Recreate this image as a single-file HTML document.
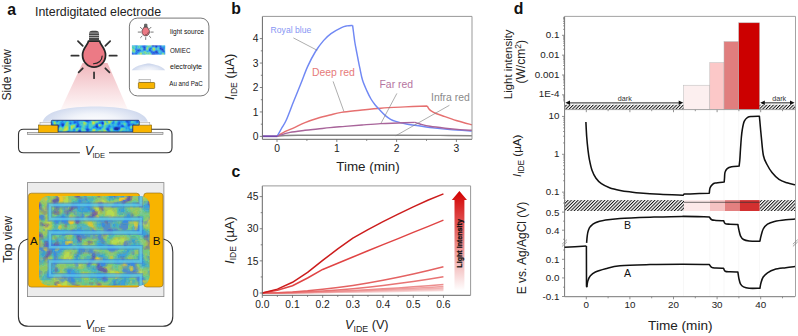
<!DOCTYPE html><html><head><meta charset="utf-8"><style>html,body{margin:0;padding:0;background:#fff;font-family:"Liberation Sans",sans-serif;}svg{display:block;}</style></head><body>
<svg width="798" height="336" viewBox="0 0 798 336" font-family="'Liberation Sans', sans-serif">
<defs>
<pattern id="hatch" patternUnits="userSpaceOnUse" width="2.36" height="4" patternTransform="rotate(45)"><rect x="0" y="0" width="1.0" height="4" fill="#111"/></pattern>
<linearGradient id="cone" x1="0" y1="0" x2="0" y2="1"><stop offset="0" stop-color="#f0b6bb"/><stop offset="0.55" stop-color="#f8dcdf"/><stop offset="1" stop-color="#fef8f8"/></linearGradient>
<radialGradient id="dome" gradientUnits="userSpaceOnUse" cx="95" cy="122" r="54" gradientTransform="translate(95,122) scale(1,0.34) translate(-95,-122)"><stop offset="0" stop-color="#ffffff"/><stop offset="0.45" stop-color="#f1f4fa"/><stop offset="1" stop-color="#cdd7ed"/></radialGradient><radialGradient id="dome2" cx="0.5" cy="1" r="0.55" gradientTransform="translate(0.5,1) scale(1,1.8) translate(-0.5,-1)"><stop offset="0" stop-color="#f8f9fd"/><stop offset="0.5" stop-color="#e6ebf6"/><stop offset="1" stop-color="#c6d1ea"/></radialGradient>
<linearGradient id="arrowg" x1="0" y1="0" x2="0" y2="1"><stop offset="0" stop-color="#d20000"/><stop offset="1" stop-color="#ffffff"/></linearGradient>
<clipPath id="filmside"><path d="M51.3,121.3 Q51.3,120.3 52.3,120.3 H138.2 Q139.2,120.3 139.2,121.3 V125 H132.7 V131.9 H58.2 V125 H51.3 Z"/></clipPath>
<clipPath id="filmtop"><rect x="39" y="196" width="110.6" height="89.5" rx="9"/></clipPath>
<clipPath id="leg"><rect x="131.7" y="45.2" width="33.5" height="9.4"/></clipPath>
<clipPath id="pd"><rect x="564.6" y="16.4" width="230.4" height="280.3"/></clipPath>
</defs>
<text x="7.3" y="14.5" font-size="15.8" font-weight="bold" fill="#111">a</text>
<text x="35" y="15.8" font-size="12.4" fill="#222">Interdigitated electrode</text>
<text transform="translate(10.5,74.9) rotate(-90)" font-size="12" text-anchor="middle" fill="#222">Side view</text>
<text transform="translate(12.2,239.5) rotate(-90)" font-size="12" text-anchor="middle" fill="#222">Top view</text>
<path d="M82.5,63 L107.5,63 L128,110 L60.5,110 Z" fill="url(#cone)"/>
<path d="M42.6,121.8 C46,110 70,106.4 95.2,106.4 C120,106.4 144.5,110 147.9,121.8 Z" fill="url(#dome)"/>
<g transform="translate(94.05,30.6) scale(1)"><line x1="-22.7" y1="25.1" x2="-15.4" y2="25.1" stroke="#333" stroke-width="1.75" stroke-linecap="round"/><line x1="15.4" y1="25.1" x2="22.7" y2="25.1" stroke="#333" stroke-width="1.75" stroke-linecap="round"/><line x1="-16.1" y1="10.5" x2="-11.3" y2="15.3" stroke="#333" stroke-width="1.75" stroke-linecap="round"/><line x1="16.1" y1="10.5" x2="11.3" y2="15.3" stroke="#333" stroke-width="1.75" stroke-linecap="round"/><line x1="-15.4" y1="41.7" x2="-11.3" y2="37.7" stroke="#333" stroke-width="1.75" stroke-linecap="round"/><line x1="15.4" y1="41.7" x2="11.3" y2="37.7" stroke="#333" stroke-width="1.75" stroke-linecap="round"/><line x1="0" y1="41.8" x2="0" y2="47.6" stroke="#333" stroke-width="1.75" stroke-linecap="round"/><path d="M-5,9.8 V3.2 Q-5,0.2 -1.8,0.2 H1.8 Q5,0.2 5,3.2 V9.8 Z" fill="#474747"/><rect x="-5" y="2.1" width="10" height="0.65" fill="#d8d8d8"/><rect x="-5" y="4.45" width="10" height="0.65" fill="#d8d8d8"/><rect x="-5" y="6.75" width="10" height="0.65" fill="#d8d8d8"/><path d="M-5.6,10.4 H5.6 C5.6,13.8 11.5,17.2 11.5,24.3 C11.5,31.4 6.1,36.6 0,36.6 C-6.1,36.6 -11.5,31.4 -11.5,24.3 C-11.5,17.2 -5.6,13.8 -5.6,10.4 Z" fill="#ec7a85" stroke="#262626" stroke-width="1.75" stroke-linejoin="round"/><path d="M8.1,25.4 C8.1,29.8 4.6,33 -0.6,33.2" fill="none" stroke="#262626" stroke-width="1.14" stroke-linecap="round"/></g>
<rect x="129.4" y="18.1" width="79.5" height="77.8" rx="8" fill="#fff" stroke="#555" stroke-width="0.8"/>
<g transform="translate(145.7,23.8) scale(0.33)"><line x1="-22.7" y1="25.1" x2="-15.4" y2="25.1" stroke="#333" stroke-width="2" stroke-linecap="round"/><line x1="15.4" y1="25.1" x2="22.7" y2="25.1" stroke="#333" stroke-width="2" stroke-linecap="round"/><line x1="-16.1" y1="10.5" x2="-11.3" y2="15.3" stroke="#333" stroke-width="2" stroke-linecap="round"/><line x1="16.1" y1="10.5" x2="11.3" y2="15.3" stroke="#333" stroke-width="2" stroke-linecap="round"/><line x1="-15.4" y1="41.7" x2="-11.3" y2="37.7" stroke="#333" stroke-width="2" stroke-linecap="round"/><line x1="15.4" y1="41.7" x2="11.3" y2="37.7" stroke="#333" stroke-width="2" stroke-linecap="round"/><line x1="0" y1="41.8" x2="0" y2="47.6" stroke="#333" stroke-width="2" stroke-linecap="round"/><path d="M-5,9.8 V3.2 Q-5,0.2 -1.8,0.2 H1.8 Q5,0.2 5,3.2 V9.8 Z" fill="#474747"/><rect x="-5" y="2.1" width="10" height="0.65" fill="#d8d8d8"/><rect x="-5" y="4.45" width="10" height="0.65" fill="#d8d8d8"/><rect x="-5" y="6.75" width="10" height="0.65" fill="#d8d8d8"/><path d="M-5.6,10.4 H5.6 C5.6,13.8 11.5,17.2 11.5,24.3 C11.5,31.4 6.1,36.6 0,36.6 C-6.1,36.6 -11.5,31.4 -11.5,24.3 C-11.5,17.2 -5.6,13.8 -5.6,10.4 Z" fill="#ec7a85" stroke="#262626" stroke-width="2" stroke-linejoin="round"/><path d="M8.1,25.4 C8.1,29.8 4.6,33 -0.6,33.2" fill="none" stroke="#262626" stroke-width="1.3" stroke-linecap="round"/></g>
<g clip-path="url(#leg)"><path fill="#1a2c9a" d="M155.7 51.2h1.25v1.25h-1.25zM152.7 54.2h1.25v1.25h-1.25z"/><path fill="#1b38ae" d="M152.7 45.2h1.25v1.25h-1.25zM155.7 45.2h1.25v1.25h-1.25zM155.7 46.2h1.25v1.25h-1.25zM143.7 48.2h1.25v1.25h-1.25zM160.7 48.2h1.25v1.25h-1.25zM162.7 50.2h1.25v1.25h-1.25zM154.7 51.2h1.25v1.25h-1.25zM151.7 54.2h1.25v1.25h-1.25z"/><path fill="#1c44c2" d="M151.7 45.2h1.25v1.25h-1.25zM153.7 45.2h2.25v1.25h-2.25zM143.7 46.2h1.25v1.25h-1.25zM143.7 47.2h1.25v1.25h-1.25zM159.7 47.2h2.25v1.25h-2.25zM159.7 48.2h1.25v1.25h-1.25zM161.7 48.2h1.25v1.25h-1.25zM138.7 49.2h1.25v1.25h-1.25zM143.7 49.2h1.25v1.25h-1.25zM160.7 49.2h3.25v1.25h-3.25zM155.7 50.2h1.25v1.25h-1.25zM150.7 51.2h1.25v1.25h-1.25zM156.7 51.2h1.25v1.25h-1.25zM162.7 51.2h1.25v1.25h-1.25zM155.7 52.2h2.25v1.25h-2.25zM131.7 53.2h1.25v1.25h-1.25zM153.7 54.2h1.25v1.25h-1.25z"/><path fill="#1d50d6" d="M156.7 45.2h1.25v1.25h-1.25zM159.7 45.2h1.25v1.25h-1.25zM142.7 46.2h1.25v1.25h-1.25zM154.7 46.2h1.25v1.25h-1.25zM159.7 46.2h1.25v1.25h-1.25zM162.7 48.2h1.25v1.25h-1.25zM137.7 49.2h1.25v1.25h-1.25zM137.7 50.2h2.25v1.25h-2.25zM156.7 50.2h1.25v1.25h-1.25zM161.7 50.2h1.25v1.25h-1.25zM151.7 51.2h1.25v1.25h-1.25zM154.7 52.2h1.25v1.25h-1.25zM132.7 53.2h1.25v1.25h-1.25zM151.7 53.2h3.25v1.25h-3.25zM154.7 54.2h1.25v1.25h-1.25z"/><path fill="#1e60e6" d="M142.7 45.2h2.25v1.25h-2.25zM158.7 45.2h1.25v1.25h-1.25zM141.7 46.2h1.25v1.25h-1.25zM144.7 46.2h1.25v1.25h-1.25zM156.7 46.2h1.25v1.25h-1.25zM160.7 46.2h1.25v1.25h-1.25zM142.7 47.2h1.25v1.25h-1.25zM144.7 47.2h1.25v1.25h-1.25zM149.7 47.2h1.25v1.25h-1.25zM155.7 47.2h1.25v1.25h-1.25zM161.7 47.2h2.25v1.25h-2.25zM144.7 48.2h1.25v1.25h-1.25zM148.7 48.2h2.25v1.25h-2.25zM135.7 49.2h2.25v1.25h-2.25zM139.7 49.2h1.25v1.25h-1.25zM144.7 49.2h1.25v1.25h-1.25zM148.7 49.2h2.25v1.25h-2.25zM159.7 49.2h1.25v1.25h-1.25zM136.7 50.2h1.25v1.25h-1.25zM139.7 50.2h1.25v1.25h-1.25zM148.7 50.2h3.25v1.25h-3.25zM154.7 50.2h1.25v1.25h-1.25zM163.7 50.2h1.25v1.25h-1.25zM137.7 51.2h1.25v1.25h-1.25zM152.7 51.2h2.25v1.25h-2.25zM163.7 51.2h1.25v1.25h-1.25zM131.7 52.2h1.25v1.25h-1.25zM135.7 52.2h1.25v1.25h-1.25zM150.7 52.2h4.25v1.25h-4.25zM133.7 53.2h3.25v1.25h-3.25zM155.7 53.2h2.25v1.25h-2.25zM164.7 53.2h1.25v1.25h-1.25zM131.7 54.2h4.25v1.25h-4.25zM155.7 54.2h1.25v1.25h-1.25zM159.7 54.2h1.25v1.25h-1.25z"/><path fill="#227aea" d="M135.7 45.2h1.25v1.25h-1.25zM144.7 45.2h1.25v1.25h-1.25zM157.7 45.2h1.25v1.25h-1.25zM160.7 45.2h1.25v1.25h-1.25zM151.7 46.2h2.25v1.25h-2.25zM158.7 46.2h1.25v1.25h-1.25zM162.7 46.2h1.25v1.25h-1.25zM150.7 47.2h1.25v1.25h-1.25zM135.7 48.2h1.25v1.25h-1.25zM138.7 48.2h1.25v1.25h-1.25zM142.7 48.2h1.25v1.25h-1.25zM150.7 48.2h1.25v1.25h-1.25zM142.7 49.2h1.25v1.25h-1.25zM163.7 49.2h1.25v1.25h-1.25zM135.7 50.2h1.25v1.25h-1.25zM151.7 50.2h1.25v1.25h-1.25zM160.7 50.2h1.25v1.25h-1.25zM135.7 51.2h2.25v1.25h-2.25zM138.7 51.2h1.25v1.25h-1.25zM149.7 51.2h1.25v1.25h-1.25zM161.7 51.2h1.25v1.25h-1.25zM134.7 52.2h1.25v1.25h-1.25zM136.7 52.2h1.25v1.25h-1.25zM157.7 52.2h1.25v1.25h-1.25zM164.7 52.2h1.25v1.25h-1.25zM154.7 53.2h1.25v1.25h-1.25zM157.7 53.2h1.25v1.25h-1.25zM159.7 53.2h1.25v1.25h-1.25zM135.7 54.2h1.25v1.25h-1.25zM142.7 54.2h2.25v1.25h-2.25zM156.7 54.2h1.25v1.25h-1.25zM158.7 54.2h1.25v1.25h-1.25zM164.7 54.2h1.25v1.25h-1.25z"/><path fill="#2594ed" d="M134.7 45.2h1.25v1.25h-1.25zM136.7 45.2h1.25v1.25h-1.25zM141.7 45.2h1.25v1.25h-1.25zM164.7 45.2h1.25v1.25h-1.25zM135.7 46.2h1.25v1.25h-1.25zM140.7 46.2h1.25v1.25h-1.25zM153.7 46.2h1.25v1.25h-1.25zM157.7 46.2h1.25v1.25h-1.25zM161.7 46.2h1.25v1.25h-1.25zM163.7 46.2h1.25v1.25h-1.25zM135.7 47.2h1.25v1.25h-1.25zM148.7 47.2h1.25v1.25h-1.25zM154.7 47.2h1.25v1.25h-1.25zM158.7 47.2h1.25v1.25h-1.25zM163.7 47.2h1.25v1.25h-1.25zM134.7 48.2h1.25v1.25h-1.25zM136.7 48.2h2.25v1.25h-2.25zM158.7 48.2h1.25v1.25h-1.25zM163.7 48.2h1.25v1.25h-1.25zM134.7 49.2h1.25v1.25h-1.25zM150.7 49.2h1.25v1.25h-1.25zM155.7 49.2h1.25v1.25h-1.25zM140.7 50.2h5.25v1.25h-5.25zM147.7 50.2h1.25v1.25h-1.25zM157.7 51.2h1.25v1.25h-1.25zM132.7 52.2h1.25v1.25h-1.25zM137.7 52.2h1.25v1.25h-1.25zM163.7 52.2h1.25v1.25h-1.25zM136.7 53.2h1.25v1.25h-1.25zM158.7 53.2h1.25v1.25h-1.25zM157.7 54.2h1.25v1.25h-1.25zM160.7 54.2h1.25v1.25h-1.25z"/><path fill="#2babeb" d="M131.7 45.2h1.25v1.25h-1.25zM133.7 45.2h1.25v1.25h-1.25zM140.7 45.2h1.25v1.25h-1.25zM145.7 45.2h1.25v1.25h-1.25zM163.7 45.2h1.25v1.25h-1.25zM136.7 46.2h1.25v1.25h-1.25zM145.7 46.2h1.25v1.25h-1.25zM150.7 46.2h1.25v1.25h-1.25zM164.7 46.2h1.25v1.25h-1.25zM134.7 47.2h1.25v1.25h-1.25zM141.7 47.2h1.25v1.25h-1.25zM151.7 47.2h1.25v1.25h-1.25zM156.7 47.2h1.25v1.25h-1.25zM139.7 48.2h1.25v1.25h-1.25zM155.7 48.2h1.25v1.25h-1.25zM147.7 49.2h1.25v1.25h-1.25zM156.7 49.2h1.25v1.25h-1.25zM158.7 49.2h1.25v1.25h-1.25zM145.7 50.2h2.25v1.25h-2.25zM152.7 50.2h2.25v1.25h-2.25zM157.7 50.2h1.25v1.25h-1.25zM159.7 50.2h1.25v1.25h-1.25zM134.7 51.2h1.25v1.25h-1.25zM139.7 51.2h3.25v1.25h-3.25zM146.7 51.2h3.25v1.25h-3.25zM160.7 51.2h1.25v1.25h-1.25zM164.7 51.2h1.25v1.25h-1.25zM133.7 52.2h1.25v1.25h-1.25zM138.7 52.2h1.25v1.25h-1.25zM158.7 52.2h3.25v1.25h-3.25zM162.7 52.2h1.25v1.25h-1.25zM142.7 53.2h2.25v1.25h-2.25zM150.7 53.2h1.25v1.25h-1.25zM160.7 53.2h1.25v1.25h-1.25zM136.7 54.2h1.25v1.25h-1.25zM144.7 54.2h1.25v1.25h-1.25zM150.7 54.2h1.25v1.25h-1.25z"/><path fill="#3bbbd8" d="M132.7 45.2h1.25v1.25h-1.25zM139.7 45.2h1.25v1.25h-1.25zM150.7 45.2h1.25v1.25h-1.25zM161.7 45.2h2.25v1.25h-2.25zM134.7 46.2h1.25v1.25h-1.25zM139.7 46.2h1.25v1.25h-1.25zM149.7 46.2h1.25v1.25h-1.25zM136.7 47.2h1.25v1.25h-1.25zM139.7 47.2h2.25v1.25h-2.25zM145.7 47.2h1.25v1.25h-1.25zM164.7 47.2h1.25v1.25h-1.25zM133.7 48.2h1.25v1.25h-1.25zM147.7 48.2h1.25v1.25h-1.25zM151.7 48.2h1.25v1.25h-1.25zM140.7 49.2h2.25v1.25h-2.25zM145.7 49.2h1.25v1.25h-1.25zM151.7 49.2h1.25v1.25h-1.25zM154.7 49.2h1.25v1.25h-1.25zM157.7 49.2h1.25v1.25h-1.25zM134.7 50.2h1.25v1.25h-1.25zM158.7 50.2h1.25v1.25h-1.25zM164.7 50.2h1.25v1.25h-1.25zM131.7 51.2h1.25v1.25h-1.25zM142.7 51.2h1.25v1.25h-1.25zM145.7 51.2h1.25v1.25h-1.25zM159.7 51.2h1.25v1.25h-1.25zM149.7 52.2h1.25v1.25h-1.25zM161.7 52.2h1.25v1.25h-1.25zM137.7 53.2h1.25v1.25h-1.25zM163.7 53.2h1.25v1.25h-1.25zM141.7 54.2h1.25v1.25h-1.25zM163.7 54.2h1.25v1.25h-1.25z"/><path fill="#4bcbc5" d="M137.7 45.2h2.25v1.25h-2.25zM146.7 45.2h1.25v1.25h-1.25zM131.7 46.2h2.25v1.25h-2.25zM137.7 46.2h1.25v1.25h-1.25zM146.7 46.2h1.25v1.25h-1.25zM148.7 46.2h1.25v1.25h-1.25zM131.7 47.2h3.25v1.25h-3.25zM137.7 47.2h2.25v1.25h-2.25zM147.7 47.2h1.25v1.25h-1.25zM157.7 47.2h1.25v1.25h-1.25zM132.7 48.2h1.25v1.25h-1.25zM140.7 48.2h2.25v1.25h-2.25zM145.7 48.2h1.25v1.25h-1.25zM154.7 48.2h1.25v1.25h-1.25zM156.7 48.2h2.25v1.25h-2.25zM164.7 48.2h1.25v1.25h-1.25zM164.7 49.2h1.25v1.25h-1.25zM132.7 51.2h1.25v1.25h-1.25zM158.7 51.2h1.25v1.25h-1.25zM141.7 52.2h2.25v1.25h-2.25zM146.7 52.2h2.25v1.25h-2.25zM138.7 53.2h1.25v1.25h-1.25zM141.7 53.2h1.25v1.25h-1.25zM144.7 53.2h1.25v1.25h-1.25zM147.7 53.2h1.25v1.25h-1.25zM137.7 54.2h2.25v1.25h-2.25zM145.7 54.2h3.25v1.25h-3.25z"/><path fill="#67d3a4" d="M147.7 45.2h2.25v1.25h-2.25zM133.7 46.2h1.25v1.25h-1.25zM138.7 46.2h1.25v1.25h-1.25zM147.7 46.2h1.25v1.25h-1.25zM152.7 47.2h2.25v1.25h-2.25zM131.7 48.2h1.25v1.25h-1.25zM133.7 49.2h1.25v1.25h-1.25zM146.7 49.2h1.25v1.25h-1.25zM131.7 50.2h1.25v1.25h-1.25zM133.7 51.2h1.25v1.25h-1.25zM143.7 51.2h2.25v1.25h-2.25zM139.7 52.2h2.25v1.25h-2.25zM143.7 52.2h1.25v1.25h-1.25zM145.7 52.2h1.25v1.25h-1.25zM148.7 52.2h1.25v1.25h-1.25zM145.7 53.2h2.25v1.25h-2.25zM149.7 53.2h1.25v1.25h-1.25zM161.7 53.2h1.25v1.25h-1.25zM148.7 54.2h1.25v1.25h-1.25zM161.7 54.2h1.25v1.25h-1.25z"/><path fill="#88d87c" d="M149.7 45.2h1.25v1.25h-1.25zM146.7 47.2h1.25v1.25h-1.25zM131.7 49.2h2.25v1.25h-2.25zM152.7 49.2h1.25v1.25h-1.25zM132.7 50.2h2.25v1.25h-2.25zM144.7 52.2h1.25v1.25h-1.25zM148.7 53.2h1.25v1.25h-1.25zM162.7 53.2h1.25v1.25h-1.25zM139.7 54.2h2.25v1.25h-2.25zM149.7 54.2h1.25v1.25h-1.25zM162.7 54.2h1.25v1.25h-1.25z"/><path fill="#a7dc5b" d="M146.7 48.2h1.25v1.25h-1.25zM152.7 48.2h2.25v1.25h-2.25zM153.7 49.2h1.25v1.25h-1.25zM139.7 53.2h2.25v1.25h-2.25z"/></g>
<path d="M131.7,70.2 C135,65 148,63.4 148.5,63.4 C149,63.4 162,65 165.2,70.2 Z" fill="url(#dome2)"/>
<rect x="139" y="79.6" width="11.5" height="3" fill="#f5f5f5" stroke="#888" stroke-width="0.5"/>
<rect x="138.4" y="82.5" width="16.3" height="6" rx="0.8" fill="#f8b400" stroke="#6b5300" stroke-width="0.6"/>
<text x="170" y="33.7" font-size="7.8" fill="#111" textLength="34" lengthAdjust="spacingAndGlyphs">light source</text>
<text x="170" y="52.8" font-size="7.8" fill="#111" textLength="20.4" lengthAdjust="spacingAndGlyphs">OMIEC</text>
<text x="170" y="69.4" font-size="7.8" fill="#111" textLength="32" lengthAdjust="spacingAndGlyphs">electrolyte</text>
<text x="169.3" y="85.5" font-size="7.8" fill="#111" textLength="33.4" lengthAdjust="spacingAndGlyphs">Au and PaC</text>
<path d="M79.9,152.7 H23.5 Q18.5,152.7 18.5,147.7 V134.3 Q18.5,129.3 23.5,129.3 H167 Q172,129.3 172,134.3 V147.7 Q172,152.7 167,152.7 H109" fill="none" stroke="#333" stroke-width="1.1"/>
<rect x="27.6" y="132.3" width="135.4" height="2.2" fill="#e2e2e2" stroke="#777" stroke-width="0.6"/>
<rect x="38.6" y="125" width="19.5" height="7.3" fill="#f8b400" stroke="#7a5c00" stroke-width="0.6"/>
<rect x="132.8" y="125" width="18.8" height="7.3" fill="#f8b400" stroke="#7a5c00" stroke-width="0.6"/>
<rect x="40" y="122.3" width="18" height="2.7" fill="#f3f3f3" stroke="#999" stroke-width="0.5"/>
<rect x="132.8" y="122.3" width="17" height="2.7" fill="#f3f3f3" stroke="#999" stroke-width="0.5"/>
<g clip-path="url(#filmside)"><path fill="#1a2c9a" d="M115 127h2.25v1.25h-2.25zM114 128h4.25v1.25h-4.25zM115 129h3.25v1.25h-3.25z"/><path fill="#1b38ae" d="M102 122h1.25v1.25h-1.25zM102 123h1.25v1.25h-1.25zM62 124h1.25v1.25h-1.25zM62 125h1.25v1.25h-1.25zM117 127h1.25v1.25h-1.25zM118 128h1.25v1.25h-1.25zM114 129h1.25v1.25h-1.25zM79 131h1.25v1.25h-1.25z"/><path fill="#1c44c2" d="M86 120h2.25v1.25h-2.25zM63 124h1.25v1.25h-1.25zM77 125h1.25v1.25h-1.25zM96 125h1.25v1.25h-1.25zM77 126h1.25v1.25h-1.25zM96 126h1.25v1.25h-1.25zM114 127h1.25v1.25h-1.25zM118 127h1.25v1.25h-1.25zM86 129h2.25v1.25h-2.25zM107 129h1.25v1.25h-1.25zM79 130h1.25v1.25h-1.25z"/><path fill="#1d50d6" d="M85 120h1.25v1.25h-1.25zM88 120h1.25v1.25h-1.25zM126 121h2.25v1.25h-2.25zM74 122h1.25v1.25h-1.25zM101 122h1.25v1.25h-1.25zM62 123h1.25v1.25h-1.25zM61 124h1.25v1.25h-1.25zM96 124h1.25v1.25h-1.25zM128 124h2.25v1.25h-2.25zM63 125h1.25v1.25h-1.25zM121 125h2.25v1.25h-2.25zM128 125h1.25v1.25h-1.25zM57 126h2.25v1.25h-2.25zM76 126h1.25v1.25h-1.25zM97 126h1.25v1.25h-1.25zM122 126h1.25v1.25h-1.25zM97 127h1.25v1.25h-1.25zM119 127h1.25v1.25h-1.25zM136 127h1.25v1.25h-1.25zM107 128h1.25v1.25h-1.25zM119 128h1.25v1.25h-1.25zM88 129h1.25v1.25h-1.25zM108 129h1.25v1.25h-1.25zM118 129h1.25v1.25h-1.25zM78 130h1.25v1.25h-1.25zM87 130h1.25v1.25h-1.25zM78 131h1.25v1.25h-1.25zM80 131h1.25v1.25h-1.25z"/><path fill="#1e60e6" d="M84 120h1.25v1.25h-1.25zM126 120h2.25v1.25h-2.25zM137 120h1.25v1.25h-1.25zM74 121h2.25v1.25h-2.25zM86 121h2.25v1.25h-2.25zM102 121h1.25v1.25h-1.25zM128 121h1.25v1.25h-1.25zM136 121h2.25v1.25h-2.25zM75 122h1.25v1.25h-1.25zM103 122h1.25v1.25h-1.25zM118 122h2.25v1.25h-2.25zM127 122h2.25v1.25h-2.25zM61 123h1.25v1.25h-1.25zM63 123h1.25v1.25h-1.25zM70 123h1.25v1.25h-1.25zM77 123h1.25v1.25h-1.25zM101 123h1.25v1.25h-1.25zM103 123h1.25v1.25h-1.25zM118 123h2.25v1.25h-2.25zM128 123h1.25v1.25h-1.25zM77 124h2.25v1.25h-2.25zM97 124h1.25v1.25h-1.25zM102 124h1.25v1.25h-1.25zM118 124h1.25v1.25h-1.25zM57 125h2.25v1.25h-2.25zM61 125h1.25v1.25h-1.25zM76 125h1.25v1.25h-1.25zM78 125h1.25v1.25h-1.25zM95 125h1.25v1.25h-1.25zM97 125h1.25v1.25h-1.25zM129 125h1.25v1.25h-1.25zM62 126h1.25v1.25h-1.25zM78 126h1.25v1.25h-1.25zM95 126h1.25v1.25h-1.25zM121 126h1.25v1.25h-1.25zM123 126h1.25v1.25h-1.25zM96 127h1.25v1.25h-1.25zM137 127h1.25v1.25h-1.25zM86 128h2.25v1.25h-2.25zM106 128h1.25v1.25h-1.25zM108 128h1.25v1.25h-1.25zM113 128h1.25v1.25h-1.25zM106 129h1.25v1.25h-1.25zM80 130h1.25v1.25h-1.25zM86 130h1.25v1.25h-1.25zM88 130h1.25v1.25h-1.25zM107 130h2.25v1.25h-2.25zM53 131h2.25v1.25h-2.25zM67 132h2.25v1.25h-2.25zM79 132h2.25v1.25h-2.25zM84 132h4.25v1.25h-4.25z"/><path fill="#227aea" d="M66 120h1.25v1.25h-1.25zM73 120h2.25v1.25h-2.25zM77 120h2.25v1.25h-2.25zM83 120h1.25v1.25h-1.25zM89 120h1.25v1.25h-1.25zM128 120h4.25v1.25h-4.25zM138 120h1.25v1.25h-1.25zM56 121h2.25v1.25h-2.25zM62 121h1.25v1.25h-1.25zM76 121h2.25v1.25h-2.25zM88 121h1.25v1.25h-1.25zM101 121h1.25v1.25h-1.25zM113 121h1.25v1.25h-1.25zM118 121h2.25v1.25h-2.25zM125 121h1.25v1.25h-1.25zM129 121h1.25v1.25h-1.25zM61 122h1.25v1.25h-1.25zM70 122h1.25v1.25h-1.25zM73 122h1.25v1.25h-1.25zM76 122h2.25v1.25h-2.25zM99 122h2.25v1.25h-2.25zM112 122h2.25v1.25h-2.25zM126 122h1.25v1.25h-1.25zM129 122h1.25v1.25h-1.25zM136 122h2.25v1.25h-2.25zM51 123h2.25v1.25h-2.25zM69 123h1.25v1.25h-1.25zM74 123h1.25v1.25h-1.25zM78 123h1.25v1.25h-1.25zM96 123h2.25v1.25h-2.25zM112 123h1.25v1.25h-1.25zM117 123h1.25v1.25h-1.25zM127 123h1.25v1.25h-1.25zM129 123h1.25v1.25h-1.25zM52 124h1.25v1.25h-1.25zM60 124h1.25v1.25h-1.25zM95 124h1.25v1.25h-1.25zM117 124h1.25v1.25h-1.25zM119 124h1.25v1.25h-1.25zM127 124h1.25v1.25h-1.25zM130 124h4.25v1.25h-4.25zM59 125h1.25v1.25h-1.25zM109 125h1.25v1.25h-1.25zM118 125h1.25v1.25h-1.25zM123 125h1.25v1.25h-1.25zM127 125h1.25v1.25h-1.25zM79 126h2.25v1.25h-2.25zM87 126h1.25v1.25h-1.25zM94 126h1.25v1.25h-1.25zM108 126h2.25v1.25h-2.25zM115 126h6.25v1.25h-6.25zM128 126h1.25v1.25h-1.25zM136 126h1.25v1.25h-1.25zM76 127h1.25v1.25h-1.25zM87 127h1.25v1.25h-1.25zM93 127h1.25v1.25h-1.25zM98 127h3.25v1.25h-3.25zM107 127h2.25v1.25h-2.25zM113 127h1.25v1.25h-1.25zM88 128h1.25v1.25h-1.25zM99 128h2.25v1.25h-2.25zM73 129h2.25v1.25h-2.25zM79 129h1.25v1.25h-1.25zM89 129h1.25v1.25h-1.25zM113 129h1.25v1.25h-1.25zM119 129h1.25v1.25h-1.25zM129 129h3.25v1.25h-3.25zM54 130h1.25v1.25h-1.25zM109 130h1.25v1.25h-1.25zM115 130h3.25v1.25h-3.25zM67 131h2.25v1.25h-2.25zM86 131h2.25v1.25h-2.25zM53 132h1.25v1.25h-1.25zM66 132h1.25v1.25h-1.25zM73 132h1.25v1.25h-1.25zM78 132h1.25v1.25h-1.25zM82 132h2.25v1.25h-2.25zM88 132h1.25v1.25h-1.25zM131 132h3.25v1.25h-3.25z"/><path fill="#2594ed" d="M57 120h2.25v1.25h-2.25zM62 120h1.25v1.25h-1.25zM67 120h3.25v1.25h-3.25zM72 120h1.25v1.25h-1.25zM76 120h1.25v1.25h-1.25zM79 120h4.25v1.25h-4.25zM94 120h1.25v1.25h-1.25zM113 120h1.25v1.25h-1.25zM125 120h1.25v1.25h-1.25zM132 120h2.25v1.25h-2.25zM136 120h1.25v1.25h-1.25zM61 121h1.25v1.25h-1.25zM69 121h2.25v1.25h-2.25zM73 121h1.25v1.25h-1.25zM78 121h1.25v1.25h-1.25zM85 121h1.25v1.25h-1.25zM89 121h1.25v1.25h-1.25zM100 121h1.25v1.25h-1.25zM120 121h2.25v1.25h-2.25zM130 121h1.25v1.25h-1.25zM135 121h1.25v1.25h-1.25zM138 121h1.25v1.25h-1.25zM51 122h2.25v1.25h-2.25zM60 122h1.25v1.25h-1.25zM62 122h2.25v1.25h-2.25zM69 122h1.25v1.25h-1.25zM71 122h1.25v1.25h-1.25zM78 122h1.25v1.25h-1.25zM87 122h2.25v1.25h-2.25zM117 122h1.25v1.25h-1.25zM120 122h1.25v1.25h-1.25zM60 123h1.25v1.25h-1.25zM64 123h1.25v1.25h-1.25zM71 123h1.25v1.25h-1.25zM73 123h1.25v1.25h-1.25zM75 123h2.25v1.25h-2.25zM98 123h3.25v1.25h-3.25zM113 123h1.25v1.25h-1.25zM120 123h1.25v1.25h-1.25zM130 123h4.25v1.25h-4.25zM51 124h1.25v1.25h-1.25zM58 124h2.25v1.25h-2.25zM64 124h1.25v1.25h-1.25zM70 124h1.25v1.25h-1.25zM76 124h1.25v1.25h-1.25zM79 124h1.25v1.25h-1.25zM87 124h1.25v1.25h-1.25zM103 124h1.25v1.25h-1.25zM120 124h3.25v1.25h-3.25zM52 125h1.25v1.25h-1.25zM60 125h1.25v1.25h-1.25zM79 125h1.25v1.25h-1.25zM87 125h1.25v1.25h-1.25zM102 125h1.25v1.25h-1.25zM108 125h1.25v1.25h-1.25zM117 125h1.25v1.25h-1.25zM119 125h2.25v1.25h-2.25zM130 125h1.25v1.25h-1.25zM59 126h1.25v1.25h-1.25zM61 126h1.25v1.25h-1.25zM63 126h1.25v1.25h-1.25zM86 126h1.25v1.25h-1.25zM93 126h1.25v1.25h-1.25zM98 126h1.25v1.25h-1.25zM102 126h1.25v1.25h-1.25zM110 126h1.25v1.25h-1.25zM113 126h2.25v1.25h-2.25zM124 126h1.25v1.25h-1.25zM127 126h1.25v1.25h-1.25zM129 126h1.25v1.25h-1.25zM135 126h1.25v1.25h-1.25zM57 127h2.25v1.25h-2.25zM69 127h1.25v1.25h-1.25zM77 127h1.25v1.25h-1.25zM79 127h2.25v1.25h-2.25zM86 127h1.25v1.25h-1.25zM94 127h2.25v1.25h-2.25zM101 127h1.25v1.25h-1.25zM106 127h1.25v1.25h-1.25zM109 127h1.25v1.25h-1.25zM120 127h1.25v1.25h-1.25zM126 127h1.25v1.25h-1.25zM128 127h1.25v1.25h-1.25zM135 127h1.25v1.25h-1.25zM69 128h1.25v1.25h-1.25zM85 128h1.25v1.25h-1.25zM96 128h3.25v1.25h-3.25zM109 128h1.25v1.25h-1.25zM126 128h1.25v1.25h-1.25zM128 128h2.25v1.25h-2.25zM136 128h2.25v1.25h-2.25zM80 129h1.25v1.25h-1.25zM85 129h1.25v1.25h-1.25zM90 129h1.25v1.25h-1.25zM96 129h1.25v1.25h-1.25zM109 129h1.25v1.25h-1.25zM73 130h2.25v1.25h-2.25zM89 130h1.25v1.25h-1.25zM114 130h1.25v1.25h-1.25zM118 130h1.25v1.25h-1.25zM129 130h4.25v1.25h-4.25zM73 131h1.25v1.25h-1.25zM88 131h1.25v1.25h-1.25zM108 131h2.25v1.25h-2.25zM122 131h1.25v1.25h-1.25zM131 131h2.25v1.25h-2.25zM54 132h1.25v1.25h-1.25zM58 132h1.25v1.25h-1.25zM72 132h1.25v1.25h-1.25zM74 132h1.25v1.25h-1.25zM81 132h1.25v1.25h-1.25zM89 132h1.25v1.25h-1.25zM94 132h1.25v1.25h-1.25zM122 132h1.25v1.25h-1.25zM126 132h2.25v1.25h-2.25zM130 132h1.25v1.25h-1.25z"/><path fill="#2babeb" d="M51 120h3.25v1.25h-3.25zM61 120h1.25v1.25h-1.25zM63 120h1.25v1.25h-1.25zM65 120h1.25v1.25h-1.25zM70 120h2.25v1.25h-2.25zM75 120h1.25v1.25h-1.25zM90 120h1.25v1.25h-1.25zM93 120h1.25v1.25h-1.25zM118 120h5.25v1.25h-5.25zM134 120h2.25v1.25h-2.25zM139 120h1.25v1.25h-1.25zM51 121h2.25v1.25h-2.25zM58 121h1.25v1.25h-1.25zM60 121h1.25v1.25h-1.25zM63 121h1.25v1.25h-1.25zM65 121h1.25v1.25h-1.25zM71 121h2.25v1.25h-2.25zM79 121h1.25v1.25h-1.25zM90 121h1.25v1.25h-1.25zM99 121h1.25v1.25h-1.25zM103 121h1.25v1.25h-1.25zM112 121h1.25v1.25h-1.25zM114 121h1.25v1.25h-1.25zM117 121h1.25v1.25h-1.25zM122 121h3.25v1.25h-3.25zM134 121h1.25v1.25h-1.25zM139 121h1.25v1.25h-1.25zM56 122h1.25v1.25h-1.25zM64 122h1.25v1.25h-1.25zM72 122h1.25v1.25h-1.25zM89 122h2.25v1.25h-2.25zM98 122h1.25v1.25h-1.25zM111 122h1.25v1.25h-1.25zM114 122h1.25v1.25h-1.25zM121 122h2.25v1.25h-2.25zM125 122h1.25v1.25h-1.25zM130 122h1.25v1.25h-1.25zM135 122h1.25v1.25h-1.25zM138 122h1.25v1.25h-1.25zM59 123h1.25v1.25h-1.25zM72 123h1.25v1.25h-1.25zM79 123h1.25v1.25h-1.25zM87 123h2.25v1.25h-2.25zM95 123h1.25v1.25h-1.25zM111 123h1.25v1.25h-1.25zM114 123h1.25v1.25h-1.25zM116 123h1.25v1.25h-1.25zM126 123h1.25v1.25h-1.25zM134 123h1.25v1.25h-1.25zM136 123h1.25v1.25h-1.25zM57 124h1.25v1.25h-1.25zM69 124h1.25v1.25h-1.25zM88 124h1.25v1.25h-1.25zM101 124h1.25v1.25h-1.25zM109 124h1.25v1.25h-1.25zM112 124h2.25v1.25h-2.25zM116 124h1.25v1.25h-1.25zM126 124h1.25v1.25h-1.25zM134 124h1.25v1.25h-1.25zM51 125h1.25v1.25h-1.25zM56 125h1.25v1.25h-1.25zM80 125h1.25v1.25h-1.25zM86 125h1.25v1.25h-1.25zM88 125h1.25v1.25h-1.25zM94 125h1.25v1.25h-1.25zM107 125h1.25v1.25h-1.25zM110 125h1.25v1.25h-1.25zM112 125h2.25v1.25h-2.25zM116 125h1.25v1.25h-1.25zM126 125h1.25v1.25h-1.25zM131 125h5.25v1.25h-5.25zM56 126h1.25v1.25h-1.25zM69 126h1.25v1.25h-1.25zM75 126h1.25v1.25h-1.25zM81 126h1.25v1.25h-1.25zM85 126h1.25v1.25h-1.25zM88 126h1.25v1.25h-1.25zM100 126h2.25v1.25h-2.25zM107 126h1.25v1.25h-1.25zM111 126h2.25v1.25h-2.25zM125 126h2.25v1.25h-2.25zM137 126h1.25v1.25h-1.25zM62 127h1.25v1.25h-1.25zM75 127h1.25v1.25h-1.25zM78 127h1.25v1.25h-1.25zM85 127h1.25v1.25h-1.25zM88 127h1.25v1.25h-1.25zM92 127h1.25v1.25h-1.25zM102 127h1.25v1.25h-1.25zM110 127h1.25v1.25h-1.25zM112 127h1.25v1.25h-1.25zM121 127h5.25v1.25h-5.25zM127 127h1.25v1.25h-1.25zM129 127h1.25v1.25h-1.25zM138 127h1.25v1.25h-1.25zM73 128h2.25v1.25h-2.25zM79 128h2.25v1.25h-2.25zM89 128h1.25v1.25h-1.25zM91 128h1.25v1.25h-1.25zM95 128h1.25v1.25h-1.25zM101 128h1.25v1.25h-1.25zM105 128h1.25v1.25h-1.25zM120 128h1.25v1.25h-1.25zM125 128h1.25v1.25h-1.25zM127 128h1.25v1.25h-1.25zM69 129h1.25v1.25h-1.25zM78 129h1.25v1.25h-1.25zM91 129h1.25v1.25h-1.25zM97 129h4.25v1.25h-4.25zM126 129h1.25v1.25h-1.25zM128 129h1.25v1.25h-1.25zM132 129h1.25v1.25h-1.25zM53 130h1.25v1.25h-1.25zM55 130h1.25v1.25h-1.25zM68 130h2.25v1.25h-2.25zM90 130h1.25v1.25h-1.25zM106 130h1.25v1.25h-1.25zM113 130h1.25v1.25h-1.25zM126 130h1.25v1.25h-1.25zM128 130h1.25v1.25h-1.25zM52 131h1.25v1.25h-1.25zM55 131h1.25v1.25h-1.25zM66 131h1.25v1.25h-1.25zM69 131h1.25v1.25h-1.25zM72 131h1.25v1.25h-1.25zM74 131h1.25v1.25h-1.25zM77 131h1.25v1.25h-1.25zM81 131h1.25v1.25h-1.25zM83 131h1.25v1.25h-1.25zM85 131h1.25v1.25h-1.25zM89 131h1.25v1.25h-1.25zM117 131h1.25v1.25h-1.25zM123 131h1.25v1.25h-1.25zM125 131h2.25v1.25h-2.25zM130 131h1.25v1.25h-1.25zM133 131h1.25v1.25h-1.25zM52 132h1.25v1.25h-1.25zM65 132h1.25v1.25h-1.25zM69 132h1.25v1.25h-1.25zM77 132h1.25v1.25h-1.25zM93 132h1.25v1.25h-1.25zM95 132h1.25v1.25h-1.25zM123 132h1.25v1.25h-1.25zM125 132h1.25v1.25h-1.25zM128 132h2.25v1.25h-2.25zM134 132h1.25v1.25h-1.25zM137 132h2.25v1.25h-2.25z"/><path fill="#3bbbd8" d="M54 120h1.25v1.25h-1.25zM56 120h1.25v1.25h-1.25zM59 120h1.25v1.25h-1.25zM64 120h1.25v1.25h-1.25zM95 120h1.25v1.25h-1.25zM101 120h2.25v1.25h-2.25zM114 120h1.25v1.25h-1.25zM117 120h1.25v1.25h-1.25zM123 120h2.25v1.25h-2.25zM55 121h1.25v1.25h-1.25zM59 121h1.25v1.25h-1.25zM64 121h1.25v1.25h-1.25zM66 121h1.25v1.25h-1.25zM68 121h1.25v1.25h-1.25zM80 121h3.25v1.25h-3.25zM84 121h1.25v1.25h-1.25zM98 121h1.25v1.25h-1.25zM106 121h1.25v1.25h-1.25zM133 121h1.25v1.25h-1.25zM57 122h1.25v1.25h-1.25zM59 122h1.25v1.25h-1.25zM65 122h1.25v1.25h-1.25zM79 122h1.25v1.25h-1.25zM81 122h1.25v1.25h-1.25zM86 122h1.25v1.25h-1.25zM97 122h1.25v1.25h-1.25zM106 122h2.25v1.25h-2.25zM116 122h1.25v1.25h-1.25zM123 122h2.25v1.25h-2.25zM133 122h2.25v1.25h-2.25zM139 122h1.25v1.25h-1.25zM56 123h1.25v1.25h-1.25zM68 123h1.25v1.25h-1.25zM80 123h3.25v1.25h-3.25zM89 123h2.25v1.25h-2.25zM115 123h1.25v1.25h-1.25zM121 123h2.25v1.25h-2.25zM135 123h1.25v1.25h-1.25zM137 123h1.25v1.25h-1.25zM139 123h1.25v1.25h-1.25zM53 124h1.25v1.25h-1.25zM56 124h1.25v1.25h-1.25zM71 124h1.25v1.25h-1.25zM75 124h1.25v1.25h-1.25zM80 124h1.25v1.25h-1.25zM86 124h1.25v1.25h-1.25zM94 124h1.25v1.25h-1.25zM108 124h1.25v1.25h-1.25zM110 124h2.25v1.25h-2.25zM114 124h2.25v1.25h-2.25zM123 124h1.25v1.25h-1.25zM135 124h1.25v1.25h-1.25zM64 125h1.25v1.25h-1.25zM69 125h1.25v1.25h-1.25zM75 125h1.25v1.25h-1.25zM81 125h1.25v1.25h-1.25zM85 125h1.25v1.25h-1.25zM93 125h1.25v1.25h-1.25zM101 125h1.25v1.25h-1.25zM103 125h1.25v1.25h-1.25zM106 125h1.25v1.25h-1.25zM111 125h1.25v1.25h-1.25zM114 125h2.25v1.25h-2.25zM124 125h2.25v1.25h-2.25zM136 125h1.25v1.25h-1.25zM52 126h1.25v1.25h-1.25zM60 126h1.25v1.25h-1.25zM92 126h1.25v1.25h-1.25zM99 126h1.25v1.25h-1.25zM103 126h1.25v1.25h-1.25zM106 126h1.25v1.25h-1.25zM59 127h1.25v1.25h-1.25zM81 127h1.25v1.25h-1.25zM91 127h1.25v1.25h-1.25zM111 127h1.25v1.25h-1.25zM57 128h1.25v1.25h-1.25zM75 128h1.25v1.25h-1.25zM84 128h1.25v1.25h-1.25zM90 128h1.25v1.25h-1.25zM92 128h3.25v1.25h-3.25zM110 128h1.25v1.25h-1.25zM112 128h1.25v1.25h-1.25zM130 128h2.25v1.25h-2.25zM135 128h1.25v1.25h-1.25zM138 128h1.25v1.25h-1.25zM51 129h1.25v1.25h-1.25zM72 129h1.25v1.25h-1.25zM75 129h1.25v1.25h-1.25zM105 129h1.25v1.25h-1.25zM125 129h1.25v1.25h-1.25zM127 129h1.25v1.25h-1.25zM51 130h2.25v1.25h-2.25zM70 130h1.25v1.25h-1.25zM72 130h1.25v1.25h-1.25zM75 130h1.25v1.25h-1.25zM77 130h1.25v1.25h-1.25zM81 130h1.25v1.25h-1.25zM85 130h1.25v1.25h-1.25zM91 130h1.25v1.25h-1.25zM96 130h2.25v1.25h-2.25zM110 130h1.25v1.25h-1.25zM119 130h1.25v1.25h-1.25zM122 130h4.25v1.25h-4.25zM127 130h1.25v1.25h-1.25zM133 130h1.25v1.25h-1.25zM58 131h3.25v1.25h-3.25zM70 131h2.25v1.25h-2.25zM82 131h1.25v1.25h-1.25zM84 131h1.25v1.25h-1.25zM90 131h1.25v1.25h-1.25zM107 131h1.25v1.25h-1.25zM110 131h1.25v1.25h-1.25zM113 131h2.25v1.25h-2.25zM116 131h1.25v1.25h-1.25zM118 131h1.25v1.25h-1.25zM121 131h1.25v1.25h-1.25zM124 131h1.25v1.25h-1.25zM127 131h3.25v1.25h-3.25zM134 131h1.25v1.25h-1.25zM57 132h1.25v1.25h-1.25zM59 132h1.25v1.25h-1.25zM71 132h1.25v1.25h-1.25zM75 132h2.25v1.25h-2.25zM90 132h1.25v1.25h-1.25zM109 132h1.25v1.25h-1.25zM113 132h1.25v1.25h-1.25zM117 132h1.25v1.25h-1.25zM121 132h1.25v1.25h-1.25zM124 132h1.25v1.25h-1.25z"/><path fill="#4bcbc5" d="M55 120h1.25v1.25h-1.25zM60 120h1.25v1.25h-1.25zM91 120h2.25v1.25h-2.25zM96 120h1.25v1.25h-1.25zM98 120h3.25v1.25h-3.25zM103 120h1.25v1.25h-1.25zM106 120h1.25v1.25h-1.25zM112 120h1.25v1.25h-1.25zM53 121h1.25v1.25h-1.25zM67 121h1.25v1.25h-1.25zM83 121h1.25v1.25h-1.25zM91 121h1.25v1.25h-1.25zM107 121h1.25v1.25h-1.25zM115 121h2.25v1.25h-2.25zM131 121h2.25v1.25h-2.25zM53 122h1.25v1.25h-1.25zM58 122h1.25v1.25h-1.25zM68 122h1.25v1.25h-1.25zM80 122h1.25v1.25h-1.25zM82 122h1.25v1.25h-1.25zM91 122h1.25v1.25h-1.25zM96 122h1.25v1.25h-1.25zM115 122h1.25v1.25h-1.25zM131 122h2.25v1.25h-2.25zM53 123h1.25v1.25h-1.25zM57 123h2.25v1.25h-2.25zM65 123h1.25v1.25h-1.25zM86 123h1.25v1.25h-1.25zM91 123h1.25v1.25h-1.25zM110 123h1.25v1.25h-1.25zM123 123h1.25v1.25h-1.25zM125 123h1.25v1.25h-1.25zM138 123h1.25v1.25h-1.25zM68 124h1.25v1.25h-1.25zM72 124h3.25v1.25h-3.25zM81 124h2.25v1.25h-2.25zM89 124h3.25v1.25h-3.25zM98 124h1.25v1.25h-1.25zM100 124h1.25v1.25h-1.25zM107 124h1.25v1.25h-1.25zM125 124h1.25v1.25h-1.25zM53 125h1.25v1.25h-1.25zM68 125h1.25v1.25h-1.25zM70 125h1.25v1.25h-1.25zM82 125h1.25v1.25h-1.25zM84 125h1.25v1.25h-1.25zM89 125h4.25v1.25h-4.25zM98 125h1.25v1.25h-1.25zM105 125h1.25v1.25h-1.25zM51 126h1.25v1.25h-1.25zM68 126h1.25v1.25h-1.25zM82 126h1.25v1.25h-1.25zM84 126h1.25v1.25h-1.25zM89 126h3.25v1.25h-3.25zM105 126h1.25v1.25h-1.25zM130 126h1.25v1.25h-1.25zM134 126h1.25v1.25h-1.25zM138 126h1.25v1.25h-1.25zM51 127h1.25v1.25h-1.25zM56 127h1.25v1.25h-1.25zM61 127h1.25v1.25h-1.25zM63 127h1.25v1.25h-1.25zM68 127h1.25v1.25h-1.25zM70 127h1.25v1.25h-1.25zM74 127h1.25v1.25h-1.25zM82 127h3.25v1.25h-3.25zM89 127h2.25v1.25h-2.25zM103 127h1.25v1.25h-1.25zM105 127h1.25v1.25h-1.25zM139 127h1.25v1.25h-1.25zM51 128h1.25v1.25h-1.25zM58 128h1.25v1.25h-1.25zM62 128h1.25v1.25h-1.25zM68 128h1.25v1.25h-1.25zM70 128h1.25v1.25h-1.25zM76 128h1.25v1.25h-1.25zM78 128h1.25v1.25h-1.25zM81 128h1.25v1.25h-1.25zM83 128h1.25v1.25h-1.25zM102 128h1.25v1.25h-1.25zM111 128h1.25v1.25h-1.25zM123 128h2.25v1.25h-2.25zM132 128h1.25v1.25h-1.25zM139 128h1.25v1.25h-1.25zM52 129h1.25v1.25h-1.25zM68 129h1.25v1.25h-1.25zM70 129h1.25v1.25h-1.25zM81 129h1.25v1.25h-1.25zM84 129h1.25v1.25h-1.25zM95 129h1.25v1.25h-1.25zM101 129h1.25v1.25h-1.25zM110 129h1.25v1.25h-1.25zM112 129h1.25v1.25h-1.25zM120 129h1.25v1.25h-1.25zM123 129h2.25v1.25h-2.25zM133 129h1.25v1.25h-1.25zM137 129h3.25v1.25h-3.25zM59 130h3.25v1.25h-3.25zM67 130h1.25v1.25h-1.25zM71 130h1.25v1.25h-1.25zM95 130h1.25v1.25h-1.25zM98 130h1.25v1.25h-1.25zM112 130h1.25v1.25h-1.25zM138 130h2.25v1.25h-2.25zM51 131h1.25v1.25h-1.25zM57 131h1.25v1.25h-1.25zM61 131h1.25v1.25h-1.25zM65 131h1.25v1.25h-1.25zM75 131h2.25v1.25h-2.25zM95 131h2.25v1.25h-2.25zM112 131h1.25v1.25h-1.25zM115 131h1.25v1.25h-1.25zM137 131h2.25v1.25h-2.25zM51 132h1.25v1.25h-1.25zM55 132h1.25v1.25h-1.25zM60 132h5.25v1.25h-5.25zM70 132h1.25v1.25h-1.25zM92 132h1.25v1.25h-1.25zM96 132h1.25v1.25h-1.25zM102 132h1.25v1.25h-1.25zM107 132h2.25v1.25h-2.25zM110 132h1.25v1.25h-1.25zM112 132h1.25v1.25h-1.25zM114 132h1.25v1.25h-1.25zM116 132h1.25v1.25h-1.25zM118 132h3.25v1.25h-3.25zM135 132h2.25v1.25h-2.25zM139 132h1.25v1.25h-1.25z"/><path fill="#67d3a4" d="M97 120h1.25v1.25h-1.25zM105 120h1.25v1.25h-1.25zM107 120h1.25v1.25h-1.25zM115 120h2.25v1.25h-2.25zM54 121h1.25v1.25h-1.25zM94 121h2.25v1.25h-2.25zM97 121h1.25v1.25h-1.25zM104 121h2.25v1.25h-2.25zM111 121h1.25v1.25h-1.25zM55 122h1.25v1.25h-1.25zM66 122h1.25v1.25h-1.25zM85 122h1.25v1.25h-1.25zM95 122h1.25v1.25h-1.25zM104 122h1.25v1.25h-1.25zM110 122h1.25v1.25h-1.25zM104 123h1.25v1.25h-1.25zM106 123h4.25v1.25h-4.25zM124 123h1.25v1.25h-1.25zM55 124h1.25v1.25h-1.25zM65 124h1.25v1.25h-1.25zM83 124h1.25v1.25h-1.25zM85 124h1.25v1.25h-1.25zM92 124h2.25v1.25h-2.25zM106 124h1.25v1.25h-1.25zM124 124h1.25v1.25h-1.25zM136 124h1.25v1.25h-1.25zM139 124h1.25v1.25h-1.25zM65 125h1.25v1.25h-1.25zM83 125h1.25v1.25h-1.25zM100 125h1.25v1.25h-1.25zM104 125h1.25v1.25h-1.25zM64 126h1.25v1.25h-1.25zM70 126h1.25v1.25h-1.25zM74 126h1.25v1.25h-1.25zM83 126h1.25v1.25h-1.25zM104 126h1.25v1.25h-1.25zM133 126h1.25v1.25h-1.25zM139 126h1.25v1.25h-1.25zM52 127h1.25v1.25h-1.25zM60 127h1.25v1.25h-1.25zM73 127h1.25v1.25h-1.25zM104 127h1.25v1.25h-1.25zM130 127h1.25v1.25h-1.25zM134 127h1.25v1.25h-1.25zM52 128h1.25v1.25h-1.25zM56 128h1.25v1.25h-1.25zM59 128h1.25v1.25h-1.25zM63 128h1.25v1.25h-1.25zM72 128h1.25v1.25h-1.25zM77 128h1.25v1.25h-1.25zM82 128h1.25v1.25h-1.25zM103 128h2.25v1.25h-2.25zM121 128h2.25v1.25h-2.25zM54 129h2.25v1.25h-2.25zM57 129h2.25v1.25h-2.25zM61 129h2.25v1.25h-2.25zM71 129h1.25v1.25h-1.25zM77 129h1.25v1.25h-1.25zM82 129h2.25v1.25h-2.25zM92 129h1.25v1.25h-1.25zM102 129h1.25v1.25h-1.25zM104 129h1.25v1.25h-1.25zM111 129h1.25v1.25h-1.25zM122 129h1.25v1.25h-1.25zM136 129h1.25v1.25h-1.25zM56 130h3.25v1.25h-3.25zM62 130h1.25v1.25h-1.25zM76 130h1.25v1.25h-1.25zM82 130h3.25v1.25h-3.25zM99 130h4.25v1.25h-4.25zM111 130h1.25v1.25h-1.25zM120 130h2.25v1.25h-2.25zM134 130h1.25v1.25h-1.25zM137 130h1.25v1.25h-1.25zM56 131h1.25v1.25h-1.25zM62 131h1.25v1.25h-1.25zM91 131h1.25v1.25h-1.25zM94 131h1.25v1.25h-1.25zM97 131h1.25v1.25h-1.25zM101 131h2.25v1.25h-2.25zM106 131h1.25v1.25h-1.25zM111 131h1.25v1.25h-1.25zM119 131h2.25v1.25h-2.25zM139 131h1.25v1.25h-1.25zM56 132h1.25v1.25h-1.25zM91 132h1.25v1.25h-1.25zM97 132h2.25v1.25h-2.25zM101 132h1.25v1.25h-1.25zM106 132h1.25v1.25h-1.25zM111 132h1.25v1.25h-1.25zM115 132h1.25v1.25h-1.25z"/><path fill="#88d87c" d="M104 120h1.25v1.25h-1.25zM110 120h2.25v1.25h-2.25zM92 121h2.25v1.25h-2.25zM96 121h1.25v1.25h-1.25zM110 121h1.25v1.25h-1.25zM67 122h1.25v1.25h-1.25zM83 122h1.25v1.25h-1.25zM105 122h1.25v1.25h-1.25zM108 122h1.25v1.25h-1.25zM55 123h1.25v1.25h-1.25zM66 123h2.25v1.25h-2.25zM83 123h1.25v1.25h-1.25zM85 123h1.25v1.25h-1.25zM94 123h1.25v1.25h-1.25zM54 124h1.25v1.25h-1.25zM66 124h2.25v1.25h-2.25zM84 124h1.25v1.25h-1.25zM99 124h1.25v1.25h-1.25zM104 124h2.25v1.25h-2.25zM54 125h2.25v1.25h-2.25zM66 125h2.25v1.25h-2.25zM71 125h2.25v1.25h-2.25zM74 125h1.25v1.25h-1.25zM137 125h1.25v1.25h-1.25zM139 125h1.25v1.25h-1.25zM53 126h1.25v1.25h-1.25zM131 126h2.25v1.25h-2.25zM64 127h1.25v1.25h-1.25zM131 127h1.25v1.25h-1.25zM60 128h2.25v1.25h-2.25zM133 128h2.25v1.25h-2.25zM53 129h1.25v1.25h-1.25zM56 129h1.25v1.25h-1.25zM59 129h2.25v1.25h-2.25zM63 129h1.25v1.25h-1.25zM76 129h1.25v1.25h-1.25zM103 129h1.25v1.25h-1.25zM121 129h1.25v1.25h-1.25zM134 129h2.25v1.25h-2.25zM66 130h1.25v1.25h-1.25zM92 130h1.25v1.25h-1.25zM103 130h1.25v1.25h-1.25zM105 130h1.25v1.25h-1.25zM63 131h2.25v1.25h-2.25zM92 131h2.25v1.25h-2.25zM98 131h1.25v1.25h-1.25zM135 131h2.25v1.25h-2.25zM99 132h2.25v1.25h-2.25zM103 132h1.25v1.25h-1.25zM105 132h1.25v1.25h-1.25z"/><path fill="#a7dc5b" d="M108 120h2.25v1.25h-2.25zM108 121h1.25v1.25h-1.25zM54 122h1.25v1.25h-1.25zM84 122h1.25v1.25h-1.25zM92 122h1.25v1.25h-1.25zM94 122h1.25v1.25h-1.25zM109 122h1.25v1.25h-1.25zM54 123h1.25v1.25h-1.25zM84 123h1.25v1.25h-1.25zM92 123h1.25v1.25h-1.25zM105 123h1.25v1.25h-1.25zM137 124h2.25v1.25h-2.25zM73 125h1.25v1.25h-1.25zM99 125h1.25v1.25h-1.25zM55 126h1.25v1.25h-1.25zM65 126h3.25v1.25h-3.25zM72 126h2.25v1.25h-2.25zM65 127h1.25v1.25h-1.25zM72 127h1.25v1.25h-1.25zM132 127h2.25v1.25h-2.25zM64 128h1.25v1.25h-1.25zM71 128h1.25v1.25h-1.25zM67 129h1.25v1.25h-1.25zM93 129h2.25v1.25h-2.25zM63 130h1.25v1.25h-1.25zM104 130h1.25v1.25h-1.25zM135 130h2.25v1.25h-2.25zM99 131h2.25v1.25h-2.25zM103 131h1.25v1.25h-1.25zM105 131h1.25v1.25h-1.25zM104 132h1.25v1.25h-1.25z"/><path fill="#bfdd4d" d="M109 121h1.25v1.25h-1.25zM93 123h1.25v1.25h-1.25zM138 125h1.25v1.25h-1.25zM54 126h1.25v1.25h-1.25zM71 126h1.25v1.25h-1.25zM53 127h1.25v1.25h-1.25zM55 127h1.25v1.25h-1.25zM66 127h2.25v1.25h-2.25zM71 127h1.25v1.25h-1.25zM53 128h1.25v1.25h-1.25zM55 128h1.25v1.25h-1.25zM65 128h1.25v1.25h-1.25zM67 128h1.25v1.25h-1.25zM64 129h1.25v1.25h-1.25zM64 130h2.25v1.25h-2.25zM93 130h2.25v1.25h-2.25zM104 131h1.25v1.25h-1.25z"/><path fill="#d7de3e" d="M93 122h1.25v1.25h-1.25zM54 127h1.25v1.25h-1.25zM54 128h1.25v1.25h-1.25zM66 128h1.25v1.25h-1.25zM65 129h2.25v1.25h-2.25z"/></g>
<path d="M51.3,121.3 Q51.3,120.3 52.3,120.3 H138.2 Q139.2,120.3 139.2,121.3 V125 H132.7 V131.9 H58.2 V125 H51.3 Z" fill="none" stroke="#1f2d6b" stroke-width="0.8"/>
<text x="85" y="154.6" font-size="12.3" font-style="italic" fill="#222">V</text>
<text x="92.4" y="157.8" font-size="7.7" fill="#222">IDE</text>
<rect x="27.5" y="182.6" width="136.4" height="114" fill="#ececec" stroke="#858585" stroke-width="0.8"/>
<rect x="28.4" y="193.2" width="111.2" height="93.9" rx="3" fill="#f8b400" stroke="#8a6a18" stroke-width="0.6"/>
<rect x="143.7" y="193" width="19.3" height="94" rx="3" fill="#f8b400" stroke="#8a6a18" stroke-width="0.6"/>
<g clip-path="url(#filmtop)"><path fill="#78b48c" d="M39 196h1.5v1.5h-1.5zM125.25 196h1.5v1.5h-1.5zM146.5 196h1.5v1.5h-1.5zM137.75 197.25h1.5v1.5h-1.5zM147.75 197.25h1.5v1.5h-1.5zM137.75 198.5h2.75v1.5h-2.75zM39 201h1.5v1.5h-1.5zM116.5 201h2.75v1.5h-2.75zM127.75 201h1.5v1.5h-1.5zM46.5 202.25h1.5v1.5h-1.5zM142.75 202.25h1.5v1.5h-1.5zM46.5 203.5h1.5v1.5h-1.5zM59 203.5h1.5v1.5h-1.5zM124 203.5h1.5v1.5h-1.5zM49 204.75h1.5v1.5h-1.5zM65.25 204.75h4v1.5h-4zM111.5 204.75h1.5v1.5h-1.5zM136.5 204.75h1.5v1.5h-1.5zM49 206h1.5v1.5h-1.5zM67.75 206h1.5v1.5h-1.5zM41.5 207.25h1.5v1.5h-1.5zM47.75 207.25h1.5v1.5h-1.5zM111.5 207.25h2.75v1.5h-2.75zM59 208.5h1.5v1.5h-1.5zM39 211h1.5v1.5h-1.5zM130.25 211h1.5v1.5h-1.5zM131.5 212.25h1.5v1.5h-1.5zM52.75 213.5h1.5v1.5h-1.5zM84 214.75h1.5v1.5h-1.5zM87.75 214.75h1.5v1.5h-1.5zM75.25 216h1.5v1.5h-1.5zM132.75 216h1.5v1.5h-1.5zM136.5 216h1.5v1.5h-1.5zM82.75 217.25h1.5v1.5h-1.5zM147.75 217.25h1.5v1.5h-1.5zM81.5 218.5h1.5v1.5h-1.5zM110.25 218.5h1.5v1.5h-1.5zM137.75 218.5h1.5v1.5h-1.5zM44 219.75h1.5v1.5h-1.5zM146.5 219.75h1.5v1.5h-1.5zM40.25 221h1.5v1.5h-1.5zM142.75 221h2.75v1.5h-2.75zM146.5 221h1.5v1.5h-1.5zM140.25 224.75h1.5v1.5h-1.5zM66.5 226h1.5v1.5h-1.5zM91.5 227.25h1.5v1.5h-1.5zM42.75 228.5h2.75v1.5h-2.75zM71.5 228.5h1.5v1.5h-1.5zM42.75 229.75h2.75v1.5h-2.75zM95.25 229.75h1.5v1.5h-1.5zM102.75 229.75h1.5v1.5h-1.5zM117.75 229.75h1.5v1.5h-1.5zM69 233.5h2.75v1.5h-2.75zM107.75 233.5h1.5v1.5h-1.5zM95.25 234.75h1.5v1.5h-1.5zM101.5 234.75h1.5v1.5h-1.5zM55.25 236h1.5v1.5h-1.5zM102.75 237.25h1.5v1.5h-1.5zM91.5 238.5h2.75v1.5h-2.75zM104 238.5h1.5v1.5h-1.5zM40.25 239.75h1.5v1.5h-1.5zM69 239.75h1.5v1.5h-1.5zM125.25 239.75h4v1.5h-4zM136.5 239.75h1.5v1.5h-1.5zM145.25 239.75h1.5v1.5h-1.5zM92.75 241h1.5v1.5h-1.5zM110.25 243.5h1.5v1.5h-1.5zM114 244.75h1.5v1.5h-1.5zM40.25 246h1.5v1.5h-1.5zM74 246h1.5v1.5h-1.5zM122.75 246h1.5v1.5h-1.5zM126.5 246h1.5v1.5h-1.5zM124 247.25h1.5v1.5h-1.5zM59 248.5h1.5v1.5h-1.5zM85.25 248.5h2.75v1.5h-2.75zM95.25 251h1.5v1.5h-1.5zM109 251h1.5v1.5h-1.5zM114 251h1.5v1.5h-1.5zM85.25 252.25h1.5v1.5h-1.5zM134 252.25h1.5v1.5h-1.5zM146.5 254.75h1.5v1.5h-1.5zM145.25 256h1.5v1.5h-1.5zM61.5 258.5h1.5v1.5h-1.5zM61.5 259.75h1.5v1.5h-1.5zM45.25 261h1.5v1.5h-1.5zM50.25 261h1.5v1.5h-1.5zM60.25 261h1.5v1.5h-1.5zM45.25 262.25h5.25v1.5h-5.25zM136.5 262.25h1.5v1.5h-1.5zM74 263.5h1.5v1.5h-1.5zM85.25 263.5h1.5v1.5h-1.5zM121.5 263.5h1.5v1.5h-1.5zM74 264.75h1.5v1.5h-1.5zM106.5 264.75h1.5v1.5h-1.5zM120.25 264.75h1.5v1.5h-1.5zM104 266h2.75v1.5h-2.75zM111.5 266h1.5v1.5h-1.5zM121.5 266h2.75v1.5h-2.75zM136.5 266h1.5v1.5h-1.5zM110.25 267.25h2.75v1.5h-2.75zM121.5 267.25h1.5v1.5h-1.5zM137.75 267.25h1.5v1.5h-1.5zM111.5 268.5h1.5v1.5h-1.5zM129 268.5h1.5v1.5h-1.5zM40.25 269.75h1.5v1.5h-1.5zM41.5 271h1.5v1.5h-1.5zM121.5 271h1.5v1.5h-1.5zM41.5 272.25h1.5v1.5h-1.5zM41.5 273.5h1.5v1.5h-1.5zM132.75 273.5h5.25v1.5h-5.25zM147.75 273.5h1.5v1.5h-1.5zM130.25 274.75h1.5v1.5h-1.5zM136.5 274.75h2.75v1.5h-2.75zM57.75 277.25h1.5v1.5h-1.5zM57.75 278.5h1.5v1.5h-1.5zM59 279.75h1.5v1.5h-1.5zM65.25 279.75h1.5v1.5h-1.5zM60.25 281h1.5v1.5h-1.5zM145.25 282.25h1.5v1.5h-1.5zM95.25 283.5h1.5v1.5h-1.5zM137.75 283.5h2.75v1.5h-2.75zM71.5 284.75h1.5v1.5h-1.5zM129 284.75h4v1.5h-4zM140.25 284.75h2.75v1.5h-2.75zM146.5 284.75h1.5v1.5h-1.5z"/><path fill="#78c878" d="M40.25 196h4v1.5h-4zM49 196h1.5v1.5h-1.5zM54 196h1.5v1.5h-1.5zM69 196h1.5v1.5h-1.5zM71.5 196h2.75v1.5h-2.75zM104 196h1.5v1.5h-1.5zM49 197.25h1.5v1.5h-1.5zM69 197.25h1.5v1.5h-1.5zM104 197.25h1.5v1.5h-1.5zM49 198.5h1.5v1.5h-1.5zM69 198.5h1.5v1.5h-1.5zM96.5 198.5h1.5v1.5h-1.5zM116.5 198.5h1.5v1.5h-1.5zM134 198.5h2.75v1.5h-2.75zM47.75 199.75h1.5v1.5h-1.5zM95.25 199.75h1.5v1.5h-1.5zM112.75 199.75h1.5v1.5h-1.5zM131.5 199.75h2.75v1.5h-2.75zM136.5 199.75h2.75v1.5h-2.75zM46.5 201h2.75v1.5h-2.75zM94 201h1.5v1.5h-1.5zM109 201h1.5v1.5h-1.5zM129 201h2.75v1.5h-2.75zM92.75 202.25h1.5v1.5h-1.5zM125.25 202.25h5.25v1.5h-5.25zM41.5 203.5h1.5v1.5h-1.5zM125.25 203.5h5.25v1.5h-5.25zM42.75 204.75h1.5v1.5h-1.5zM62.75 204.75h1.5v1.5h-1.5zM125.25 204.75h5.25v1.5h-5.25zM127.75 206h2.75v1.5h-2.75zM136.5 206h1.5v1.5h-1.5zM52.75 207.25h1.5v1.5h-1.5zM115.25 207.25h1.5v1.5h-1.5zM127.75 207.25h2.75v1.5h-2.75zM132.75 207.25h2.75v1.5h-2.75zM140.25 207.25h1.5v1.5h-1.5zM51.5 208.5h1.5v1.5h-1.5zM60.25 208.5h1.5v1.5h-1.5zM115.25 208.5h1.5v1.5h-1.5zM129 208.5h1.5v1.5h-1.5zM140.25 208.5h1.5v1.5h-1.5zM50.25 209.75h1.5v1.5h-1.5zM61.5 209.75h1.5v1.5h-1.5zM129 209.75h2.75v1.5h-2.75zM140.25 209.75h1.5v1.5h-1.5zM49 211h1.5v1.5h-1.5zM61.5 211h1.5v1.5h-1.5zM131.5 211h1.5v1.5h-1.5zM139 211h2.75v1.5h-2.75zM39 212.25h1.5v1.5h-1.5zM47.75 212.25h1.5v1.5h-1.5zM60.25 212.25h1.5v1.5h-1.5zM139 212.25h1.5v1.5h-1.5zM39 213.5h1.5v1.5h-1.5zM47.75 213.5h1.5v1.5h-1.5zM51.5 213.5h1.5v1.5h-1.5zM71.5 213.5h1.5v1.5h-1.5zM101.5 213.5h2.75v1.5h-2.75zM137.75 213.5h1.5v1.5h-1.5zM149 213.5h1.5v1.5h-1.5zM47.75 214.75h7.75v1.5h-7.75zM74 214.75h1.5v1.5h-1.5zM86.5 214.75h1.5v1.5h-1.5zM99 214.75h1.5v1.5h-1.5zM102.75 214.75h1.5v1.5h-1.5zM116.5 214.75h1.5v1.5h-1.5zM136.5 214.75h2.75v1.5h-2.75zM145.25 214.75h4v1.5h-4zM50.25 216h4v1.5h-4zM102.75 216h2.75v1.5h-2.75zM117.75 216h2.75v1.5h-2.75zM122.75 216h1.5v1.5h-1.5zM134 216h2.75v1.5h-2.75zM145.25 216h4v1.5h-4zM51.5 217.25h2.75v1.5h-2.75zM67.75 217.25h1.5v1.5h-1.5zM105.25 217.25h1.5v1.5h-1.5zM122.75 217.25h1.5v1.5h-1.5zM132.75 217.25h4v1.5h-4zM144 217.25h2.75v1.5h-2.75zM51.5 218.5h1.5v1.5h-1.5zM95.25 218.5h1.5v1.5h-1.5zM114 218.5h2.75v1.5h-2.75zM121.5 218.5h1.5v1.5h-1.5zM132.75 218.5h5.25v1.5h-5.25zM144 218.5h1.5v1.5h-1.5zM81.5 219.75h1.5v1.5h-1.5zM94 219.75h1.5v1.5h-1.5zM117.75 219.75h4v1.5h-4zM132.75 219.75h1.5v1.5h-1.5zM136.5 219.75h1.5v1.5h-1.5zM142.75 219.75h1.5v1.5h-1.5zM41.5 221h2.75v1.5h-2.75zM82.75 221h1.5v1.5h-1.5zM94 221h1.5v1.5h-1.5zM39 222.25h1.5v1.5h-1.5zM42.75 222.25h1.5v1.5h-1.5zM51.5 222.25h1.5v1.5h-1.5zM84 222.25h1.5v1.5h-1.5zM39 223.5h1.5v1.5h-1.5zM51.5 223.5h1.5v1.5h-1.5zM72.75 223.5h1.5v1.5h-1.5zM130.25 223.5h4v1.5h-4zM39 224.75h1.5v1.5h-1.5zM61.5 224.75h1.5v1.5h-1.5zM69 224.75h1.5v1.5h-1.5zM74 224.75h1.5v1.5h-1.5zM129 224.75h2.75v1.5h-2.75zM51.5 226h1.5v1.5h-1.5zM61.5 226h2.75v1.5h-2.75zM69 226h1.5v1.5h-1.5zM74 226h1.5v1.5h-1.5zM94 226h1.5v1.5h-1.5zM129 226h1.5v1.5h-1.5zM142.75 226h1.5v1.5h-1.5zM61.5 227.25h2.75v1.5h-2.75zM69 227.25h1.5v1.5h-1.5zM144 227.25h1.5v1.5h-1.5zM39 228.5h1.5v1.5h-1.5zM50.25 228.5h1.5v1.5h-1.5zM70.25 228.5h1.5v1.5h-1.5zM101.5 228.5h1.5v1.5h-1.5zM146.5 228.5h4v1.5h-4zM40.25 229.75h1.5v1.5h-1.5zM49 229.75h1.5v1.5h-1.5zM119 229.75h1.5v1.5h-1.5zM40.25 231h1.5v1.5h-1.5zM100.25 231h1.5v1.5h-1.5zM115.25 231h5.25v1.5h-5.25zM46.5 232.25h1.5v1.5h-1.5zM100.25 232.25h1.5v1.5h-1.5zM116.5 232.25h4v1.5h-4zM120.25 233.5h4v1.5h-4zM45.25 234.75h1.5v1.5h-1.5zM66.5 234.75h1.5v1.5h-1.5zM119 234.75h4v1.5h-4zM124 234.75h1.5v1.5h-1.5zM44 236h1.5v1.5h-1.5zM51.5 236h2.75v1.5h-2.75zM66.5 236h1.5v1.5h-1.5zM71.5 236h1.5v1.5h-1.5zM106.5 236h1.5v1.5h-1.5zM115.25 236h5.25v1.5h-5.25zM125.25 236h1.5v1.5h-1.5zM51.5 237.25h2.75v1.5h-2.75zM70.25 237.25h1.5v1.5h-1.5zM112.75 237.25h1.5v1.5h-1.5zM126.5 237.25h1.5v1.5h-1.5zM67.75 238.5h2.75v1.5h-2.75zM86.5 238.5h5.25v1.5h-5.25zM105.25 238.5h1.5v1.5h-1.5zM111.5 238.5h1.5v1.5h-1.5zM127.75 238.5h1.5v1.5h-1.5zM139 238.5h5.25v1.5h-5.25zM82.75 239.75h5.25v1.5h-5.25zM94 239.75h1.5v1.5h-1.5zM140.25 239.75h1.5v1.5h-1.5zM144 239.75h1.5v1.5h-1.5zM82.75 241h1.5v1.5h-1.5zM109 241h1.5v1.5h-1.5zM140.25 241h1.5v1.5h-1.5zM41.5 242.25h1.5v1.5h-1.5zM82.75 242.25h1.5v1.5h-1.5zM92.75 242.25h1.5v1.5h-1.5zM109 242.25h1.5v1.5h-1.5zM141.5 242.25h1.5v1.5h-1.5zM81.5 244.75h1.5v1.5h-1.5zM94 244.75h1.5v1.5h-1.5zM115.25 244.75h1.5v1.5h-1.5zM117.75 244.75h4v1.5h-4zM142.75 244.75h1.5v1.5h-1.5zM71.5 246h1.5v1.5h-1.5zM95.25 246h1.5v1.5h-1.5zM121.5 246h1.5v1.5h-1.5zM142.75 246h1.5v1.5h-1.5zM70.25 247.25h2.75v1.5h-2.75zM89 247.25h1.5v1.5h-1.5zM121.5 247.25h2.75v1.5h-2.75zM141.5 247.25h1.5v1.5h-1.5zM67.75 248.5h1.5v1.5h-1.5zM75.25 248.5h1.5v1.5h-1.5zM99 248.5h1.5v1.5h-1.5zM120.25 248.5h4v1.5h-4zM136.5 248.5h7.75v1.5h-7.75zM74 249.75h1.5v1.5h-1.5zM99 249.75h2.75v1.5h-2.75zM105.25 249.75h2.75v1.5h-2.75zM135.25 249.75h1.5v1.5h-1.5zM142.75 249.75h7.75v1.5h-7.75zM71.5 251h1.5v1.5h-1.5zM74 251h1.5v1.5h-1.5zM99 251h1.5v1.5h-1.5zM105.25 251h1.5v1.5h-1.5zM142.75 251h5.25v1.5h-5.25zM62.75 252.25h1.5v1.5h-1.5zM74 252.25h1.5v1.5h-1.5zM105.25 252.25h2.75v1.5h-2.75zM114 252.25h2.75v1.5h-2.75zM141.5 252.25h6.5v1.5h-6.5zM72.75 253.5h1.5v1.5h-1.5zM82.75 253.5h5.25v1.5h-5.25zM106.5 253.5h1.5v1.5h-1.5zM114 253.5h1.5v1.5h-1.5zM135.25 253.5h4v1.5h-4zM144 253.5h1.5v1.5h-1.5zM146.5 253.5h1.5v1.5h-1.5zM61.5 254.75h1.5v1.5h-1.5zM72.75 254.75h1.5v1.5h-1.5zM82.75 254.75h2.75v1.5h-2.75zM107.75 254.75h1.5v1.5h-1.5zM112.75 254.75h1.5v1.5h-1.5zM129 254.75h2.75v1.5h-2.75zM132.75 254.75h1.5v1.5h-1.5zM145.25 254.75h1.5v1.5h-1.5zM49 256h1.5v1.5h-1.5zM72.75 256h1.5v1.5h-1.5zM107.75 256h1.5v1.5h-1.5zM112.75 256h1.5v1.5h-1.5zM127.75 256h1.5v1.5h-1.5zM132.75 256h1.5v1.5h-1.5zM60.25 257.25h1.5v1.5h-1.5zM131.5 257.25h2.75v1.5h-2.75zM145.25 257.25h1.5v1.5h-1.5zM71.5 258.5h1.5v1.5h-1.5zM81.5 258.5h1.5v1.5h-1.5zM110.25 258.5h1.5v1.5h-1.5zM131.5 258.5h1.5v1.5h-1.5zM146.5 258.5h1.5v1.5h-1.5zM50.25 259.75h1.5v1.5h-1.5zM71.5 259.75h1.5v1.5h-1.5zM81.5 259.75h2.75v1.5h-2.75zM71.5 261h1.5v1.5h-1.5zM79 261h5.25v1.5h-5.25zM57.75 262.25h1.5v1.5h-1.5zM64 262.25h10.25v1.5h-10.25zM82.75 262.25h2.75v1.5h-2.75zM110.25 262.25h1.5v1.5h-1.5zM137.75 262.25h1.5v1.5h-1.5zM44 263.5h2.75v1.5h-2.75zM57.75 263.5h1.5v1.5h-1.5zM65.25 263.5h7.75v1.5h-7.75zM84 263.5h1.5v1.5h-1.5zM107.75 263.5h5.25v1.5h-5.25zM136.5 263.5h2.75v1.5h-2.75zM41.5 264.75h2.75v1.5h-2.75zM49 264.75h1.5v1.5h-1.5zM56.5 264.75h1.5v1.5h-1.5zM65.25 264.75h4v1.5h-4zM70.25 264.75h4v1.5h-4zM84 264.75h1.5v1.5h-1.5zM111.5 264.75h1.5v1.5h-1.5zM40.25 266h1.5v1.5h-1.5zM57.75 266h1.5v1.5h-1.5zM65.25 266h1.5v1.5h-1.5zM84 266h1.5v1.5h-1.5zM117.75 266h1.5v1.5h-1.5zM139 266h1.5v1.5h-1.5zM39 267.25h1.5v1.5h-1.5zM47.75 267.25h1.5v1.5h-1.5zM59 267.25h1.5v1.5h-1.5zM64 267.25h1.5v1.5h-1.5zM77.75 267.25h1.5v1.5h-1.5zM82.75 267.25h1.5v1.5h-1.5zM139 267.25h1.5v1.5h-1.5zM39 268.5h1.5v1.5h-1.5zM60.25 268.5h1.5v1.5h-1.5zM79 268.5h4v1.5h-4zM112.75 268.5h1.5v1.5h-1.5zM117.75 268.5h1.5v1.5h-1.5zM141.5 268.5h6.5v1.5h-6.5zM46.5 269.75h1.5v1.5h-1.5zM62.75 269.75h1.5v1.5h-1.5zM115.25 269.75h4v1.5h-4zM146.5 269.75h1.5v1.5h-1.5zM44 271h1.5v1.5h-1.5zM59 271h1.5v1.5h-1.5zM64 271h1.5v1.5h-1.5zM81.5 271h1.5v1.5h-1.5zM84 271h4v1.5h-4zM57.75 272.25h1.5v1.5h-1.5zM64 272.25h1.5v1.5h-1.5zM87.75 272.25h1.5v1.5h-1.5zM146.5 272.25h1.5v1.5h-1.5zM64 273.5h1.5v1.5h-1.5zM80.25 273.5h1.5v1.5h-1.5zM87.75 273.5h1.5v1.5h-1.5zM121.5 273.5h1.5v1.5h-1.5zM145.25 273.5h2.75v1.5h-2.75zM80.25 274.75h1.5v1.5h-1.5zM87.75 274.75h1.5v1.5h-1.5zM107.75 274.75h1.5v1.5h-1.5zM120.25 274.75h1.5v1.5h-1.5zM131.5 274.75h1.5v1.5h-1.5zM142.75 274.75h2.75v1.5h-2.75zM147.75 274.75h1.5v1.5h-1.5zM87.75 276h1.5v1.5h-1.5zM109 276h1.5v1.5h-1.5zM119 276h1.5v1.5h-1.5zM130.25 276h1.5v1.5h-1.5zM134 276h1.5v1.5h-1.5zM81.5 277.25h2.75v1.5h-2.75zM87.75 277.25h1.5v1.5h-1.5zM114 277.25h1.5v1.5h-1.5zM130.25 277.25h4v1.5h-4zM51.5 278.5h1.5v1.5h-1.5zM82.75 278.5h1.5v1.5h-1.5zM87.75 278.5h1.5v1.5h-1.5zM45.25 279.75h2.75v1.5h-2.75zM51.5 279.75h1.5v1.5h-1.5zM84 279.75h5.25v1.5h-5.25zM44 281h1.5v1.5h-1.5zM49 281h2.75v1.5h-2.75zM85.25 281h2.75v1.5h-2.75zM42.75 282.25h1.5v1.5h-1.5zM76.5 282.25h2.75v1.5h-2.75zM100.25 282.25h2.75v1.5h-2.75zM42.75 283.5h2.75v1.5h-2.75zM46.5 283.5h4v1.5h-4zM69 283.5h1.5v1.5h-1.5zM77.75 283.5h2.75v1.5h-2.75zM102.75 283.5h5.25v1.5h-5.25zM42.75 284.75h2.75v1.5h-2.75zM49 284.75h1.5v1.5h-1.5zM69 284.75h2.75v1.5h-2.75zM95.25 284.75h1.5v1.5h-1.5zM104 284.75h2.75v1.5h-2.75zM132.75 284.75h5.25v1.5h-5.25zM144 284.75h1.5v1.5h-1.5z"/><path fill="#78c88c" d="M44 196h1.5v1.5h-1.5zM70.25 196h1.5v1.5h-1.5zM95.25 196h1.5v1.5h-1.5zM105.25 196h1.5v1.5h-1.5zM70.25 197.25h5.25v1.5h-5.25zM96.5 197.25h1.5v1.5h-1.5zM47.75 198.5h1.5v1.5h-1.5zM70.25 198.5h1.5v1.5h-1.5zM95.25 198.5h1.5v1.5h-1.5zM105.25 198.5h1.5v1.5h-1.5zM115.25 198.5h1.5v1.5h-1.5zM46.5 199.75h1.5v1.5h-1.5zM70.25 199.75h1.5v1.5h-1.5zM94 199.75h1.5v1.5h-1.5zM106.5 199.75h1.5v1.5h-1.5zM134 199.75h2.75v1.5h-2.75zM70.25 201h1.5v1.5h-1.5zM92.75 201h1.5v1.5h-1.5zM131.5 201h1.5v1.5h-1.5zM136.5 201h1.5v1.5h-1.5zM142.75 201h1.5v1.5h-1.5zM40.25 202.25h1.5v1.5h-1.5zM47.75 202.25h1.5v1.5h-1.5zM70.25 202.25h1.5v1.5h-1.5zM130.25 202.25h1.5v1.5h-1.5zM61.5 203.5h1.5v1.5h-1.5zM130.25 203.5h1.5v1.5h-1.5zM142.75 203.5h1.5v1.5h-1.5zM130.25 204.75h1.5v1.5h-1.5zM126.5 206h1.5v1.5h-1.5zM135.25 206h1.5v1.5h-1.5zM67.75 207.25h1.5v1.5h-1.5zM114 207.25h1.5v1.5h-1.5zM52.75 208.5h1.5v1.5h-1.5zM127.75 208.5h1.5v1.5h-1.5zM51.5 209.75h1.5v1.5h-1.5zM141.5 209.75h1.5v1.5h-1.5zM50.25 211h1.5v1.5h-1.5zM141.5 211h1.5v1.5h-1.5zM49 212.25h1.5v1.5h-1.5zM71.5 212.25h1.5v1.5h-1.5zM140.25 212.25h4v1.5h-4zM49 213.5h2.75v1.5h-2.75zM70.25 213.5h1.5v1.5h-1.5zM72.75 213.5h1.5v1.5h-1.5zM116.5 213.5h1.5v1.5h-1.5zM139 213.5h1.5v1.5h-1.5zM141.5 213.5h7.75v1.5h-7.75zM55.25 214.75h1.5v1.5h-1.5zM100.25 214.75h2.75v1.5h-2.75zM117.75 214.75h1.5v1.5h-1.5zM120.25 214.75h4v1.5h-4zM142.75 214.75h2.75v1.5h-2.75zM149 214.75h1.5v1.5h-1.5zM54 216h1.5v1.5h-1.5zM144 216h1.5v1.5h-1.5zM99 217.25h1.5v1.5h-1.5zM102.75 217.25h2.75v1.5h-2.75zM136.5 217.25h1.5v1.5h-1.5zM67.75 218.5h1.5v1.5h-1.5zM107.75 218.5h1.5v1.5h-1.5zM51.5 219.75h1.5v1.5h-1.5zM80.25 219.75h1.5v1.5h-1.5zM95.25 219.75h1.5v1.5h-1.5zM112.75 219.75h1.5v1.5h-1.5zM115.25 219.75h2.75v1.5h-2.75zM131.5 219.75h1.5v1.5h-1.5zM51.5 221h1.5v1.5h-1.5zM81.5 221h1.5v1.5h-1.5zM119 221h1.5v1.5h-1.5zM94 222.25h1.5v1.5h-1.5zM94 223.5h1.5v1.5h-1.5zM129 223.5h1.5v1.5h-1.5zM94 224.75h1.5v1.5h-1.5zM131.5 224.75h1.5v1.5h-1.5zM67.75 226h1.5v1.5h-1.5zM127.75 226h1.5v1.5h-1.5zM130.25 226h1.5v1.5h-1.5zM51.5 227.25h1.5v1.5h-1.5zM64 227.25h1.5v1.5h-1.5zM67.75 227.25h1.5v1.5h-1.5zM74 227.25h1.5v1.5h-1.5zM127.75 227.25h2.75v1.5h-2.75zM69 228.5h1.5v1.5h-1.5zM95.25 228.5h1.5v1.5h-1.5zM39 229.75h1.5v1.5h-1.5zM100.25 229.75h1.5v1.5h-1.5zM120.25 229.75h1.5v1.5h-1.5zM47.75 231h1.5v1.5h-1.5zM114 231h1.5v1.5h-1.5zM120.25 231h1.5v1.5h-1.5zM115.25 232.25h1.5v1.5h-1.5zM120.25 232.25h2.75v1.5h-2.75zM46.5 233.5h1.5v1.5h-1.5zM116.5 233.5h4v1.5h-4zM132.75 233.5h4v1.5h-4zM71.5 234.75h1.5v1.5h-1.5zM116.5 234.75h2.75v1.5h-2.75zM125.25 234.75h1.5v1.5h-1.5zM65.25 236h1.5v1.5h-1.5zM114 236h1.5v1.5h-1.5zM126.5 236h1.5v1.5h-1.5zM50.25 237.25h1.5v1.5h-1.5zM127.75 237.25h1.5v1.5h-1.5zM139 237.25h2.75v1.5h-2.75zM51.5 238.5h4v1.5h-4zM66.5 238.5h1.5v1.5h-1.5zM70.25 238.5h1.5v1.5h-1.5zM85.25 238.5h1.5v1.5h-1.5zM94 238.5h2.75v1.5h-2.75zM105.25 239.75h1.5v1.5h-1.5zM109 239.75h1.5v1.5h-1.5zM139 239.75h1.5v1.5h-1.5zM81.5 243.5h1.5v1.5h-1.5zM94 243.5h1.5v1.5h-1.5zM141.5 243.5h1.5v1.5h-1.5zM72.75 244.75h2.75v1.5h-2.75zM75.25 246h1.5v1.5h-1.5zM117.75 246h4v1.5h-4zM141.5 246h1.5v1.5h-1.5zM69 247.25h1.5v1.5h-1.5zM75.25 247.25h1.5v1.5h-1.5zM97.75 247.25h1.5v1.5h-1.5zM119 247.25h2.75v1.5h-2.75zM66.5 248.5h1.5v1.5h-1.5zM119 248.5h1.5v1.5h-1.5zM64 249.75h1.5v1.5h-1.5zM75.25 249.75h1.5v1.5h-1.5zM101.5 249.75h4v1.5h-4zM117.75 249.75h5.25v1.5h-5.25zM134 249.75h1.5v1.5h-1.5zM75.25 251h1.5v1.5h-1.5zM97.75 251h1.5v1.5h-1.5zM100.25 251h1.5v1.5h-1.5zM104 251h1.5v1.5h-1.5zM115.25 251h2.75v1.5h-2.75zM134 251h1.5v1.5h-1.5zM147.75 251h1.5v1.5h-1.5zM140.25 252.25h1.5v1.5h-1.5zM147.75 252.25h1.5v1.5h-1.5zM87.75 253.5h1.5v1.5h-1.5zM130.25 253.5h1.5v1.5h-1.5zM134 253.5h1.5v1.5h-1.5zM142.75 253.5h1.5v1.5h-1.5zM147.75 253.5h1.5v1.5h-1.5zM106.5 254.75h1.5v1.5h-1.5zM114 254.75h1.5v1.5h-1.5zM131.5 254.75h1.5v1.5h-1.5zM134 254.75h1.5v1.5h-1.5zM144 254.75h1.5v1.5h-1.5zM147.75 254.75h1.5v1.5h-1.5zM50.25 256h1.5v1.5h-1.5zM60.25 256h1.5v1.5h-1.5zM81.5 256h2.75v1.5h-2.75zM144 256h1.5v1.5h-1.5zM51.5 257.25h1.5v1.5h-1.5zM81.5 257.25h2.75v1.5h-2.75zM112.75 257.25h1.5v1.5h-1.5zM144 257.25h1.5v1.5h-1.5zM51.5 258.5h1.5v1.5h-1.5zM82.75 258.5h1.5v1.5h-1.5zM111.5 258.5h1.5v1.5h-1.5zM127.75 258.5h1.5v1.5h-1.5zM132.75 258.5h1.5v1.5h-1.5zM145.25 258.5h1.5v1.5h-1.5zM72.75 259.75h1.5v1.5h-1.5zM80.25 259.75h1.5v1.5h-1.5zM110.25 259.75h1.5v1.5h-1.5zM72.75 261h1.5v1.5h-1.5zM77.75 261h1.5v1.5h-1.5zM84 261h1.5v1.5h-1.5zM110.25 261h1.5v1.5h-1.5zM109 262.25h1.5v1.5h-1.5zM111.5 262.25h1.5v1.5h-1.5zM49 263.5h1.5v1.5h-1.5zM56.5 263.5h1.5v1.5h-1.5zM40.25 264.75h1.5v1.5h-1.5zM69 264.75h1.5v1.5h-1.5zM94 264.75h1.5v1.5h-1.5zM112.75 264.75h1.5v1.5h-1.5zM117.75 264.75h2.75v1.5h-2.75zM39 266h1.5v1.5h-1.5zM49 266h1.5v1.5h-1.5zM56.5 266h1.5v1.5h-1.5zM66.5 266h1.5v1.5h-1.5zM72.75 266h2.75v1.5h-2.75zM112.75 266h1.5v1.5h-1.5zM49 267.25h1.5v1.5h-1.5zM57.75 267.25h1.5v1.5h-1.5zM65.25 267.25h1.5v1.5h-1.5zM112.75 267.25h1.5v1.5h-1.5zM117.75 267.25h1.5v1.5h-1.5zM149 267.25h1.5v1.5h-1.5zM47.75 268.5h1.5v1.5h-1.5zM59 268.5h1.5v1.5h-1.5zM62.75 268.5h1.5v1.5h-1.5zM114 268.5h1.5v1.5h-1.5zM147.75 268.5h2.75v1.5h-2.75zM81.5 269.75h1.5v1.5h-1.5zM147.75 269.75h1.5v1.5h-1.5zM87.75 271h1.5v1.5h-1.5zM42.75 272.25h1.5v1.5h-1.5zM80.25 272.25h1.5v1.5h-1.5zM89 272.25h1.5v1.5h-1.5zM106.5 272.25h1.5v1.5h-1.5zM122.75 272.25h1.5v1.5h-1.5zM42.75 273.5h1.5v1.5h-1.5zM54 273.5h1.5v1.5h-1.5zM41.5 274.75h1.5v1.5h-1.5zM52.75 274.75h1.5v1.5h-1.5zM135.25 274.75h1.5v1.5h-1.5zM145.25 274.75h2.75v1.5h-2.75zM107.75 276h1.5v1.5h-1.5zM135.25 276h1.5v1.5h-1.5zM149 276h1.5v1.5h-1.5zM109 277.25h5.25v1.5h-5.25zM134 277.25h1.5v1.5h-1.5zM39 278.5h1.5v1.5h-1.5zM147.75 278.5h1.5v1.5h-1.5zM41.5 279.75h1.5v1.5h-1.5zM47.75 279.75h4v1.5h-4zM42.75 281h1.5v1.5h-1.5zM84 281h1.5v1.5h-1.5zM87.75 281h1.5v1.5h-1.5zM41.5 282.25h1.5v1.5h-1.5zM69 282.25h1.5v1.5h-1.5zM79 282.25h1.5v1.5h-1.5zM94 282.25h1.5v1.5h-1.5zM102.75 282.25h6.5v1.5h-6.5zM130.25 282.25h1.5v1.5h-1.5zM136.5 282.25h1.5v1.5h-1.5zM70.25 283.5h1.5v1.5h-1.5zM80.25 283.5h1.5v1.5h-1.5zM94 283.5h1.5v1.5h-1.5zM135.25 283.5h2.75v1.5h-2.75zM41.5 284.75h1.5v1.5h-1.5zM45.25 284.75h1.5v1.5h-1.5zM80.25 284.75h1.5v1.5h-1.5zM127.75 284.75h1.5v1.5h-1.5zM142.75 284.75h1.5v1.5h-1.5zM145.25 284.75h1.5v1.5h-1.5z"/><path fill="#64c88c" d="M45.25 196h1.5v1.5h-1.5zM47.75 196h1.5v1.5h-1.5zM81.5 196h1.5v1.5h-1.5zM94 196h1.5v1.5h-1.5zM47.75 197.25h1.5v1.5h-1.5zM75.25 197.25h1.5v1.5h-1.5zM105.25 197.25h1.5v1.5h-1.5zM71.5 198.5h4v1.5h-4zM94 198.5h1.5v1.5h-1.5zM114 198.5h1.5v1.5h-1.5zM71.5 199.75h1.5v1.5h-1.5zM111.5 199.75h1.5v1.5h-1.5zM70.25 203.5h1.5v1.5h-1.5zM91.5 203.5h1.5v1.5h-1.5zM120.25 203.5h1.5v1.5h-1.5zM41.5 204.75h1.5v1.5h-1.5zM61.5 204.75h1.5v1.5h-1.5zM91.5 204.75h1.5v1.5h-1.5zM124 204.75h1.5v1.5h-1.5zM131.5 204.75h1.5v1.5h-1.5zM41.5 206h1.5v1.5h-1.5zM91.5 206h1.5v1.5h-1.5zM125.25 206h1.5v1.5h-1.5zM132.75 206h2.75v1.5h-2.75zM116.5 207.25h1.5v1.5h-1.5zM126.5 207.25h1.5v1.5h-1.5zM116.5 208.5h1.5v1.5h-1.5zM141.5 208.5h1.5v1.5h-1.5zM116.5 209.75h1.5v1.5h-1.5zM127.75 209.75h1.5v1.5h-1.5zM116.5 211h1.5v1.5h-1.5zM129 211h1.5v1.5h-1.5zM142.75 211h1.5v1.5h-1.5zM50.25 212.25h1.5v1.5h-1.5zM61.5 212.25h1.5v1.5h-1.5zM70.25 212.25h1.5v1.5h-1.5zM116.5 212.25h1.5v1.5h-1.5zM144 212.25h2.75v1.5h-2.75zM147.75 212.25h2.75v1.5h-2.75zM84 213.5h4v1.5h-4zM140.25 213.5h1.5v1.5h-1.5zM119 214.75h1.5v1.5h-1.5zM139 214.75h4v1.5h-4zM67.75 216h1.5v1.5h-1.5zM99 216h1.5v1.5h-1.5zM101.5 216h1.5v1.5h-1.5zM141.5 216h2.75v1.5h-2.75zM54 217.25h1.5v1.5h-1.5zM101.5 217.25h1.5v1.5h-1.5zM142.75 217.25h1.5v1.5h-1.5zM52.75 218.5h1.5v1.5h-1.5zM104 218.5h1.5v1.5h-1.5zM122.75 218.5h1.5v1.5h-1.5zM131.5 218.5h1.5v1.5h-1.5zM142.75 218.5h1.5v1.5h-1.5zM114 219.75h1.5v1.5h-1.5zM121.5 219.75h1.5v1.5h-1.5zM80.25 221h1.5v1.5h-1.5zM117.75 221h1.5v1.5h-1.5zM120.25 221h1.5v1.5h-1.5zM82.75 222.25h1.5v1.5h-1.5zM61.5 223.5h2.75v1.5h-2.75zM69 223.5h1.5v1.5h-1.5zM74 223.5h1.5v1.5h-1.5zM85.25 223.5h1.5v1.5h-1.5zM52.75 224.75h1.5v1.5h-1.5zM67.75 224.75h1.5v1.5h-1.5zM127.75 224.75h1.5v1.5h-1.5zM132.75 224.75h1.5v1.5h-1.5zM52.75 226h1.5v1.5h-1.5zM66.5 227.25h1.5v1.5h-1.5zM95.25 227.25h1.5v1.5h-1.5zM130.25 227.25h1.5v1.5h-1.5zM142.75 227.25h1.5v1.5h-1.5zM67.75 228.5h1.5v1.5h-1.5zM96.5 228.5h1.5v1.5h-1.5zM100.25 228.5h1.5v1.5h-1.5zM127.75 228.5h2.75v1.5h-2.75zM145.25 228.5h1.5v1.5h-1.5zM96.5 229.75h1.5v1.5h-1.5zM99 229.75h1.5v1.5h-1.5zM121.5 229.75h2.75v1.5h-2.75zM149 229.75h1.5v1.5h-1.5zM39 231h1.5v1.5h-1.5zM121.5 231h2.75v1.5h-2.75zM47.75 232.25h1.5v1.5h-1.5zM114 232.25h1.5v1.5h-1.5zM122.75 232.25h1.5v1.5h-1.5zM131.5 232.25h5.25v1.5h-5.25zM115.25 233.5h1.5v1.5h-1.5zM124 233.5h1.5v1.5h-1.5zM131.5 233.5h1.5v1.5h-1.5zM136.5 233.5h1.5v1.5h-1.5zM46.5 234.75h1.5v1.5h-1.5zM107.75 234.75h1.5v1.5h-1.5zM115.25 234.75h1.5v1.5h-1.5zM132.75 234.75h6.5v1.5h-6.5zM45.25 236h1.5v1.5h-1.5zM50.25 236h1.5v1.5h-1.5zM56.5 236h1.5v1.5h-1.5zM137.75 236h2.75v1.5h-2.75zM71.5 237.25h1.5v1.5h-1.5zM106.5 237.25h1.5v1.5h-1.5zM137.75 237.25h1.5v1.5h-1.5zM141.5 237.25h1.5v1.5h-1.5zM50.25 238.5h1.5v1.5h-1.5zM106.5 238.5h1.5v1.5h-1.5zM110.25 238.5h1.5v1.5h-1.5zM129 238.5h1.5v1.5h-1.5zM137.75 238.5h1.5v1.5h-1.5zM81.5 239.75h1.5v1.5h-1.5zM95.25 239.75h1.5v1.5h-1.5zM106.5 239.75h2.75v1.5h-2.75zM41.5 241h1.5v1.5h-1.5zM106.5 241h2.75v1.5h-2.75zM139 241h1.5v1.5h-1.5zM81.5 242.25h1.5v1.5h-1.5zM94 242.25h1.5v1.5h-1.5zM107.75 242.25h1.5v1.5h-1.5zM140.25 242.25h1.5v1.5h-1.5zM71.5 244.75h1.5v1.5h-1.5zM95.25 244.75h1.5v1.5h-1.5zM141.5 244.75h1.5v1.5h-1.5zM70.25 246h1.5v1.5h-1.5zM96.5 246h1.5v1.5h-1.5zM127.75 246h1.5v1.5h-1.5zM139 247.25h2.75v1.5h-2.75zM65.25 248.5h1.5v1.5h-1.5zM100.25 248.5h6.5v1.5h-6.5zM124 248.5h1.5v1.5h-1.5zM135.25 248.5h1.5v1.5h-1.5zM62.75 251h1.5v1.5h-1.5zM101.5 251h2.75v1.5h-2.75zM117.75 251h1.5v1.5h-1.5zM104 252.25h1.5v1.5h-1.5zM116.5 252.25h1.5v1.5h-1.5zM61.5 253.5h1.5v1.5h-1.5zM81.5 253.5h1.5v1.5h-1.5zM105.25 253.5h1.5v1.5h-1.5zM115.25 253.5h1.5v1.5h-1.5zM81.5 254.75h1.5v1.5h-1.5zM85.25 254.75h1.5v1.5h-1.5zM127.75 254.75h1.5v1.5h-1.5zM135.25 254.75h2.75v1.5h-2.75zM84 256h1.5v1.5h-1.5zM114 256h1.5v1.5h-1.5zM134 256h1.5v1.5h-1.5zM59 257.25h1.5v1.5h-1.5zM72.75 257.25h1.5v1.5h-1.5zM80.25 257.25h1.5v1.5h-1.5zM107.75 257.25h1.5v1.5h-1.5zM126.5 257.25h1.5v1.5h-1.5zM134 257.25h1.5v1.5h-1.5zM72.75 258.5h1.5v1.5h-1.5zM80.25 258.5h1.5v1.5h-1.5zM109 258.5h1.5v1.5h-1.5zM112.75 258.5h1.5v1.5h-1.5zM134 258.5h1.5v1.5h-1.5zM84 259.75h2.75v1.5h-2.75zM109 259.75h1.5v1.5h-1.5zM111.5 259.75h1.5v1.5h-1.5zM134 259.75h4v1.5h-4zM146.5 259.75h2.75v1.5h-2.75zM85.25 261h1.5v1.5h-1.5zM109 261h1.5v1.5h-1.5zM111.5 261h1.5v1.5h-1.5zM137.75 261h1.5v1.5h-1.5zM44 262.25h1.5v1.5h-1.5zM107.75 262.25h1.5v1.5h-1.5zM112.75 262.25h1.5v1.5h-1.5zM42.75 263.5h1.5v1.5h-1.5zM112.75 263.5h1.5v1.5h-1.5zM39 264.75h1.5v1.5h-1.5zM85.25 264.75h1.5v1.5h-1.5zM92.75 264.75h1.5v1.5h-1.5zM139 264.75h1.5v1.5h-1.5zM67.75 266h5.25v1.5h-5.25zM84 267.25h1.5v1.5h-1.5zM140.25 267.25h1.5v1.5h-1.5zM145.25 267.25h1.5v1.5h-1.5zM77.75 268.5h1.5v1.5h-1.5zM82.75 268.5h1.5v1.5h-1.5zM115.25 268.5h2.75v1.5h-2.75zM59 269.75h1.5v1.5h-1.5zM79 269.75h2.75v1.5h-2.75zM82.75 269.75h5.25v1.5h-5.25zM80.25 271h1.5v1.5h-1.5zM89 271h1.5v1.5h-1.5zM56.5 272.25h1.5v1.5h-1.5zM65.25 273.5h1.5v1.5h-1.5zM79 273.5h1.5v1.5h-1.5zM89 273.5h1.5v1.5h-1.5zM106.5 273.5h1.5v1.5h-1.5zM122.75 273.5h1.5v1.5h-1.5zM79 274.75h1.5v1.5h-1.5zM89 274.75h1.5v1.5h-1.5zM121.5 274.75h1.5v1.5h-1.5zM129 274.75h1.5v1.5h-1.5zM80.25 276h1.5v1.5h-1.5zM120.25 276h1.5v1.5h-1.5zM129 276h1.5v1.5h-1.5zM142.75 276h1.5v1.5h-1.5zM145.25 276h4v1.5h-4zM129 277.25h1.5v1.5h-1.5zM147.75 277.25h1.5v1.5h-1.5zM109 278.5h2.75v1.5h-2.75zM130.25 278.5h4v1.5h-4zM44 279.75h1.5v1.5h-1.5zM82.75 279.75h1.5v1.5h-1.5zM89 279.75h1.5v1.5h-1.5zM92.75 279.75h1.5v1.5h-1.5zM107.75 279.75h2.75v1.5h-2.75zM76.5 281h1.5v1.5h-1.5zM82.75 281h1.5v1.5h-1.5zM89 281h5.25v1.5h-5.25zM99 281h4v1.5h-4zM106.5 281h4v1.5h-4zM80.25 282.25h9v1.5h-9zM135.25 282.25h1.5v1.5h-1.5zM146.5 282.25h1.5v1.5h-1.5zM41.5 283.5h1.5v1.5h-1.5zM81.5 283.5h4v1.5h-4zM86.5 283.5h2.75v1.5h-2.75zM92.75 283.5h1.5v1.5h-1.5zM107.75 283.5h1.5v1.5h-1.5zM129 283.5h2.75v1.5h-2.75zM134 283.5h1.5v1.5h-1.5zM40.25 284.75h1.5v1.5h-1.5zM46.5 284.75h2.75v1.5h-2.75zM81.5 284.75h2.75v1.5h-2.75zM94 284.75h1.5v1.5h-1.5zM106.5 284.75h1.5v1.5h-1.5z"/><path fill="#64c8a0" d="M46.5 196h1.5v1.5h-1.5zM86.5 196h5.25v1.5h-5.25zM92.75 196h1.5v1.5h-1.5zM106.5 196h1.5v1.5h-1.5zM94 197.25h1.5v1.5h-1.5zM75.25 198.5h1.5v1.5h-1.5zM106.5 198.5h1.5v1.5h-1.5zM72.75 199.75h2.75v1.5h-2.75zM92.75 199.75h1.5v1.5h-1.5zM107.75 199.75h1.5v1.5h-1.5zM110.25 199.75h1.5v1.5h-1.5zM71.5 201h1.5v1.5h-1.5zM91.5 201h1.5v1.5h-1.5zM132.75 201h4v1.5h-4zM91.5 202.25h1.5v1.5h-1.5zM131.5 202.25h1.5v1.5h-1.5zM60.25 203.5h1.5v1.5h-1.5zM131.5 203.5h1.5v1.5h-1.5zM135.25 204.75h1.5v1.5h-1.5zM124 206h1.5v1.5h-1.5zM125.25 207.25h1.5v1.5h-1.5zM126.5 208.5h1.5v1.5h-1.5zM126.5 209.75h1.5v1.5h-1.5zM142.75 209.75h1.5v1.5h-1.5zM127.75 211h1.5v1.5h-1.5zM144 211h1.5v1.5h-1.5zM146.5 212.25h1.5v1.5h-1.5zM60.25 213.5h1.5v1.5h-1.5zM69 213.5h1.5v1.5h-1.5zM87.75 213.5h2.75v1.5h-2.75zM117.75 213.5h1.5v1.5h-1.5zM122.75 213.5h1.5v1.5h-1.5zM55.25 216h1.5v1.5h-1.5zM100.25 216h1.5v1.5h-1.5zM100.25 217.25h1.5v1.5h-1.5zM131.5 217.25h1.5v1.5h-1.5zM141.5 217.25h1.5v1.5h-1.5zM99 218.5h2.75v1.5h-2.75zM141.5 218.5h1.5v1.5h-1.5zM52.75 219.75h1.5v1.5h-1.5zM96.5 219.75h1.5v1.5h-1.5zM95.25 221h1.5v1.5h-1.5zM116.5 221h1.5v1.5h-1.5zM74 222.25h1.5v1.5h-1.5zM81.5 222.25h1.5v1.5h-1.5zM95.25 222.25h1.5v1.5h-1.5zM119 222.25h1.5v1.5h-1.5zM52.75 223.5h1.5v1.5h-1.5zM60.25 223.5h1.5v1.5h-1.5zM84 223.5h1.5v1.5h-1.5zM75.25 224.75h1.5v1.5h-1.5zM86.5 224.75h1.5v1.5h-1.5zM95.25 224.75h1.5v1.5h-1.5zM75.25 226h1.5v1.5h-1.5zM95.25 226h1.5v1.5h-1.5zM131.5 226h1.5v1.5h-1.5zM52.75 227.25h1.5v1.5h-1.5zM96.5 227.25h1.5v1.5h-1.5zM51.5 228.5h1.5v1.5h-1.5zM61.5 228.5h1.5v1.5h-1.5zM66.5 228.5h1.5v1.5h-1.5zM97.75 228.5h2.75v1.5h-2.75zM130.25 228.5h1.5v1.5h-1.5zM50.25 229.75h1.5v1.5h-1.5zM67.75 229.75h1.5v1.5h-1.5zM97.75 229.75h1.5v1.5h-1.5zM125.25 229.75h6.5v1.5h-6.5zM147.75 229.75h1.5v1.5h-1.5zM49 231h1.5v1.5h-1.5zM89 231h1.5v1.5h-1.5zM96.5 231h4v1.5h-4zM124 231h2.75v1.5h-2.75zM129 231h4v1.5h-4zM89 232.25h1.5v1.5h-1.5zM112.75 232.25h1.5v1.5h-1.5zM124 232.25h2.75v1.5h-2.75zM130.25 232.25h1.5v1.5h-1.5zM47.75 233.5h1.5v1.5h-1.5zM114 233.5h1.5v1.5h-1.5zM125.25 233.5h2.75v1.5h-2.75zM130.25 233.5h1.5v1.5h-1.5zM55.25 234.75h4v1.5h-4zM65.25 234.75h1.5v1.5h-1.5zM114 234.75h1.5v1.5h-1.5zM126.5 234.75h2.75v1.5h-2.75zM130.25 234.75h2.75v1.5h-2.75zM139 234.75h1.5v1.5h-1.5zM49 236h1.5v1.5h-1.5zM57.75 236h1.5v1.5h-1.5zM64 236h1.5v1.5h-1.5zM107.75 236h1.5v1.5h-1.5zM112.75 236h1.5v1.5h-1.5zM127.75 236h2.75v1.5h-2.75zM135.25 236h2.75v1.5h-2.75zM140.25 236h1.5v1.5h-1.5zM44 237.25h1.5v1.5h-1.5zM49 237.25h1.5v1.5h-1.5zM111.5 237.25h1.5v1.5h-1.5zM129 237.25h1.5v1.5h-1.5zM136.5 237.25h1.5v1.5h-1.5zM71.5 238.5h1.5v1.5h-1.5zM107.75 238.5h2.75v1.5h-2.75zM41.5 239.75h1.5v1.5h-1.5zM137.75 239.75h1.5v1.5h-1.5zM81.5 241h1.5v1.5h-1.5zM106.5 242.25h1.5v1.5h-1.5zM139 242.25h1.5v1.5h-1.5zM72.75 243.5h2.75v1.5h-2.75zM140.25 243.5h1.5v1.5h-1.5zM75.25 244.75h1.5v1.5h-1.5zM76.5 246h1.5v1.5h-1.5zM140.25 246h1.5v1.5h-1.5zM67.75 247.25h1.5v1.5h-1.5zM76.5 247.25h1.5v1.5h-1.5zM99 247.25h1.5v1.5h-1.5zM126.5 247.25h1.5v1.5h-1.5zM136.5 247.25h2.75v1.5h-2.75zM76.5 248.5h1.5v1.5h-1.5zM134 248.5h1.5v1.5h-1.5zM76.5 249.75h1.5v1.5h-1.5zM122.75 249.75h1.5v1.5h-1.5zM119 251h2.75v1.5h-2.75zM149 251h1.5v1.5h-1.5zM61.5 252.25h1.5v1.5h-1.5zM100.25 252.25h1.5v1.5h-1.5zM102.75 252.25h1.5v1.5h-1.5zM130.25 252.25h1.5v1.5h-1.5zM129 253.5h1.5v1.5h-1.5zM60.25 254.75h1.5v1.5h-1.5zM80.25 254.75h1.5v1.5h-1.5zM86.5 254.75h4v1.5h-4zM105.25 254.75h1.5v1.5h-1.5zM115.25 254.75h1.5v1.5h-1.5zM137.75 254.75h1.5v1.5h-1.5zM149 254.75h1.5v1.5h-1.5zM51.5 256h1.5v1.5h-1.5zM59 256h1.5v1.5h-1.5zM80.25 256h1.5v1.5h-1.5zM85.25 256h1.5v1.5h-1.5zM96.5 256h1.5v1.5h-1.5zM106.5 256h1.5v1.5h-1.5zM126.5 256h1.5v1.5h-1.5zM135.25 256h1.5v1.5h-1.5zM142.75 256h1.5v1.5h-1.5zM114 257.25h1.5v1.5h-1.5zM135.25 257.25h1.5v1.5h-1.5zM107.75 258.5h1.5v1.5h-1.5zM125.25 258.5h1.5v1.5h-1.5zM135.25 258.5h2.75v1.5h-2.75zM144 258.5h1.5v1.5h-1.5zM79 259.75h1.5v1.5h-1.5zM86.5 259.75h1.5v1.5h-1.5zM112.75 259.75h1.5v1.5h-1.5zM132.75 259.75h1.5v1.5h-1.5zM137.75 259.75h1.5v1.5h-1.5zM145.25 259.75h1.5v1.5h-1.5zM112.75 261h1.5v1.5h-1.5zM134 261h1.5v1.5h-1.5zM147.75 261h1.5v1.5h-1.5zM139 262.25h1.5v1.5h-1.5zM41.5 263.5h1.5v1.5h-1.5zM114 263.5h1.5v1.5h-1.5zM139 263.5h1.5v1.5h-1.5zM91.5 264.75h1.5v1.5h-1.5zM114 264.75h4v1.5h-4zM85.25 266h1.5v1.5h-1.5zM114 266h1.5v1.5h-1.5zM116.5 266h1.5v1.5h-1.5zM66.5 267.25h1.5v1.5h-1.5zM85.25 267.25h1.5v1.5h-1.5zM114 267.25h4v1.5h-4zM141.5 267.25h4v1.5h-4zM76.5 268.5h1.5v1.5h-1.5zM84 268.5h4v1.5h-4zM87.75 269.75h2.75v1.5h-2.75zM79 271h1.5v1.5h-1.5zM90.25 271h1.5v1.5h-1.5zM65.25 272.25h1.5v1.5h-1.5zM79 272.25h1.5v1.5h-1.5zM90.25 272.25h4v1.5h-4zM90.25 273.5h4v1.5h-4zM124 273.5h1.5v1.5h-1.5zM42.75 274.75h1.5v1.5h-1.5zM106.5 274.75h1.5v1.5h-1.5zM41.5 276h1.5v1.5h-1.5zM79 276h1.5v1.5h-1.5zM89 276h1.5v1.5h-1.5zM144 276h1.5v1.5h-1.5zM39 277.25h2.75v1.5h-2.75zM51.5 277.25h1.5v1.5h-1.5zM89 277.25h1.5v1.5h-1.5zM107.75 277.25h1.5v1.5h-1.5zM145.25 277.25h2.75v1.5h-2.75zM149 277.25h1.5v1.5h-1.5zM81.5 278.5h1.5v1.5h-1.5zM89 278.5h1.5v1.5h-1.5zM92.75 278.5h2.75v1.5h-2.75zM111.5 278.5h1.5v1.5h-1.5zM129 278.5h1.5v1.5h-1.5zM134 278.5h1.5v1.5h-1.5zM145.25 278.5h2.75v1.5h-2.75zM42.75 279.75h1.5v1.5h-1.5zM76.5 279.75h1.5v1.5h-1.5zM81.5 279.75h1.5v1.5h-1.5zM90.25 279.75h2.75v1.5h-2.75zM110.25 279.75h1.5v1.5h-1.5zM130.25 279.75h1.5v1.5h-1.5zM135.25 279.75h1.5v1.5h-1.5zM81.5 281h1.5v1.5h-1.5zM110.25 281h1.5v1.5h-1.5zM135.25 281h1.5v1.5h-1.5zM109 282.25h1.5v1.5h-1.5zM129 282.25h1.5v1.5h-1.5zM40.25 283.5h1.5v1.5h-1.5zM127.75 283.5h1.5v1.5h-1.5zM131.5 283.5h2.75v1.5h-2.75zM86.5 284.75h4v1.5h-4zM92.75 284.75h1.5v1.5h-1.5zM126.5 284.75h1.5v1.5h-1.5z"/><path fill="#8cc878" d="M50.25 196h1.5v1.5h-1.5zM101.5 196h2.75v1.5h-2.75zM132.75 196h5.25v1.5h-5.25zM46.5 197.25h1.5v1.5h-1.5zM97.75 197.25h2.75v1.5h-2.75zM101.5 197.25h2.75v1.5h-2.75zM132.75 197.25h5.25v1.5h-5.25zM146.5 197.25h1.5v1.5h-1.5zM51.5 198.5h1.5v1.5h-1.5zM97.75 198.5h4v1.5h-4zM104 198.5h1.5v1.5h-1.5zM117.75 198.5h1.5v1.5h-1.5zM131.5 198.5h2.75v1.5h-2.75zM136.5 198.5h1.5v1.5h-1.5zM49 199.75h1.5v1.5h-1.5zM69 199.75h1.5v1.5h-1.5zM99 199.75h1.5v1.5h-1.5zM105.25 199.75h1.5v1.5h-1.5zM114 199.75h5.25v1.5h-5.25zM140.25 199.75h1.5v1.5h-1.5zM144 199.75h4v1.5h-4zM40.25 201h1.5v1.5h-1.5zM45.25 201h1.5v1.5h-1.5zM49 201h1.5v1.5h-1.5zM69 201h1.5v1.5h-1.5zM95.25 201h1.5v1.5h-1.5zM107.75 201h1.5v1.5h-1.5zM110.25 201h2.75v1.5h-2.75zM114 201h2.75v1.5h-2.75zM137.75 201h5.25v1.5h-5.25zM41.5 202.25h1.5v1.5h-1.5zM45.25 202.25h1.5v1.5h-1.5zM49 202.25h1.5v1.5h-1.5zM69 202.25h1.5v1.5h-1.5zM112.75 202.25h1.5v1.5h-1.5zM139 202.25h1.5v1.5h-1.5zM42.75 203.5h1.5v1.5h-1.5zM45.25 203.5h1.5v1.5h-1.5zM49 203.5h1.5v1.5h-1.5zM62.75 203.5h1.5v1.5h-1.5zM69 203.5h1.5v1.5h-1.5zM92.75 203.5h1.5v1.5h-1.5zM50.25 204.75h1.5v1.5h-1.5zM64 204.75h1.5v1.5h-1.5zM69 204.75h1.5v1.5h-1.5zM42.75 206h1.5v1.5h-1.5zM50.25 206h1.5v1.5h-1.5zM52.75 206h1.5v1.5h-1.5zM110.25 206h1.5v1.5h-1.5zM131.5 206h1.5v1.5h-1.5zM137.75 206h1.5v1.5h-1.5zM42.75 207.25h1.5v1.5h-1.5zM49 207.25h1.5v1.5h-1.5zM51.5 207.25h1.5v1.5h-1.5zM135.25 207.25h2.75v1.5h-2.75zM139 207.25h1.5v1.5h-1.5zM50.25 208.5h1.5v1.5h-1.5zM114 208.5h1.5v1.5h-1.5zM130.25 208.5h5.25v1.5h-5.25zM139 208.5h1.5v1.5h-1.5zM47.75 209.75h2.75v1.5h-2.75zM60.25 209.75h1.5v1.5h-1.5zM104 209.75h1.5v1.5h-1.5zM115.25 209.75h1.5v1.5h-1.5zM131.5 209.75h1.5v1.5h-1.5zM139 209.75h1.5v1.5h-1.5zM47.75 211h1.5v1.5h-1.5zM60.25 211h1.5v1.5h-1.5zM102.75 211h2.75v1.5h-2.75zM115.25 211h1.5v1.5h-1.5zM137.75 211h1.5v1.5h-1.5zM40.25 212.25h1.5v1.5h-1.5zM101.5 212.25h4v1.5h-4zM115.25 212.25h1.5v1.5h-1.5zM132.75 212.25h1.5v1.5h-1.5zM137.75 212.25h1.5v1.5h-1.5zM40.25 213.5h2.75v1.5h-2.75zM46.5 213.5h1.5v1.5h-1.5zM99 213.5h2.75v1.5h-2.75zM104 213.5h1.5v1.5h-1.5zM115.25 213.5h1.5v1.5h-1.5zM136.5 213.5h1.5v1.5h-1.5zM46.5 214.75h1.5v1.5h-1.5zM69 214.75h1.5v1.5h-1.5zM72.75 214.75h1.5v1.5h-1.5zM85.25 214.75h1.5v1.5h-1.5zM104 214.75h1.5v1.5h-1.5zM115.25 214.75h1.5v1.5h-1.5zM134 214.75h2.75v1.5h-2.75zM47.75 216h2.75v1.5h-2.75zM84 216h1.5v1.5h-1.5zM105.25 216h2.75v1.5h-2.75zM115.25 216h2.75v1.5h-2.75zM120.25 216h2.75v1.5h-2.75zM49 217.25h2.75v1.5h-2.75zM106.5 217.25h1.5v1.5h-1.5zM115.25 217.25h7.75v1.5h-7.75zM146.5 217.25h1.5v1.5h-1.5zM50.25 218.5h1.5v1.5h-1.5zM94 218.5h1.5v1.5h-1.5zM96.5 218.5h2.75v1.5h-2.75zM111.5 218.5h2.75v1.5h-2.75zM116.5 218.5h5.25v1.5h-5.25zM145.25 218.5h2.75v1.5h-2.75zM50.25 219.75h1.5v1.5h-1.5zM91.5 219.75h2.75v1.5h-2.75zM134 219.75h2.75v1.5h-2.75zM144 219.75h2.75v1.5h-2.75zM39 221h1.5v1.5h-1.5zM44 221h1.5v1.5h-1.5zM50.25 221h1.5v1.5h-1.5zM92.75 221h1.5v1.5h-1.5zM131.5 221h1.5v1.5h-1.5zM137.75 221h1.5v1.5h-1.5zM85.25 222.25h1.5v1.5h-1.5zM92.75 222.25h1.5v1.5h-1.5zM129 222.25h4v1.5h-4zM149 222.25h1.5v1.5h-1.5zM71.5 223.5h1.5v1.5h-1.5zM86.5 223.5h1.5v1.5h-1.5zM149 223.5h1.5v1.5h-1.5zM51.5 224.75h1.5v1.5h-1.5zM70.25 224.75h4v1.5h-4zM142.75 224.75h1.5v1.5h-1.5zM149 224.75h1.5v1.5h-1.5zM39 226h4v1.5h-4zM70.25 226h1.5v1.5h-1.5zM72.75 226h1.5v1.5h-1.5zM89 226h1.5v1.5h-1.5zM144 226h1.5v1.5h-1.5zM149 226h1.5v1.5h-1.5zM39 227.25h5.25v1.5h-5.25zM50.25 227.25h1.5v1.5h-1.5zM70.25 227.25h4v1.5h-4zM145.25 227.25h1.5v1.5h-1.5zM147.75 227.25h2.75v1.5h-2.75zM40.25 228.5h2.75v1.5h-2.75zM49 228.5h1.5v1.5h-1.5zM47.75 229.75h1.5v1.5h-1.5zM101.5 229.75h1.5v1.5h-1.5zM44 231h1.5v1.5h-1.5zM46.5 231h1.5v1.5h-1.5zM101.5 231h1.5v1.5h-1.5zM45.25 232.25h1.5v1.5h-1.5zM101.5 232.25h1.5v1.5h-1.5zM45.25 233.5h1.5v1.5h-1.5zM44 234.75h1.5v1.5h-1.5zM67.75 234.75h1.5v1.5h-1.5zM70.25 234.75h1.5v1.5h-1.5zM106.5 234.75h1.5v1.5h-1.5zM122.75 234.75h1.5v1.5h-1.5zM67.75 236h1.5v1.5h-1.5zM70.25 236h1.5v1.5h-1.5zM105.25 236h1.5v1.5h-1.5zM120.25 236h2.75v1.5h-2.75zM124 236h1.5v1.5h-1.5zM66.5 237.25h4v1.5h-4zM105.25 237.25h1.5v1.5h-1.5zM114 237.25h1.5v1.5h-1.5zM125.25 238.5h2.75v1.5h-2.75zM91.5 239.75h2.75v1.5h-2.75zM110.25 239.75h1.5v1.5h-1.5zM141.5 239.75h2.75v1.5h-2.75zM40.25 241h1.5v1.5h-1.5zM84 241h2.75v1.5h-2.75zM141.5 241h5.25v1.5h-5.25zM40.25 242.25h1.5v1.5h-1.5zM142.75 242.25h2.75v1.5h-2.75zM82.75 243.5h1.5v1.5h-1.5zM91.5 243.5h2.75v1.5h-2.75zM111.5 243.5h1.5v1.5h-1.5zM117.75 243.5h4v1.5h-4zM142.75 243.5h1.5v1.5h-1.5zM82.75 244.75h1.5v1.5h-1.5zM87.75 244.75h2.75v1.5h-2.75zM116.5 244.75h1.5v1.5h-1.5zM121.5 244.75h1.5v1.5h-1.5zM82.75 246h1.5v1.5h-1.5zM87.75 246h2.75v1.5h-2.75zM84 247.25h1.5v1.5h-1.5zM86.5 247.25h2.75v1.5h-2.75zM90.25 247.25h2.75v1.5h-2.75zM96.5 247.25h1.5v1.5h-1.5zM69 248.5h4v1.5h-4zM96.5 248.5h2.75v1.5h-2.75zM65.25 249.75h2.75v1.5h-2.75zM70.25 249.75h4v1.5h-4zM94 249.75h5.25v1.5h-5.25zM136.5 249.75h6.5v1.5h-6.5zM64 251h1.5v1.5h-1.5zM70.25 251h1.5v1.5h-1.5zM72.75 251h1.5v1.5h-1.5zM106.5 251h2.75v1.5h-2.75zM135.25 251h1.5v1.5h-1.5zM140.25 251h2.75v1.5h-2.75zM71.5 252.25h2.75v1.5h-2.75zM107.75 252.25h1.5v1.5h-1.5zM110.25 252.25h4v1.5h-4zM135.25 252.25h2.75v1.5h-2.75zM139 252.25h1.5v1.5h-1.5zM62.75 253.5h1.5v1.5h-1.5zM70.25 253.5h2.75v1.5h-2.75zM107.75 253.5h6.5v1.5h-6.5zM145.25 253.5h1.5v1.5h-1.5zM109 254.75h4v1.5h-4zM61.5 256h1.5v1.5h-1.5zM109 256h1.5v1.5h-1.5zM129 256h4v1.5h-4zM50.25 257.25h1.5v1.5h-1.5zM71.5 257.25h1.5v1.5h-1.5zM109 257.25h1.5v1.5h-1.5zM127.75 257.25h1.5v1.5h-1.5zM130.25 257.25h1.5v1.5h-1.5zM50.25 258.5h1.5v1.5h-1.5zM62.75 258.5h1.5v1.5h-1.5zM129 258.5h2.75v1.5h-2.75zM62.75 259.75h1.5v1.5h-1.5zM65.25 259.75h2.75v1.5h-2.75zM61.5 261h10.25v1.5h-10.25zM59 262.25h5.25v1.5h-5.25zM77.75 262.25h1.5v1.5h-1.5zM80.25 262.25h2.75v1.5h-2.75zM46.5 263.5h2.75v1.5h-2.75zM59 263.5h6.5v1.5h-6.5zM72.75 263.5h1.5v1.5h-1.5zM82.75 263.5h1.5v1.5h-1.5zM91.5 263.5h1.5v1.5h-1.5zM95.25 263.5h1.5v1.5h-1.5zM44 264.75h5.25v1.5h-5.25zM57.75 264.75h2.75v1.5h-2.75zM64 264.75h1.5v1.5h-1.5zM82.75 264.75h1.5v1.5h-1.5zM110.25 264.75h1.5v1.5h-1.5zM136.5 264.75h2.75v1.5h-2.75zM41.5 266h2.75v1.5h-2.75zM46.5 266h2.75v1.5h-2.75zM59 266h1.5v1.5h-1.5zM64 266h1.5v1.5h-1.5zM77.75 266h1.5v1.5h-1.5zM82.75 266h1.5v1.5h-1.5zM106.5 266h1.5v1.5h-1.5zM110.25 266h1.5v1.5h-1.5zM119 266h2.75v1.5h-2.75zM137.75 266h1.5v1.5h-1.5zM40.25 267.25h1.5v1.5h-1.5zM60.25 267.25h1.5v1.5h-1.5zM62.75 267.25h1.5v1.5h-1.5zM79 267.25h4v1.5h-4zM109 267.25h1.5v1.5h-1.5zM119 267.25h1.5v1.5h-1.5zM46.5 268.5h1.5v1.5h-1.5zM61.5 268.5h1.5v1.5h-1.5zM109 268.5h1.5v1.5h-1.5zM119 268.5h2.75v1.5h-2.75zM139 268.5h2.75v1.5h-2.75zM41.5 269.75h1.5v1.5h-1.5zM44 269.75h2.75v1.5h-2.75zM61.5 269.75h1.5v1.5h-1.5zM111.5 269.75h1.5v1.5h-1.5zM114 269.75h1.5v1.5h-1.5zM119 269.75h2.75v1.5h-2.75zM142.75 269.75h4v1.5h-4zM42.75 271h1.5v1.5h-1.5zM61.5 271h2.75v1.5h-2.75zM82.75 271h1.5v1.5h-1.5zM119 271h1.5v1.5h-1.5zM145.25 271h2.75v1.5h-2.75zM59 272.25h2.75v1.5h-2.75zM62.75 272.25h1.5v1.5h-1.5zM86.5 272.25h1.5v1.5h-1.5zM107.75 272.25h1.5v1.5h-1.5zM121.5 272.25h1.5v1.5h-1.5zM145.25 272.25h1.5v1.5h-1.5zM55.25 273.5h1.5v1.5h-1.5zM107.75 273.5h1.5v1.5h-1.5zM120.25 273.5h1.5v1.5h-1.5zM137.75 273.5h1.5v1.5h-1.5zM144 273.5h1.5v1.5h-1.5zM109 274.75h1.5v1.5h-1.5zM132.75 274.75h2.75v1.5h-2.75zM139 274.75h1.5v1.5h-1.5zM141.5 274.75h1.5v1.5h-1.5zM52.75 276h1.5v1.5h-1.5zM110.25 276h4v1.5h-4zM131.5 276h2.75v1.5h-2.75zM52.75 277.25h1.5v1.5h-1.5zM84 278.5h1.5v1.5h-1.5zM86.5 278.5h1.5v1.5h-1.5zM145.25 279.75h1.5v1.5h-1.5zM45.25 281h4v1.5h-4zM51.5 281h1.5v1.5h-1.5zM59 281h1.5v1.5h-1.5zM146.5 281h2.75v1.5h-2.75zM44 282.25h1.5v1.5h-1.5zM46.5 282.25h6.5v1.5h-6.5zM67.75 282.25h1.5v1.5h-1.5zM45.25 283.5h1.5v1.5h-1.5zM50.25 283.5h2.75v1.5h-2.75zM67.75 283.5h1.5v1.5h-1.5zM101.5 283.5h1.5v1.5h-1.5zM50.25 284.75h1.5v1.5h-1.5zM54 284.75h1.5v1.5h-1.5zM67.75 284.75h1.5v1.5h-1.5zM101.5 284.75h2.75v1.5h-2.75z"/><path fill="#a0c864" d="M51.5 196h1.5v1.5h-1.5zM141.5 196h5.25v1.5h-5.25zM41.5 197.25h4v1.5h-4zM51.5 197.25h1.5v1.5h-1.5zM144 197.25h2.75v1.5h-2.75zM41.5 198.5h1.5v1.5h-1.5zM46.5 198.5h1.5v1.5h-1.5zM67.75 198.5h1.5v1.5h-1.5zM101.5 198.5h1.5v1.5h-1.5zM142.75 198.5h4v1.5h-4zM40.25 199.75h5.25v1.5h-5.25zM67.75 199.75h1.5v1.5h-1.5zM97.75 199.75h1.5v1.5h-1.5zM104 199.75h1.5v1.5h-1.5zM141.5 199.75h2.75v1.5h-2.75zM149 199.75h1.5v1.5h-1.5zM42.75 201h2.75v1.5h-2.75zM67.75 201h1.5v1.5h-1.5zM96.5 201h2.75v1.5h-2.75zM105.25 201h1.5v1.5h-1.5zM44 202.25h1.5v1.5h-1.5zM67.75 202.25h1.5v1.5h-1.5zM95.25 202.25h1.5v1.5h-1.5zM106.5 202.25h6.5v1.5h-6.5zM140.25 202.25h2.75v1.5h-2.75zM50.25 203.5h2.75v1.5h-2.75zM64 203.5h2.75v1.5h-2.75zM67.75 203.5h1.5v1.5h-1.5zM94 203.5h1.5v1.5h-1.5zM104 203.5h1.5v1.5h-1.5zM111.5 203.5h1.5v1.5h-1.5zM141.5 203.5h1.5v1.5h-1.5zM45.25 204.75h1.5v1.5h-1.5zM51.5 204.75h1.5v1.5h-1.5zM109 204.75h2.75v1.5h-2.75zM92.75 206h1.5v1.5h-1.5zM105.25 206h1.5v1.5h-1.5zM109 206h1.5v1.5h-1.5zM130.25 206h1.5v1.5h-1.5zM44 207.25h1.5v1.5h-1.5zM50.25 207.25h1.5v1.5h-1.5zM104 207.25h6.5v1.5h-6.5zM130.25 207.25h2.75v1.5h-2.75zM44 208.5h1.5v1.5h-1.5zM105.25 208.5h7.75v1.5h-7.75zM106.5 209.75h1.5v1.5h-1.5zM111.5 209.75h2.75v1.5h-2.75zM135.25 209.75h2.75v1.5h-2.75zM105.25 211h1.5v1.5h-1.5zM112.75 211h2.75v1.5h-2.75zM134 211h2.75v1.5h-2.75zM99 212.25h1.5v1.5h-1.5zM105.25 212.25h1.5v1.5h-1.5zM114 212.25h1.5v1.5h-1.5zM135.25 212.25h1.5v1.5h-1.5zM97.75 213.5h1.5v1.5h-1.5zM105.25 213.5h1.5v1.5h-1.5zM114 213.5h1.5v1.5h-1.5zM45.25 214.75h1.5v1.5h-1.5zM70.25 214.75h1.5v1.5h-1.5zM105.25 214.75h2.75v1.5h-2.75zM110.25 214.75h1.5v1.5h-1.5zM114 214.75h1.5v1.5h-1.5zM45.25 216h1.5v1.5h-1.5zM72.75 216h1.5v1.5h-1.5zM85.25 216h1.5v1.5h-1.5zM107.75 216h1.5v1.5h-1.5zM112.75 216h2.75v1.5h-2.75zM72.75 217.25h1.5v1.5h-1.5zM84 217.25h1.5v1.5h-1.5zM94 217.25h1.5v1.5h-1.5zM107.75 217.25h1.5v1.5h-1.5zM111.5 217.25h2.75v1.5h-2.75zM45.25 218.5h4v1.5h-4zM74 218.5h1.5v1.5h-1.5zM82.75 218.5h1.5v1.5h-1.5zM46.5 219.75h4v1.5h-4zM67.75 219.75h1.5v1.5h-1.5zM74 219.75h1.5v1.5h-1.5zM84 219.75h1.5v1.5h-1.5zM87.75 219.75h2.75v1.5h-2.75zM45.25 221h5.25v1.5h-5.25zM85.25 221h2.75v1.5h-2.75zM129 221h2.75v1.5h-2.75zM132.75 221h1.5v1.5h-1.5zM135.25 221h1.5v1.5h-1.5zM45.25 222.25h1.5v1.5h-1.5zM72.75 222.25h1.5v1.5h-1.5zM86.5 222.25h1.5v1.5h-1.5zM91.5 222.25h1.5v1.5h-1.5zM132.75 222.25h1.5v1.5h-1.5zM136.5 222.25h2.75v1.5h-2.75zM147.75 222.25h1.5v1.5h-1.5zM49 223.5h2.75v1.5h-2.75zM70.25 223.5h1.5v1.5h-1.5zM140.25 223.5h2.75v1.5h-2.75zM147.75 223.5h1.5v1.5h-1.5zM50.25 224.75h1.5v1.5h-1.5zM92.75 224.75h1.5v1.5h-1.5zM145.25 224.75h1.5v1.5h-1.5zM147.75 224.75h1.5v1.5h-1.5zM42.75 226h1.5v1.5h-1.5zM50.25 226h1.5v1.5h-1.5zM57.75 226h1.5v1.5h-1.5zM60.25 226h1.5v1.5h-1.5zM90.25 226h1.5v1.5h-1.5zM145.25 226h4v1.5h-4zM49 227.25h1.5v1.5h-1.5zM60.25 227.25h1.5v1.5h-1.5zM46.5 228.5h2.75v1.5h-2.75zM45.25 229.75h1.5v1.5h-1.5zM42.75 231h1.5v1.5h-1.5zM42.75 232.25h2.75v1.5h-2.75zM42.75 233.5h1.5v1.5h-1.5zM115.25 237.25h2.75v1.5h-2.75zM120.25 237.25h5.25v1.5h-5.25zM112.75 238.5h1.5v1.5h-1.5zM117.75 238.5h2.75v1.5h-2.75zM124 238.5h1.5v1.5h-1.5zM111.5 239.75h1.5v1.5h-1.5zM119 241h1.5v1.5h-1.5zM116.5 242.25h2.75v1.5h-2.75zM120.25 242.25h1.5v1.5h-1.5zM84 243.5h2.75v1.5h-2.75zM112.75 243.5h4v1.5h-4zM121.5 243.5h1.5v1.5h-1.5zM145.25 243.5h1.5v1.5h-1.5zM84 244.75h2.75v1.5h-2.75zM84 246h2.75v1.5h-2.75zM91.5 246h2.75v1.5h-2.75zM92.75 247.25h2.75v1.5h-2.75zM65.25 251h5.25v1.5h-5.25zM64 252.25h1.5v1.5h-1.5zM69 252.25h1.5v1.5h-1.5zM64 253.5h1.5v1.5h-1.5zM69 253.5h1.5v1.5h-1.5zM69 254.75h4v1.5h-4zM62.75 256h1.5v1.5h-1.5zM62.75 257.25h1.5v1.5h-1.5zM70.25 257.25h1.5v1.5h-1.5zM111.5 257.25h1.5v1.5h-1.5zM49 258.5h1.5v1.5h-1.5zM64 258.5h2.75v1.5h-2.75zM67.75 258.5h1.5v1.5h-1.5zM70.25 258.5h1.5v1.5h-1.5zM67.75 259.75h2.75v1.5h-2.75zM79 263.5h2.75v1.5h-2.75zM94 263.5h1.5v1.5h-1.5zM80.25 264.75h2.75v1.5h-2.75zM79 266h2.75v1.5h-2.75zM107.75 266h2.75v1.5h-2.75zM105.25 267.25h4v1.5h-4zM106.5 268.5h2.75v1.5h-2.75zM107.75 269.75h2.75v1.5h-2.75zM112.75 269.75h1.5v1.5h-1.5zM139 269.75h2.75v1.5h-2.75zM60.25 271h1.5v1.5h-1.5zM109 271h1.5v1.5h-1.5zM114 271h1.5v1.5h-1.5zM141.5 271h2.75v1.5h-2.75zM82.75 272.25h1.5v1.5h-1.5zM109 272.25h1.5v1.5h-1.5zM141.5 272.25h2.75v1.5h-2.75zM57.75 273.5h5.25v1.5h-5.25zM81.5 273.5h1.5v1.5h-1.5zM84 273.5h2.75v1.5h-2.75zM109 273.5h1.5v1.5h-1.5zM139 273.5h4v1.5h-4zM84 274.75h4v1.5h-4zM110.25 274.75h4v1.5h-4zM119 274.75h1.5v1.5h-1.5zM56.5 276h2.75v1.5h-2.75zM82.75 276h5.25v1.5h-5.25zM54 277.25h1.5v1.5h-1.5zM85.25 277.25h1.5v1.5h-1.5zM116.5 277.25h1.5v1.5h-1.5zM40.25 279.75h1.5v1.5h-1.5zM54 279.75h4v1.5h-4zM147.75 279.75h1.5v1.5h-1.5zM41.5 281h1.5v1.5h-1.5zM54 281h1.5v1.5h-1.5zM64 281h1.5v1.5h-1.5zM66.5 281h1.5v1.5h-1.5zM145.25 281h1.5v1.5h-1.5zM60.25 282.25h2.75v1.5h-2.75zM66.5 282.25h1.5v1.5h-1.5zM60.25 283.5h1.5v1.5h-1.5zM66.5 283.5h1.5v1.5h-1.5zM61.5 284.75h1.5v1.5h-1.5zM66.5 284.75h1.5v1.5h-1.5z"/><path fill="#8cc864" d="M52.75 196h1.5v1.5h-1.5zM67.75 196h1.5v1.5h-1.5zM50.25 197.25h1.5v1.5h-1.5zM52.75 197.25h1.5v1.5h-1.5zM67.75 197.25h1.5v1.5h-1.5zM100.25 197.25h1.5v1.5h-1.5zM50.25 198.5h1.5v1.5h-1.5zM102.75 198.5h1.5v1.5h-1.5zM146.5 198.5h2.75v1.5h-2.75zM39 199.75h1.5v1.5h-1.5zM50.25 199.75h1.5v1.5h-1.5zM96.5 199.75h1.5v1.5h-1.5zM41.5 201h1.5v1.5h-1.5zM50.25 201h1.5v1.5h-1.5zM106.5 201h1.5v1.5h-1.5zM112.75 201h1.5v1.5h-1.5zM42.75 202.25h1.5v1.5h-1.5zM50.25 202.25h1.5v1.5h-1.5zM61.5 202.25h2.75v1.5h-2.75zM94 202.25h1.5v1.5h-1.5zM44 203.5h1.5v1.5h-1.5zM44 204.75h1.5v1.5h-1.5zM92.75 204.75h1.5v1.5h-1.5zM44 206h1.5v1.5h-1.5zM51.5 206h1.5v1.5h-1.5zM110.25 207.25h1.5v1.5h-1.5zM137.75 207.25h1.5v1.5h-1.5zM49 208.5h1.5v1.5h-1.5zM104 208.5h1.5v1.5h-1.5zM112.75 208.5h1.5v1.5h-1.5zM135.25 208.5h4v1.5h-4zM105.25 209.75h1.5v1.5h-1.5zM114 209.75h1.5v1.5h-1.5zM132.75 209.75h2.75v1.5h-2.75zM137.75 209.75h1.5v1.5h-1.5zM132.75 211h1.5v1.5h-1.5zM136.5 211h1.5v1.5h-1.5zM100.25 212.25h1.5v1.5h-1.5zM134 212.25h1.5v1.5h-1.5zM136.5 212.25h1.5v1.5h-1.5zM134 213.5h2.75v1.5h-2.75zM71.5 214.75h1.5v1.5h-1.5zM97.75 214.75h1.5v1.5h-1.5zM46.5 216h1.5v1.5h-1.5zM74 216h1.5v1.5h-1.5zM45.25 217.25h4v1.5h-4zM74 217.25h1.5v1.5h-1.5zM114 217.25h1.5v1.5h-1.5zM49 218.5h1.5v1.5h-1.5zM45.25 219.75h1.5v1.5h-1.5zM82.75 219.75h1.5v1.5h-1.5zM90.25 219.75h1.5v1.5h-1.5zM84 221h1.5v1.5h-1.5zM91.5 221h1.5v1.5h-1.5zM136.5 221h1.5v1.5h-1.5zM44 222.25h1.5v1.5h-1.5zM50.25 222.25h1.5v1.5h-1.5zM92.75 223.5h1.5v1.5h-1.5zM60.25 224.75h1.5v1.5h-1.5zM71.5 226h1.5v1.5h-1.5zM146.5 227.25h1.5v1.5h-1.5zM41.5 229.75h1.5v1.5h-1.5zM46.5 229.75h1.5v1.5h-1.5zM41.5 231h1.5v1.5h-1.5zM45.25 231h1.5v1.5h-1.5zM41.5 232.25h1.5v1.5h-1.5zM44 233.5h1.5v1.5h-1.5zM101.5 233.5h1.5v1.5h-1.5zM69 234.75h1.5v1.5h-1.5zM69 236h1.5v1.5h-1.5zM122.75 236h1.5v1.5h-1.5zM104 237.25h1.5v1.5h-1.5zM117.75 237.25h2.75v1.5h-2.75zM125.25 237.25h1.5v1.5h-1.5zM110.25 241h1.5v1.5h-1.5zM84 242.25h2.75v1.5h-2.75zM110.25 242.25h1.5v1.5h-1.5zM119 242.25h1.5v1.5h-1.5zM145.25 242.25h1.5v1.5h-1.5zM86.5 243.5h1.5v1.5h-1.5zM116.5 243.5h1.5v1.5h-1.5zM144 243.5h1.5v1.5h-1.5zM86.5 244.75h1.5v1.5h-1.5zM90.25 244.75h4v1.5h-4zM144 244.75h2.75v1.5h-2.75zM86.5 246h1.5v1.5h-1.5zM90.25 246h1.5v1.5h-1.5zM94 246h1.5v1.5h-1.5zM95.25 247.25h1.5v1.5h-1.5zM67.75 249.75h2.75v1.5h-2.75zM136.5 251h4v1.5h-4zM109 252.25h1.5v1.5h-1.5zM137.75 252.25h1.5v1.5h-1.5zM62.75 254.75h1.5v1.5h-1.5zM71.5 256h1.5v1.5h-1.5zM49 257.25h1.5v1.5h-1.5zM61.5 257.25h1.5v1.5h-1.5zM129 257.25h1.5v1.5h-1.5zM64 259.75h1.5v1.5h-1.5zM70.25 259.75h1.5v1.5h-1.5zM79 262.25h1.5v1.5h-1.5zM81.5 263.5h1.5v1.5h-1.5zM92.75 263.5h1.5v1.5h-1.5zM60.25 264.75h4v1.5h-4zM107.75 264.75h2.75v1.5h-2.75zM44 266h2.75v1.5h-2.75zM60.25 266h4v1.5h-4zM81.5 266h1.5v1.5h-1.5zM41.5 267.25h6.5v1.5h-6.5zM61.5 267.25h1.5v1.5h-1.5zM120.25 267.25h1.5v1.5h-1.5zM40.25 268.5h6.5v1.5h-6.5zM42.75 269.75h1.5v1.5h-1.5zM60.25 269.75h1.5v1.5h-1.5zM141.5 269.75h1.5v1.5h-1.5zM107.75 271h1.5v1.5h-1.5zM117.75 271h1.5v1.5h-1.5zM120.25 271h1.5v1.5h-1.5zM144 271h1.5v1.5h-1.5zM61.5 272.25h1.5v1.5h-1.5zM81.5 272.25h1.5v1.5h-1.5zM84 272.25h2.75v1.5h-2.75zM119 272.25h2.75v1.5h-2.75zM144 272.25h1.5v1.5h-1.5zM56.5 273.5h1.5v1.5h-1.5zM62.75 273.5h1.5v1.5h-1.5zM86.5 273.5h1.5v1.5h-1.5zM142.75 273.5h1.5v1.5h-1.5zM54 274.75h1.5v1.5h-1.5zM140.25 274.75h1.5v1.5h-1.5zM114 276h1.5v1.5h-1.5zM84 277.25h1.5v1.5h-1.5zM86.5 277.25h1.5v1.5h-1.5zM52.75 278.5h1.5v1.5h-1.5zM85.25 278.5h1.5v1.5h-1.5zM52.75 279.75h1.5v1.5h-1.5zM52.75 281h1.5v1.5h-1.5zM45.25 282.25h1.5v1.5h-1.5zM52.75 282.25h1.5v1.5h-1.5zM52.75 283.5h1.5v1.5h-1.5zM51.5 284.75h2.75v1.5h-2.75z"/><path fill="#64a0a0" d="M55.25 196h1.5v1.5h-1.5zM126.5 196h1.5v1.5h-1.5zM139 196h1.5v1.5h-1.5zM147.75 196h2.75v1.5h-2.75zM55.25 197.25h1.5v1.5h-1.5zM76.5 197.25h1.5v1.5h-1.5zM119 201h1.5v1.5h-1.5zM136.5 202.25h1.5v1.5h-1.5zM40.25 203.5h1.5v1.5h-1.5zM57.75 203.5h1.5v1.5h-1.5zM135.25 203.5h1.5v1.5h-1.5zM59 204.75h1.5v1.5h-1.5zM70.25 204.75h1.5v1.5h-1.5zM122.75 204.75h1.5v1.5h-1.5zM59 206h1.5v1.5h-1.5zM64 206h4v1.5h-4zM111.5 206h1.5v1.5h-1.5zM59 207.25h1.5v1.5h-1.5zM61.5 207.25h1.5v1.5h-1.5zM66.5 207.25h1.5v1.5h-1.5zM141.5 207.25h1.5v1.5h-1.5zM64 209.75h1.5v1.5h-1.5zM71.5 211h1.5v1.5h-1.5zM90.25 213.5h1.5v1.5h-1.5zM130.25 213.5h1.5v1.5h-1.5zM39 214.75h1.5v1.5h-1.5zM89 214.75h1.5v1.5h-1.5zM76.5 216h2.75v1.5h-2.75zM131.5 216h1.5v1.5h-1.5zM139 216h1.5v1.5h-1.5zM44 217.25h1.5v1.5h-1.5zM139 217.25h1.5v1.5h-1.5zM139 218.5h1.5v1.5h-1.5zM104 219.75h1.5v1.5h-1.5zM139 224.75h1.5v1.5h-1.5zM70.25 229.75h1.5v1.5h-1.5zM67.75 231h1.5v1.5h-1.5zM95.25 231h1.5v1.5h-1.5zM91.5 232.25h1.5v1.5h-1.5zM66.5 233.5h1.5v1.5h-1.5zM92.75 233.5h2.75v1.5h-2.75zM109 233.5h2.75v1.5h-2.75zM92.75 234.75h2.75v1.5h-2.75zM95.25 236h2.75v1.5h-2.75zM39 237.25h1.5v1.5h-1.5zM42.75 237.25h1.5v1.5h-1.5zM91.5 237.25h1.5v1.5h-1.5zM95.25 237.25h1.5v1.5h-1.5zM142.75 237.25h1.5v1.5h-1.5zM149 237.25h1.5v1.5h-1.5zM41.5 238.5h1.5v1.5h-1.5zM55.25 238.5h1.5v1.5h-1.5zM102.75 238.5h1.5v1.5h-1.5zM147.75 238.5h1.5v1.5h-1.5zM126.5 244.75h1.5v1.5h-1.5zM42.75 246h1.5v1.5h-1.5zM115.25 246h1.5v1.5h-1.5zM124 246h2.75v1.5h-2.75zM84 248.5h1.5v1.5h-1.5zM89 248.5h2.75v1.5h-2.75zM82.75 252.25h1.5v1.5h-1.5zM87.75 252.25h1.5v1.5h-1.5zM132.75 253.5h1.5v1.5h-1.5zM147.75 256h1.5v1.5h-1.5zM147.75 257.25h1.5v1.5h-1.5zM89 259.75h1.5v1.5h-1.5zM47.75 261h1.5v1.5h-1.5zM76.5 262.25h1.5v1.5h-1.5zM90.25 263.5h1.5v1.5h-1.5zM135.25 264.75h1.5v1.5h-1.5zM56.5 267.25h1.5v1.5h-1.5zM122.75 267.25h1.5v1.5h-1.5zM136.5 268.5h1.5v1.5h-1.5zM40.25 271h1.5v1.5h-1.5zM100.25 271h1.5v1.5h-1.5zM136.5 271h1.5v1.5h-1.5zM105.25 272.25h1.5v1.5h-1.5zM149 273.5h1.5v1.5h-1.5zM66.5 276h1.5v1.5h-1.5zM65.25 277.25h1.5v1.5h-1.5zM64 278.5h2.75v1.5h-2.75zM66.5 279.75h1.5v1.5h-1.5zM96.5 281h1.5v1.5h-1.5zM90.25 282.25h1.5v1.5h-1.5zM95.25 282.25h2.75v1.5h-2.75zM71.5 283.5h1.5v1.5h-1.5zM74 283.5h1.5v1.5h-1.5zM90.25 283.5h2.75v1.5h-2.75zM139 284.75h1.5v1.5h-1.5zM147.75 284.75h1.5v1.5h-1.5z"/><path fill="#6478b4" d="M56.5 196h1.5v1.5h-1.5zM66.5 211h2.75v1.5h-2.75zM91.5 212.25h1.5v1.5h-1.5zM75.25 222.25h1.5v1.5h-1.5zM77.75 222.25h1.5v1.5h-1.5zM105.25 231h1.5v1.5h-1.5zM79 237.25h1.5v1.5h-1.5zM145.25 237.25h2.75v1.5h-2.75zM49 249.75h1.5v1.5h-1.5zM94 252.25h1.5v1.5h-1.5zM91.5 256h1.5v1.5h-1.5zM90.25 259.75h2.75v1.5h-2.75zM89 261h1.5v1.5h-1.5z"/><path fill="#dcc83c" d="M57.75 196h1.5v1.5h-1.5zM61.5 196h1.5v1.5h-1.5zM119 197.25h1.5v1.5h-1.5zM59 199.75h1.5v1.5h-1.5zM119 199.75h1.5v1.5h-1.5zM60.25 201h1.5v1.5h-1.5zM97.75 216h1.5v1.5h-1.5zM96.5 217.25h2.75v1.5h-2.75zM70.25 218.5h2.75v1.5h-2.75zM72.75 219.75h1.5v1.5h-1.5zM72.75 221h1.5v1.5h-1.5zM87.75 222.25h2.75v1.5h-2.75zM89 223.5h2.75v1.5h-2.75zM135.25 223.5h1.5v1.5h-1.5zM90.25 224.75h1.5v1.5h-1.5zM59 226h1.5v1.5h-1.5zM69 241h1.5v1.5h-1.5zM66.5 242.25h4v1.5h-4zM96.5 257.25h1.5v1.5h-1.5zM99 259.75h1.5v1.5h-1.5zM130.25 267.25h1.5v1.5h-1.5zM130.25 268.5h2.75v1.5h-2.75zM116.5 272.25h1.5v1.5h-1.5zM116.5 273.5h1.5v1.5h-1.5zM116.5 274.75h2.75v1.5h-2.75zM59 283.5h1.5v1.5h-1.5zM60.25 284.75h1.5v1.5h-1.5z"/><path fill="#f0c828" d="M59 196h2.75v1.5h-2.75zM59 197.25h4v1.5h-4zM120.25 197.25h5.25v1.5h-5.25zM59 198.5h4v1.5h-4zM119 198.5h5.25v1.5h-5.25zM60.25 199.75h2.75v1.5h-2.75zM120.25 199.75h1.5v1.5h-1.5zM96.5 216h1.5v1.5h-1.5zM69 219.75h4v1.5h-4zM69 221h4v1.5h-4zM69 222.25h4v1.5h-4zM135.25 224.75h1.5v1.5h-1.5zM95.25 258.5h5.25v1.5h-5.25zM95.25 259.75h4v1.5h-4zM57.75 283.5h1.5v1.5h-1.5zM57.75 284.75h2.75v1.5h-2.75z"/><path fill="#c8c850" d="M62.75 196h2.75v1.5h-2.75zM64 198.5h1.5v1.5h-1.5zM62.75 199.75h1.5v1.5h-1.5zM70.25 216h1.5v1.5h-1.5zM95.25 216h1.5v1.5h-1.5zM71.5 217.25h1.5v1.5h-1.5zM109 217.25h2.75v1.5h-2.75zM69 218.5h1.5v1.5h-1.5zM72.75 218.5h1.5v1.5h-1.5zM149 219.75h1.5v1.5h-1.5zM134 222.25h2.75v1.5h-2.75zM91.5 223.5h1.5v1.5h-1.5zM134 223.5h1.5v1.5h-1.5zM136.5 224.75h1.5v1.5h-1.5zM91.5 226h1.5v1.5h-1.5zM135.25 226h1.5v1.5h-1.5zM66.5 241h2.75v1.5h-2.75zM70.25 241h1.5v1.5h-1.5zM70.25 242.25h1.5v1.5h-1.5zM56.5 248.5h1.5v1.5h-1.5zM97.75 257.25h1.5v1.5h-1.5zM95.25 261h2.75v1.5h-2.75zM124 263.5h1.5v1.5h-1.5zM131.5 267.25h1.5v1.5h-1.5zM115.25 272.25h1.5v1.5h-1.5zM115.25 273.5h1.5v1.5h-1.5zM39 281h2.75v1.5h-2.75zM141.5 281h2.75v1.5h-2.75z"/><path fill="#b4dc50" d="M65.25 196h1.5v1.5h-1.5zM65.25 197.25h2.75v1.5h-2.75zM141.5 197.25h2.75v1.5h-2.75zM65.25 198.5h2.75v1.5h-2.75zM141.5 198.5h1.5v1.5h-1.5zM64 199.75h4v1.5h-4zM101.5 199.75h2.75v1.5h-2.75zM64 201h4v1.5h-4zM102.75 201h2.75v1.5h-2.75zM65.25 202.25h2.75v1.5h-2.75zM104 202.25h1.5v1.5h-1.5zM109 203.5h2.75v1.5h-2.75zM94 204.75h2.75v1.5h-2.75zM94 206h4v1.5h-4zM104 206h1.5v1.5h-1.5zM95.25 207.25h2.75v1.5h-2.75zM95.25 208.5h4v1.5h-4zM96.5 209.75h1.5v1.5h-1.5zM107.75 209.75h4v1.5h-4zM106.5 211h6.5v1.5h-6.5zM106.5 212.25h7.75v1.5h-7.75zM106.5 213.5h7.75v1.5h-7.75zM111.5 214.75h2.75v1.5h-2.75zM111.5 216h1.5v1.5h-1.5zM85.25 217.25h1.5v1.5h-1.5zM85.25 218.5h1.5v1.5h-1.5zM85.25 219.75h2.75v1.5h-2.75zM46.5 222.25h2.75v1.5h-2.75zM146.5 224.75h1.5v1.5h-1.5zM49 226h1.5v1.5h-1.5zM45.25 227.25h4v1.5h-4zM115.25 238.5h2.75v1.5h-2.75zM121.5 238.5h2.75v1.5h-2.75zM112.75 239.75h6.5v1.5h-6.5zM120.25 239.75h4v1.5h-4zM112.75 241h5.25v1.5h-5.25zM121.5 241h2.75v1.5h-2.75zM112.75 242.25h4v1.5h-4zM66.5 252.25h2.75v1.5h-2.75zM65.25 253.5h4v1.5h-4zM64 254.75h5.25v1.5h-5.25zM64 256h5.25v1.5h-5.25zM70.25 256h1.5v1.5h-1.5zM64 257.25h2.75v1.5h-2.75zM69 257.25h1.5v1.5h-1.5zM94 261h1.5v1.5h-1.5zM92.75 262.25h2.75v1.5h-2.75zM110.25 271h4v1.5h-4zM110.25 272.25h5.25v1.5h-5.25zM139 272.25h2.75v1.5h-2.75zM111.5 273.5h4v1.5h-4zM55.25 274.75h5.25v1.5h-5.25zM54 276h1.5v1.5h-1.5zM65.25 281h1.5v1.5h-1.5zM62.75 282.25h4v1.5h-4zM62.75 283.5h4v1.5h-4zM62.75 284.75h4v1.5h-4z"/><path fill="#a0dc64" d="M66.5 196h1.5v1.5h-1.5zM95.25 203.5h1.5v1.5h-1.5zM139 222.25h1.5v1.5h-1.5zM45.25 228.5h1.5v1.5h-1.5zM120.25 238.5h1.5v1.5h-1.5zM120.25 241h1.5v1.5h-1.5zM111.5 242.25h1.5v1.5h-1.5zM121.5 242.25h1.5v1.5h-1.5zM65.25 252.25h1.5v1.5h-1.5zM47.75 258.5h1.5v1.5h-1.5zM95.25 262.25h1.5v1.5h-1.5zM140.25 271h1.5v1.5h-1.5zM114 274.75h1.5v1.5h-1.5zM61.5 283.5h1.5v1.5h-1.5z"/><path fill="#78a08c" d="M74 196h1.5v1.5h-1.5zM131.5 196h1.5v1.5h-1.5zM52.75 198.5h1.5v1.5h-1.5zM130.25 199.75h1.5v1.5h-1.5zM57.75 201h1.5v1.5h-1.5zM126.5 201h1.5v1.5h-1.5zM137.75 202.25h1.5v1.5h-1.5zM52.75 204.75h1.5v1.5h-1.5zM139 206h1.5v1.5h-1.5zM39 208.5h1.5v1.5h-1.5zM41.5 208.5h1.5v1.5h-1.5zM46.5 208.5h1.5v1.5h-1.5zM102.75 208.5h1.5v1.5h-1.5zM40.25 209.75h2.75v1.5h-2.75zM57.75 209.75h1.5v1.5h-1.5zM102.75 209.75h1.5v1.5h-1.5zM59 212.25h1.5v1.5h-1.5zM54 213.5h1.5v1.5h-1.5zM132.75 214.75h1.5v1.5h-1.5zM89 218.5h2.75v1.5h-2.75zM92.75 218.5h1.5v1.5h-1.5zM141.5 219.75h1.5v1.5h-1.5zM139 221h1.5v1.5h-1.5zM41.5 222.25h1.5v1.5h-1.5zM64 224.75h1.5v1.5h-1.5zM64 226h1.5v1.5h-1.5zM40.25 232.25h1.5v1.5h-1.5zM41.5 233.5h1.5v1.5h-1.5zM67.75 233.5h1.5v1.5h-1.5zM42.75 236h1.5v1.5h-1.5zM55.25 237.25h1.5v1.5h-1.5zM39 239.75h1.5v1.5h-1.5zM91.5 241h1.5v1.5h-1.5zM89 243.5h1.5v1.5h-1.5zM42.75 244.75h1.5v1.5h-1.5zM39 246h1.5v1.5h-1.5zM72.75 247.25h2.75v1.5h-2.75zM144 247.25h1.5v1.5h-1.5zM144 248.5h2.75v1.5h-2.75zM94 251h1.5v1.5h-1.5zM136.5 261h1.5v1.5h-1.5zM96.5 262.25h1.5v1.5h-1.5zM135.25 262.25h1.5v1.5h-1.5zM135.25 263.5h1.5v1.5h-1.5zM106.5 269.75h1.5v1.5h-1.5zM106.5 271h1.5v1.5h-1.5zM65.25 274.75h1.5v1.5h-1.5zM61.5 277.25h1.5v1.5h-1.5zM97.75 282.25h2.75v1.5h-2.75zM54 283.5h1.5v1.5h-1.5zM75.25 283.5h1.5v1.5h-1.5zM96.5 283.5h1.5v1.5h-1.5zM100.25 283.5h1.5v1.5h-1.5zM72.75 284.75h1.5v1.5h-1.5zM79 284.75h1.5v1.5h-1.5zM96.5 284.75h1.5v1.5h-1.5zM100.25 284.75h1.5v1.5h-1.5z"/><path fill="#6478a0" d="M75.25 196h1.5v1.5h-1.5zM79 196h1.5v1.5h-1.5zM127.75 196h1.5v1.5h-1.5zM56.5 197.25h1.5v1.5h-1.5zM54 198.5h1.5v1.5h-1.5zM57.75 198.5h1.5v1.5h-1.5zM57.75 199.75h1.5v1.5h-1.5zM129 199.75h1.5v1.5h-1.5zM56.5 201h1.5v1.5h-1.5zM125.25 201h1.5v1.5h-1.5zM147.75 201h1.5v1.5h-1.5zM39 202.25h1.5v1.5h-1.5zM55.25 202.25h1.5v1.5h-1.5zM121.5 202.25h1.5v1.5h-1.5zM124 202.25h1.5v1.5h-1.5zM54 203.5h1.5v1.5h-1.5zM122.75 203.5h1.5v1.5h-1.5zM137.75 203.5h1.5v1.5h-1.5zM55.25 204.75h1.5v1.5h-1.5zM55.25 206h2.75v1.5h-2.75zM70.25 206h1.5v1.5h-1.5zM55.25 207.25h2.75v1.5h-2.75zM55.25 208.5h1.5v1.5h-1.5zM69 208.5h1.5v1.5h-1.5zM55.25 209.75h1.5v1.5h-1.5zM54 211h2.75v1.5h-2.75zM54 212.25h4v1.5h-4zM91.5 213.5h1.5v1.5h-1.5zM89 216h2.75v1.5h-2.75zM76.5 217.25h2.75v1.5h-2.75zM89 217.25h4v1.5h-4zM75.25 218.5h1.5v1.5h-1.5zM41.5 223.5h1.5v1.5h-1.5zM111.5 231h1.5v1.5h-1.5zM107.75 232.25h4v1.5h-4zM39 233.5h2.75v1.5h-2.75zM39 236h1.5v1.5h-1.5zM41.5 236h1.5v1.5h-1.5zM44 243.5h1.5v1.5h-1.5zM44 244.75h1.5v1.5h-1.5zM47.75 254.75h1.5v1.5h-1.5zM44 257.25h2.75v1.5h-2.75zM87.75 262.25h1.5v1.5h-1.5zM90.25 262.25h1.5v1.5h-1.5zM96.5 264.75h1.5v1.5h-1.5zM64 276h1.5v1.5h-1.5zM55.25 283.5h1.5v1.5h-1.5zM75.25 284.75h1.5v1.5h-1.5zM77.75 284.75h1.5v1.5h-1.5z"/><path fill="#6464a0" d="M76.5 196h2.75v1.5h-2.75zM129 196h1.5v1.5h-1.5zM127.75 197.25h2.75v1.5h-2.75zM55.25 198.5h2.75v1.5h-2.75zM127.75 198.5h2.75v1.5h-2.75zM52.75 199.75h5.25v1.5h-5.25zM127.75 199.75h1.5v1.5h-1.5zM52.75 201h4v1.5h-4zM54 202.25h1.5v1.5h-1.5zM122.75 202.25h1.5v1.5h-1.5zM99 203.5h2.75v1.5h-2.75zM100.25 204.75h1.5v1.5h-1.5zM71.5 206h1.5v1.5h-1.5zM70.25 207.25h4v1.5h-4zM70.25 208.5h2.75v1.5h-2.75zM69 209.75h2.75v1.5h-2.75zM92.75 213.5h1.5v1.5h-1.5zM91.5 214.75h2.75v1.5h-2.75zM91.5 216h1.5v1.5h-1.5zM76.5 218.5h2.75v1.5h-2.75zM75.25 219.75h4v1.5h-4zM75.25 221h4v1.5h-4zM107.75 231h4v1.5h-4zM39 234.75h2.75v1.5h-2.75zM40.25 236h1.5v1.5h-1.5zM45.25 256h2.75v1.5h-2.75zM94 257.25h1.5v1.5h-1.5zM97.75 262.25h1.5v1.5h-1.5zM100.25 267.25h4v1.5h-4zM99 268.5h6.5v1.5h-6.5zM99 269.75h7.75v1.5h-7.75zM102.75 271h4v1.5h-4zM56.5 282.25h1.5v1.5h-1.5zM76.5 284.75h1.5v1.5h-1.5z"/><path fill="#64b4a0" d="M80.25 196h1.5v1.5h-1.5zM82.75 196h1.5v1.5h-1.5zM91.5 196h1.5v1.5h-1.5zM92.75 198.5h1.5v1.5h-1.5zM145.25 201h2.75v1.5h-2.75zM120.25 202.25h1.5v1.5h-1.5zM119 203.5h1.5v1.5h-1.5zM60.25 204.75h1.5v1.5h-1.5zM132.75 204.75h1.5v1.5h-1.5zM60.25 206h1.5v1.5h-1.5zM62.75 206h1.5v1.5h-1.5zM115.25 206h2.75v1.5h-2.75zM91.5 207.25h1.5v1.5h-1.5zM61.5 208.5h1.5v1.5h-1.5zM66.5 208.5h1.5v1.5h-1.5zM62.75 209.75h1.5v1.5h-1.5zM72.75 209.75h2.75v1.5h-2.75zM149 209.75h1.5v1.5h-1.5zM62.75 211h1.5v1.5h-1.5zM75.25 211h1.5v1.5h-1.5zM149 211h1.5v1.5h-1.5zM72.75 212.25h1.5v1.5h-1.5zM130.25 212.25h1.5v1.5h-1.5zM74 213.5h1.5v1.5h-1.5zM124 213.5h1.5v1.5h-1.5zM56.5 214.75h1.5v1.5h-1.5zM67.75 214.75h1.5v1.5h-1.5zM75.25 214.75h2.75v1.5h-2.75zM124 214.75h1.5v1.5h-1.5zM66.5 216h1.5v1.5h-1.5zM124 216h1.5v1.5h-1.5zM140.25 216h1.5v1.5h-1.5zM149 216h1.5v1.5h-1.5zM66.5 217.25h1.5v1.5h-1.5zM140.25 217.25h1.5v1.5h-1.5zM44 218.5h1.5v1.5h-1.5zM80.25 218.5h1.5v1.5h-1.5zM101.5 218.5h2.75v1.5h-2.75zM140.25 218.5h1.5v1.5h-1.5zM42.75 219.75h1.5v1.5h-1.5zM97.75 219.75h1.5v1.5h-1.5zM111.5 219.75h1.5v1.5h-1.5zM59 223.5h1.5v1.5h-1.5zM64 223.5h1.5v1.5h-1.5zM95.25 223.5h1.5v1.5h-1.5zM66.5 224.75h1.5v1.5h-1.5zM87.75 226h1.5v1.5h-1.5zM141.5 226h1.5v1.5h-1.5zM89 227.25h1.5v1.5h-1.5zM101.5 227.25h1.5v1.5h-1.5zM60.25 228.5h1.5v1.5h-1.5zM62.75 228.5h1.5v1.5h-1.5zM72.75 228.5h1.5v1.5h-1.5zM89 228.5h1.5v1.5h-1.5zM117.75 228.5h4v1.5h-4zM126.5 228.5h1.5v1.5h-1.5zM69 229.75h1.5v1.5h-1.5zM89 229.75h1.5v1.5h-1.5zM116.5 229.75h1.5v1.5h-1.5zM124 229.75h1.5v1.5h-1.5zM134 229.75h1.5v1.5h-1.5zM87.75 231h1.5v1.5h-1.5zM112.75 231h1.5v1.5h-1.5zM126.5 231h2.75v1.5h-2.75zM49 232.25h1.5v1.5h-1.5zM87.75 232.25h1.5v1.5h-1.5zM90.25 232.25h1.5v1.5h-1.5zM95.25 232.25h2.75v1.5h-2.75zM99 232.25h1.5v1.5h-1.5zM71.5 233.5h1.5v1.5h-1.5zM91.5 233.5h1.5v1.5h-1.5zM96.5 233.5h1.5v1.5h-1.5zM100.25 233.5h1.5v1.5h-1.5zM47.75 234.75h5.25v1.5h-5.25zM59 234.75h1.5v1.5h-1.5zM72.75 234.75h1.5v1.5h-1.5zM91.5 234.75h1.5v1.5h-1.5zM96.5 234.75h1.5v1.5h-1.5zM129 234.75h1.5v1.5h-1.5zM46.5 236h1.5v1.5h-1.5zM91.5 236h1.5v1.5h-1.5zM130.25 236h1.5v1.5h-1.5zM56.5 237.25h1.5v1.5h-1.5zM64 237.25h1.5v1.5h-1.5zM86.5 237.25h5.25v1.5h-5.25zM65.25 238.5h1.5v1.5h-1.5zM81.5 238.5h4v1.5h-4zM66.5 239.75h2.75v1.5h-2.75zM96.5 239.75h1.5v1.5h-1.5zM104 239.75h1.5v1.5h-1.5zM129 239.75h1.5v1.5h-1.5zM105.25 241h1.5v1.5h-1.5zM135.25 241h1.5v1.5h-1.5zM42.75 242.25h1.5v1.5h-1.5zM107.75 243.5h1.5v1.5h-1.5zM112.75 244.75h1.5v1.5h-1.5zM127.75 244.75h2.75v1.5h-2.75zM140.25 244.75h1.5v1.5h-1.5zM81.5 246h1.5v1.5h-1.5zM116.5 246h1.5v1.5h-1.5zM82.75 247.25h1.5v1.5h-1.5zM105.25 247.25h1.5v1.5h-1.5zM91.5 248.5h1.5v1.5h-1.5zM106.5 248.5h1.5v1.5h-1.5zM62.75 249.75h1.5v1.5h-1.5zM107.75 249.75h1.5v1.5h-1.5zM116.5 249.75h1.5v1.5h-1.5zM132.75 249.75h1.5v1.5h-1.5zM76.5 251h1.5v1.5h-1.5zM112.75 251h1.5v1.5h-1.5zM131.5 251h1.5v1.5h-1.5zM99 252.25h1.5v1.5h-1.5zM101.5 252.25h1.5v1.5h-1.5zM74 253.5h1.5v1.5h-1.5zM89 253.5h1.5v1.5h-1.5zM131.5 253.5h1.5v1.5h-1.5zM140.25 253.5h2.75v1.5h-2.75zM90.25 254.75h1.5v1.5h-1.5zM139 254.75h1.5v1.5h-1.5zM142.75 254.75h1.5v1.5h-1.5zM146.5 256h1.5v1.5h-1.5zM149 256h1.5v1.5h-1.5zM40.25 257.25h1.5v1.5h-1.5zM57.75 257.25h1.5v1.5h-1.5zM84 257.25h1.5v1.5h-1.5zM146.5 257.25h1.5v1.5h-1.5zM59 258.5h2.75v1.5h-2.75zM84 258.5h2.75v1.5h-2.75zM147.75 258.5h1.5v1.5h-1.5zM59 259.75h2.75v1.5h-2.75zM87.75 259.75h1.5v1.5h-1.5zM125.25 259.75h2.75v1.5h-2.75zM129 259.75h4v1.5h-4zM149 259.75h1.5v1.5h-1.5zM51.5 261h1.5v1.5h-1.5zM57.75 261h2.75v1.5h-2.75zM74 261h4v1.5h-4zM122.75 261h1.5v1.5h-1.5zM149 261h1.5v1.5h-1.5zM42.75 262.25h1.5v1.5h-1.5zM50.25 262.25h1.5v1.5h-1.5zM56.5 262.25h1.5v1.5h-1.5zM74 262.25h1.5v1.5h-1.5zM40.25 263.5h1.5v1.5h-1.5zM119 263.5h2.75v1.5h-2.75zM55.25 264.75h1.5v1.5h-1.5zM50.25 266h1.5v1.5h-1.5zM55.25 266h1.5v1.5h-1.5zM75.25 266h2.75v1.5h-2.75zM102.75 266h1.5v1.5h-1.5zM115.25 266h1.5v1.5h-1.5zM149 266h1.5v1.5h-1.5zM50.25 267.25h1.5v1.5h-1.5zM71.5 267.25h5.25v1.5h-5.25zM146.5 267.25h2.75v1.5h-2.75zM57.75 268.5h1.5v1.5h-1.5zM64 268.5h1.5v1.5h-1.5zM39 269.75h1.5v1.5h-1.5zM49 269.75h1.5v1.5h-1.5zM121.5 269.75h1.5v1.5h-1.5zM149 269.75h1.5v1.5h-1.5zM46.5 271h1.5v1.5h-1.5zM147.75 271h1.5v1.5h-1.5zM55.25 272.25h1.5v1.5h-1.5zM124 272.25h1.5v1.5h-1.5zM147.75 272.25h1.5v1.5h-1.5zM44 273.5h1.5v1.5h-1.5zM94 273.5h1.5v1.5h-1.5zM131.5 273.5h1.5v1.5h-1.5zM39 274.75h2.75v1.5h-2.75zM66.5 274.75h1.5v1.5h-1.5zM92.75 274.75h1.5v1.5h-1.5zM140.25 276h1.5v1.5h-1.5zM80.25 277.25h1.5v1.5h-1.5zM117.75 277.25h2.75v1.5h-2.75zM135.25 277.25h1.5v1.5h-1.5zM40.25 278.5h1.5v1.5h-1.5zM50.25 278.5h1.5v1.5h-1.5zM107.75 278.5h1.5v1.5h-1.5zM135.25 278.5h1.5v1.5h-1.5zM77.75 279.75h1.5v1.5h-1.5zM94 279.75h2.75v1.5h-2.75zM131.5 279.75h1.5v1.5h-1.5zM67.75 281h1.5v1.5h-1.5zM75.25 281h1.5v1.5h-1.5zM79 281h2.75v1.5h-2.75zM94 281h2.75v1.5h-2.75zM102.75 281h1.5v1.5h-1.5zM131.5 281h1.5v1.5h-1.5zM136.5 281h2.75v1.5h-2.75zM75.25 282.25h1.5v1.5h-1.5zM131.5 282.25h1.5v1.5h-1.5zM134 282.25h1.5v1.5h-1.5zM140.25 282.25h1.5v1.5h-1.5zM147.75 282.25h1.5v1.5h-1.5zM85.25 283.5h1.5v1.5h-1.5zM89 283.5h1.5v1.5h-1.5zM141.5 283.5h1.5v1.5h-1.5zM144 283.5h2.75v1.5h-2.75zM147.75 283.5h1.5v1.5h-1.5zM39 284.75h1.5v1.5h-1.5zM84 284.75h2.75v1.5h-2.75zM90.25 284.75h2.75v1.5h-2.75z"/><path fill="#50a0b4" d="M84 196h2.75v1.5h-2.75zM81.5 197.25h1.5v1.5h-1.5zM114 197.25h1.5v1.5h-1.5zM120.25 201h1.5v1.5h-1.5zM72.75 202.25h1.5v1.5h-1.5zM117.75 202.25h1.5v1.5h-1.5zM117.75 204.75h1.5v1.5h-1.5zM121.5 204.75h1.5v1.5h-1.5zM122.75 206h1.5v1.5h-1.5zM62.75 207.25h2.75v1.5h-2.75zM64 208.5h1.5v1.5h-1.5zM64 212.25h1.5v1.5h-1.5zM74 212.25h1.5v1.5h-1.5zM65.25 213.5h1.5v1.5h-1.5zM67.75 213.5h1.5v1.5h-1.5zM82.75 213.5h1.5v1.5h-1.5zM66.5 214.75h1.5v1.5h-1.5zM130.25 214.75h1.5v1.5h-1.5zM80.25 216h1.5v1.5h-1.5zM82.75 216h1.5v1.5h-1.5zM130.25 216h1.5v1.5h-1.5zM65.25 217.25h1.5v1.5h-1.5zM80.25 217.25h2.75v1.5h-2.75zM124 217.25h1.5v1.5h-1.5zM42.75 218.5h1.5v1.5h-1.5zM66.5 218.5h1.5v1.5h-1.5zM109 219.75h1.5v1.5h-1.5zM127.75 219.75h1.5v1.5h-1.5zM111.5 221h1.5v1.5h-1.5zM79 222.25h1.5v1.5h-1.5zM66.5 223.5h1.5v1.5h-1.5zM76.5 223.5h2.75v1.5h-2.75zM140.25 226h1.5v1.5h-1.5zM119 227.25h1.5v1.5h-1.5zM116.5 228.5h1.5v1.5h-1.5zM121.5 228.5h1.5v1.5h-1.5zM91.5 229.75h1.5v1.5h-1.5zM112.75 229.75h4v1.5h-4zM51.5 232.25h1.5v1.5h-1.5zM65.25 232.25h1.5v1.5h-1.5zM149 232.25h1.5v1.5h-1.5zM51.5 233.5h2.75v1.5h-2.75zM61.5 233.5h4v1.5h-4zM72.75 233.5h1.5v1.5h-1.5zM99 233.5h1.5v1.5h-1.5zM61.5 234.75h4v1.5h-4zM85.25 234.75h2.75v1.5h-2.75zM97.75 234.75h1.5v1.5h-1.5zM86.5 236h4v1.5h-4zM142.75 236h1.5v1.5h-1.5zM85.25 237.25h1.5v1.5h-1.5zM147.75 237.25h1.5v1.5h-1.5zM42.75 238.5h1.5v1.5h-1.5zM56.5 238.5h1.5v1.5h-1.5zM64 238.5h1.5v1.5h-1.5zM97.75 238.5h1.5v1.5h-1.5zM55.25 239.75h2.75v1.5h-2.75zM102.75 239.75h1.5v1.5h-1.5zM55.25 241h1.5v1.5h-1.5zM57.75 241h1.5v1.5h-1.5zM104 241h1.5v1.5h-1.5zM129 241h1.5v1.5h-1.5zM129 242.25h2.75v1.5h-2.75zM70.25 244.75h1.5v1.5h-1.5zM111.5 244.75h1.5v1.5h-1.5zM106.5 247.25h1.5v1.5h-1.5zM115.25 247.25h1.5v1.5h-1.5zM115.25 248.5h1.5v1.5h-1.5zM57.75 249.75h1.5v1.5h-1.5zM114 249.75h1.5v1.5h-1.5zM76.5 252.25h1.5v1.5h-1.5zM89 252.25h1.5v1.5h-1.5zM96.5 252.25h2.75v1.5h-2.75zM132.75 252.25h1.5v1.5h-1.5zM75.25 253.5h1.5v1.5h-1.5zM80.25 253.5h1.5v1.5h-1.5zM95.25 253.5h1.5v1.5h-1.5zM95.25 254.75h2.75v1.5h-2.75zM74 256h1.5v1.5h-1.5zM90.25 257.25h1.5v1.5h-1.5zM141.5 257.25h1.5v1.5h-1.5zM42.75 258.5h1.5v1.5h-1.5zM89 258.5h1.5v1.5h-1.5zM141.5 258.5h2.75v1.5h-2.75zM149 258.5h1.5v1.5h-1.5zM39 259.75h1.5v1.5h-1.5zM42.75 259.75h1.5v1.5h-1.5zM52.75 259.75h1.5v1.5h-1.5zM57.75 259.75h1.5v1.5h-1.5zM121.5 259.75h2.75v1.5h-2.75zM39 261h1.5v1.5h-1.5zM56.5 261h1.5v1.5h-1.5zM125.25 261h2.75v1.5h-2.75zM129 261h1.5v1.5h-1.5zM119 262.25h1.5v1.5h-1.5zM134 262.25h1.5v1.5h-1.5zM51.5 263.5h1.5v1.5h-1.5zM55.25 263.5h1.5v1.5h-1.5zM51.5 264.75h1.5v1.5h-1.5zM86.5 264.75h1.5v1.5h-1.5zM105.25 264.75h1.5v1.5h-1.5zM86.5 266h1.5v1.5h-1.5zM95.25 266h1.5v1.5h-1.5zM127.75 266h1.5v1.5h-1.5zM135.25 266h1.5v1.5h-1.5zM124 267.25h4v1.5h-4zM65.25 268.5h1.5v1.5h-1.5zM126.5 268.5h2.75v1.5h-2.75zM129 269.75h1.5v1.5h-1.5zM56.5 271h1.5v1.5h-1.5zM122.75 271h1.5v1.5h-1.5zM39 272.25h1.5v1.5h-1.5zM102.75 272.25h1.5v1.5h-1.5zM125.25 272.25h1.5v1.5h-1.5zM129 273.5h1.5v1.5h-1.5zM105.25 274.75h1.5v1.5h-1.5zM139 276h1.5v1.5h-1.5zM142.75 277.25h1.5v1.5h-1.5zM115.25 278.5h2.75v1.5h-2.75zM144 278.5h1.5v1.5h-1.5zM101.5 279.75h1.5v1.5h-1.5zM106.5 279.75h1.5v1.5h-1.5zM136.5 279.75h1.5v1.5h-1.5zM104 281h1.5v1.5h-1.5zM70.25 282.25h1.5v1.5h-1.5zM39 283.5h1.5v1.5h-1.5zM149 283.5h1.5v1.5h-1.5zM149 284.75h1.5v1.5h-1.5z"/><path fill="#78b478" d="M96.5 196h1.5v1.5h-1.5zM54 197.25h1.5v1.5h-1.5zM147.75 199.75h1.5v1.5h-1.5zM69 206h1.5v1.5h-1.5zM59 209.75h1.5v1.5h-1.5zM40.25 211h1.5v1.5h-1.5zM59 211h1.5v1.5h-1.5zM46.5 212.25h1.5v1.5h-1.5zM132.75 213.5h1.5v1.5h-1.5zM137.75 219.75h1.5v1.5h-1.5zM62.75 224.75h1.5v1.5h-1.5zM54 236h1.5v1.5h-1.5zM54 237.25h1.5v1.5h-1.5zM87.75 239.75h2.75v1.5h-2.75zM86.5 241h1.5v1.5h-1.5zM72.75 246h1.5v1.5h-1.5zM142.75 247.25h1.5v1.5h-1.5zM72.75 248.5h2.75v1.5h-2.75zM146.5 248.5h2.75v1.5h-2.75zM45.25 259.75h1.5v1.5h-1.5zM85.25 262.25h1.5v1.5h-1.5zM76.5 283.5h1.5v1.5h-1.5z"/><path fill="#788c8c" d="M97.75 196h2.75v1.5h-2.75zM51.5 199.75h1.5v1.5h-1.5zM51.5 201h1.5v1.5h-1.5zM101.5 202.25h1.5v1.5h-1.5zM52.75 203.5h1.5v1.5h-1.5zM137.75 204.75h1.5v1.5h-1.5zM140.25 206h1.5v1.5h-1.5zM100.25 208.5h1.5v1.5h-1.5zM101.5 209.75h1.5v1.5h-1.5zM57.75 211h1.5v1.5h-1.5zM55.25 213.5h1.5v1.5h-1.5zM87.75 216h1.5v1.5h-1.5zM75.25 217.25h1.5v1.5h-1.5zM92.75 217.25h1.5v1.5h-1.5zM91.5 218.5h1.5v1.5h-1.5zM139 219.75h1.5v1.5h-1.5zM140.25 221h2.75v1.5h-2.75zM42.75 223.5h1.5v1.5h-1.5zM42.75 224.75h1.5v1.5h-1.5zM65.25 226h1.5v1.5h-1.5zM104 231h1.5v1.5h-1.5zM104 232.25h2.75v1.5h-2.75zM146.5 239.75h4v1.5h-4zM87.75 241h4v1.5h-4zM147.75 241h1.5v1.5h-1.5zM87.75 242.25h4v1.5h-4zM145.25 246h5.25v1.5h-5.25zM145.25 247.25h2.75v1.5h-2.75zM47.75 256h1.5v1.5h-1.5zM45.25 258.5h1.5v1.5h-1.5zM87.75 261h1.5v1.5h-1.5zM91.5 261h1.5v1.5h-1.5zM104 267.25h1.5v1.5h-1.5zM62.75 274.75h2.75v1.5h-2.75zM57.75 282.25h1.5v1.5h-1.5zM99 283.5h1.5v1.5h-1.5zM74 284.75h1.5v1.5h-1.5z"/><path fill="#8cb478" d="M100.25 196h1.5v1.5h-1.5zM131.5 197.25h1.5v1.5h-1.5zM140.25 197.25h1.5v1.5h-1.5zM149 197.25h1.5v1.5h-1.5zM100.25 201h1.5v1.5h-1.5zM57.75 202.25h1.5v1.5h-1.5zM105.25 203.5h1.5v1.5h-1.5zM140.25 203.5h1.5v1.5h-1.5zM105.25 204.75h1.5v1.5h-1.5zM141.5 204.75h1.5v1.5h-1.5zM45.25 206h1.5v1.5h-1.5zM45.25 207.25h1.5v1.5h-1.5zM92.75 207.25h1.5v1.5h-1.5zM42.75 208.5h1.5v1.5h-1.5zM47.75 208.5h1.5v1.5h-1.5zM94 208.5h1.5v1.5h-1.5zM39 209.75h1.5v1.5h-1.5zM45.25 209.75h2.75v1.5h-2.75zM46.5 211h1.5v1.5h-1.5zM101.5 211h1.5v1.5h-1.5zM42.75 213.5h1.5v1.5h-1.5zM45.25 213.5h1.5v1.5h-1.5zM109 218.5h1.5v1.5h-1.5zM74 221h1.5v1.5h-1.5zM146.5 222.25h1.5v1.5h-1.5zM137.75 223.5h1.5v1.5h-1.5zM145.25 223.5h1.5v1.5h-1.5zM141.5 224.75h1.5v1.5h-1.5zM102.75 231h1.5v1.5h-1.5zM106.5 233.5h1.5v1.5h-1.5zM42.75 234.75h1.5v1.5h-1.5zM105.25 234.75h1.5v1.5h-1.5zM102.75 236h2.75v1.5h-2.75zM90.25 239.75h1.5v1.5h-1.5zM86.5 242.25h1.5v1.5h-1.5zM122.75 242.25h1.5v1.5h-1.5zM146.5 242.25h1.5v1.5h-1.5zM40.25 243.5h2.75v1.5h-2.75zM90.25 243.5h1.5v1.5h-1.5zM40.25 244.75h2.75v1.5h-2.75zM144 246h1.5v1.5h-1.5zM44 249.75h1.5v1.5h-1.5zM70.25 252.25h1.5v1.5h-1.5zM47.75 257.25h1.5v1.5h-1.5zM46.5 259.75h1.5v1.5h-1.5zM49 259.75h1.5v1.5h-1.5zM86.5 261h1.5v1.5h-1.5zM91.5 262.25h1.5v1.5h-1.5zM121.5 264.75h1.5v1.5h-1.5zM110.25 268.5h1.5v1.5h-1.5zM137.75 268.5h1.5v1.5h-1.5zM137.75 272.25h1.5v1.5h-1.5zM55.25 277.25h1.5v1.5h-1.5zM60.25 277.25h1.5v1.5h-1.5zM55.25 278.5h1.5v1.5h-1.5zM144 279.75h1.5v1.5h-1.5zM55.25 281h1.5v1.5h-1.5zM39 282.25h1.5v1.5h-1.5zM59 282.25h1.5v1.5h-1.5zM142.75 282.25h2.75v1.5h-2.75z"/><path fill="#50b4b4" d="M107.75 196h1.5v1.5h-1.5zM82.75 197.25h1.5v1.5h-1.5zM86.5 197.25h1.5v1.5h-1.5zM90.25 197.25h2.75v1.5h-2.75zM106.5 197.25h1.5v1.5h-1.5zM115.25 197.25h1.5v1.5h-1.5zM87.75 198.5h5.25v1.5h-5.25zM107.75 198.5h1.5v1.5h-1.5zM111.5 198.5h1.5v1.5h-1.5zM76.5 199.75h1.5v1.5h-1.5zM89 199.75h4v1.5h-4zM74 201h2.75v1.5h-2.75zM82.75 201h2.75v1.5h-2.75zM90.25 201h1.5v1.5h-1.5zM81.5 202.25h4v1.5h-4zM90.25 202.25h1.5v1.5h-1.5zM132.75 202.25h2.75v1.5h-2.75zM144 202.25h1.5v1.5h-1.5zM81.5 203.5h4v1.5h-4zM132.75 203.5h2.75v1.5h-2.75zM81.5 204.75h2.75v1.5h-2.75zM119 204.75h2.75v1.5h-2.75zM142.75 204.75h1.5v1.5h-1.5zM119 206h1.5v1.5h-1.5zM142.75 206h1.5v1.5h-1.5zM117.75 207.25h1.5v1.5h-1.5zM124 207.25h1.5v1.5h-1.5zM142.75 207.25h1.5v1.5h-1.5zM74 208.5h1.5v1.5h-1.5zM117.75 208.5h1.5v1.5h-1.5zM125.25 208.5h1.5v1.5h-1.5zM142.75 208.5h1.5v1.5h-1.5zM75.25 209.75h1.5v1.5h-1.5zM117.75 209.75h1.5v1.5h-1.5zM125.25 209.75h1.5v1.5h-1.5zM144 209.75h1.5v1.5h-1.5zM147.75 209.75h1.5v1.5h-1.5zM76.5 211h1.5v1.5h-1.5zM117.75 211h1.5v1.5h-1.5zM125.25 211h1.5v1.5h-1.5zM146.5 211h1.5v1.5h-1.5zM62.75 212.25h1.5v1.5h-1.5zM76.5 212.25h2.75v1.5h-2.75zM84 212.25h6.5v1.5h-6.5zM117.75 212.25h1.5v1.5h-1.5zM122.75 212.25h5.25v1.5h-5.25zM129 212.25h1.5v1.5h-1.5zM61.5 213.5h1.5v1.5h-1.5zM76.5 213.5h4v1.5h-4zM119 213.5h2.75v1.5h-2.75zM125.25 213.5h1.5v1.5h-1.5zM59 214.75h2.75v1.5h-2.75zM77.75 214.75h2.75v1.5h-2.75zM125.25 214.75h1.5v1.5h-1.5zM56.5 216h2.75v1.5h-2.75zM65.25 216h1.5v1.5h-1.5zM79 216h1.5v1.5h-1.5zM55.25 217.25h2.75v1.5h-2.75zM130.25 217.25h1.5v1.5h-1.5zM54 218.5h1.5v1.5h-1.5zM130.25 218.5h1.5v1.5h-1.5zM100.25 219.75h4v1.5h-4zM107.75 219.75h1.5v1.5h-1.5zM122.75 219.75h1.5v1.5h-1.5zM129 219.75h1.5v1.5h-1.5zM52.75 221h1.5v1.5h-1.5zM96.5 221h4v1.5h-4zM112.75 221h4v1.5h-4zM121.5 221h1.5v1.5h-1.5zM60.25 222.25h1.5v1.5h-1.5zM96.5 222.25h1.5v1.5h-1.5zM116.5 222.25h1.5v1.5h-1.5zM120.25 222.25h1.5v1.5h-1.5zM54 223.5h1.5v1.5h-1.5zM57.75 223.5h1.5v1.5h-1.5zM79 223.5h5.25v1.5h-5.25zM96.5 223.5h1.5v1.5h-1.5zM117.75 223.5h2.75v1.5h-2.75zM127.75 223.5h1.5v1.5h-1.5zM54 224.75h4v1.5h-4zM76.5 224.75h4v1.5h-4zM81.5 224.75h5.25v1.5h-5.25zM96.5 224.75h1.5v1.5h-1.5zM117.75 224.75h1.5v1.5h-1.5zM55.25 226h2.75v1.5h-2.75zM76.5 226h1.5v1.5h-1.5zM86.5 226h1.5v1.5h-1.5zM96.5 226h5.25v1.5h-5.25zM116.5 226h2.75v1.5h-2.75zM132.75 226h1.5v1.5h-1.5zM54 227.25h4v1.5h-4zM81.5 227.25h1.5v1.5h-1.5zM87.75 227.25h1.5v1.5h-1.5zM99 227.25h1.5v1.5h-1.5zM116.5 227.25h2.75v1.5h-2.75zM141.5 227.25h1.5v1.5h-1.5zM52.75 228.5h1.5v1.5h-1.5zM57.75 228.5h1.5v1.5h-1.5zM74 228.5h1.5v1.5h-1.5zM84 228.5h5.25v1.5h-5.25zM131.5 228.5h1.5v1.5h-1.5zM142.75 228.5h1.5v1.5h-1.5zM51.5 229.75h1.5v1.5h-1.5zM60.25 229.75h1.5v1.5h-1.5zM65.25 229.75h2.75v1.5h-2.75zM84 229.75h5.25v1.5h-5.25zM131.5 229.75h2.75v1.5h-2.75zM145.25 229.75h1.5v1.5h-1.5zM50.25 231h1.5v1.5h-1.5zM66.5 231h1.5v1.5h-1.5zM84 231h2.75v1.5h-2.75zM135.25 231h1.5v1.5h-1.5zM147.75 231h1.5v1.5h-1.5zM50.25 232.25h1.5v1.5h-1.5zM59 232.25h1.5v1.5h-1.5zM82.75 232.25h2.75v1.5h-2.75zM127.75 232.25h1.5v1.5h-1.5zM136.5 232.25h1.5v1.5h-1.5zM54 233.5h7.75v1.5h-7.75zM84 233.5h1.5v1.5h-1.5zM87.75 233.5h2.75v1.5h-2.75zM97.75 233.5h1.5v1.5h-1.5zM111.5 233.5h2.75v1.5h-2.75zM139 233.5h1.5v1.5h-1.5zM60.25 234.75h1.5v1.5h-1.5zM90.25 234.75h1.5v1.5h-1.5zM110.25 234.75h4v1.5h-4zM140.25 234.75h1.5v1.5h-1.5zM60.25 236h4v1.5h-4zM90.25 236h1.5v1.5h-1.5zM109 236h4v1.5h-4zM141.5 236h1.5v1.5h-1.5zM45.25 237.25h4v1.5h-4zM57.75 237.25h6.5v1.5h-6.5zM72.75 237.25h1.5v1.5h-1.5zM109 237.25h2.75v1.5h-2.75zM130.25 237.25h6.5v1.5h-6.5zM44 238.5h1.5v1.5h-1.5zM47.75 238.5h1.5v1.5h-1.5zM57.75 238.5h1.5v1.5h-1.5zM61.5 238.5h2.75v1.5h-2.75zM72.75 238.5h1.5v1.5h-1.5zM130.25 238.5h1.5v1.5h-1.5zM135.25 238.5h2.75v1.5h-2.75zM42.75 239.75h1.5v1.5h-1.5zM49 239.75h6.5v1.5h-6.5zM71.5 239.75h2.75v1.5h-2.75zM97.75 239.75h1.5v1.5h-1.5zM42.75 241h1.5v1.5h-1.5zM72.75 241h2.75v1.5h-2.75zM136.5 241h1.5v1.5h-1.5zM72.75 242.25h2.75v1.5h-2.75zM80.25 242.25h1.5v1.5h-1.5zM95.25 242.25h1.5v1.5h-1.5zM105.25 242.25h1.5v1.5h-1.5zM137.75 242.25h1.5v1.5h-1.5zM71.5 243.5h1.5v1.5h-1.5zM75.25 243.5h1.5v1.5h-1.5zM80.25 243.5h1.5v1.5h-1.5zM95.25 243.5h1.5v1.5h-1.5zM106.5 243.5h1.5v1.5h-1.5zM130.25 243.5h2.75v1.5h-2.75zM137.75 243.5h2.75v1.5h-2.75zM76.5 244.75h4v1.5h-4zM96.5 244.75h1.5v1.5h-1.5zM130.25 244.75h2.75v1.5h-2.75zM137.75 244.75h2.75v1.5h-2.75zM69 246h1.5v1.5h-1.5zM77.75 246h1.5v1.5h-1.5zM97.75 246h2.75v1.5h-2.75zM102.75 246h4v1.5h-4zM129 246h4v1.5h-4zM135.25 246h5.25v1.5h-5.25zM65.25 247.25h2.75v1.5h-2.75zM77.75 247.25h1.5v1.5h-1.5zM101.5 247.25h2.75v1.5h-2.75zM127.75 247.25h2.75v1.5h-2.75zM131.5 247.25h4v1.5h-4zM62.75 248.5h1.5v1.5h-1.5zM126.5 248.5h1.5v1.5h-1.5zM131.5 248.5h1.5v1.5h-1.5zM124 249.75h1.5v1.5h-1.5zM130.25 249.75h2.75v1.5h-2.75zM40.25 251h1.5v1.5h-1.5zM61.5 251h1.5v1.5h-1.5zM122.75 251h1.5v1.5h-1.5zM130.25 251h1.5v1.5h-1.5zM39 252.25h1.5v1.5h-1.5zM119 252.25h2.75v1.5h-2.75zM129 252.25h1.5v1.5h-1.5zM60.25 253.5h1.5v1.5h-1.5zM101.5 253.5h2.75v1.5h-2.75zM116.5 253.5h1.5v1.5h-1.5zM127.75 253.5h1.5v1.5h-1.5zM39 254.75h1.5v1.5h-1.5zM51.5 254.75h1.5v1.5h-1.5zM57.75 254.75h2.75v1.5h-2.75zM104 254.75h1.5v1.5h-1.5zM116.5 254.75h1.5v1.5h-1.5zM126.5 254.75h1.5v1.5h-1.5zM140.25 254.75h2.75v1.5h-2.75zM39 256h1.5v1.5h-1.5zM52.75 256h1.5v1.5h-1.5zM57.75 256h1.5v1.5h-1.5zM79 256h1.5v1.5h-1.5zM86.5 256h5.25v1.5h-5.25zM97.75 256h1.5v1.5h-1.5zM105.25 256h1.5v1.5h-1.5zM115.25 256h1.5v1.5h-1.5zM125.25 256h1.5v1.5h-1.5zM137.75 256h5.25v1.5h-5.25zM39 257.25h1.5v1.5h-1.5zM52.75 257.25h1.5v1.5h-1.5zM79 257.25h1.5v1.5h-1.5zM85.25 257.25h5.25v1.5h-5.25zM106.5 257.25h1.5v1.5h-1.5zM115.25 257.25h1.5v1.5h-1.5zM136.5 257.25h2.75v1.5h-2.75zM39 258.5h1.5v1.5h-1.5zM52.75 258.5h1.5v1.5h-1.5zM57.75 258.5h1.5v1.5h-1.5zM74 258.5h1.5v1.5h-1.5zM77.75 258.5h1.5v1.5h-1.5zM86.5 258.5h2.75v1.5h-2.75zM106.5 258.5h1.5v1.5h-1.5zM114 258.5h2.75v1.5h-2.75zM124 258.5h1.5v1.5h-1.5zM137.75 258.5h2.75v1.5h-2.75zM41.5 259.75h1.5v1.5h-1.5zM74 259.75h4v1.5h-4zM107.75 259.75h1.5v1.5h-1.5zM114 259.75h1.5v1.5h-1.5zM124 259.75h1.5v1.5h-1.5zM139 259.75h1.5v1.5h-1.5zM144 259.75h1.5v1.5h-1.5zM41.5 261h2.75v1.5h-2.75zM106.5 261h1.5v1.5h-1.5zM114 261h1.5v1.5h-1.5zM120.25 261h2.75v1.5h-2.75zM145.25 261h1.5v1.5h-1.5zM39 262.25h4v1.5h-4zM51.5 262.25h1.5v1.5h-1.5zM106.5 262.25h1.5v1.5h-1.5zM120.25 262.25h2.75v1.5h-2.75zM146.5 262.25h1.5v1.5h-1.5zM39 263.5h1.5v1.5h-1.5zM116.5 263.5h2.75v1.5h-2.75zM140.25 263.5h1.5v1.5h-1.5zM146.5 263.5h4v1.5h-4zM90.25 264.75h1.5v1.5h-1.5zM140.25 264.75h1.5v1.5h-1.5zM147.75 264.75h2.75v1.5h-2.75zM51.5 266h1.5v1.5h-1.5zM92.75 266h2.75v1.5h-2.75zM144 266h5.25v1.5h-5.25zM51.5 267.25h1.5v1.5h-1.5zM67.75 267.25h4v1.5h-4zM86.5 267.25h2.75v1.5h-2.75zM51.5 268.5h1.5v1.5h-1.5zM74 268.5h2.75v1.5h-2.75zM87.75 268.5h2.75v1.5h-2.75zM50.25 269.75h1.5v1.5h-1.5zM57.75 269.75h1.5v1.5h-1.5zM65.25 269.75h1.5v1.5h-1.5zM76.5 269.75h1.5v1.5h-1.5zM90.25 269.75h2.75v1.5h-2.75zM47.75 271h1.5v1.5h-1.5zM77.75 271h1.5v1.5h-1.5zM91.5 271h5.25v1.5h-5.25zM97.75 271h2.75v1.5h-2.75zM45.25 272.25h1.5v1.5h-1.5zM54 272.25h1.5v1.5h-1.5zM77.75 272.25h1.5v1.5h-1.5zM95.25 272.25h1.5v1.5h-1.5zM66.5 273.5h1.5v1.5h-1.5zM76.5 273.5h1.5v1.5h-1.5zM95.25 273.5h1.5v1.5h-1.5zM105.25 273.5h1.5v1.5h-1.5zM125.25 273.5h4v1.5h-4zM44 274.75h1.5v1.5h-1.5zM76.5 274.75h1.5v1.5h-1.5zM91.5 274.75h1.5v1.5h-1.5zM95.25 274.75h1.5v1.5h-1.5zM124 274.75h4v1.5h-4zM42.75 276h1.5v1.5h-1.5zM51.5 276h1.5v1.5h-1.5zM76.5 276h2.75v1.5h-2.75zM90.25 276h5.25v1.5h-5.25zM106.5 276h1.5v1.5h-1.5zM122.75 276h1.5v1.5h-1.5zM127.75 276h1.5v1.5h-1.5zM41.5 277.25h2.75v1.5h-2.75zM75.25 277.25h5.25v1.5h-5.25zM90.25 277.25h2.75v1.5h-2.75zM95.25 277.25h1.5v1.5h-1.5zM121.5 277.25h1.5v1.5h-1.5zM127.75 277.25h1.5v1.5h-1.5zM144 277.25h1.5v1.5h-1.5zM41.5 278.5h9v1.5h-9zM75.25 278.5h6.5v1.5h-6.5zM96.5 278.5h1.5v1.5h-1.5zM114 278.5h1.5v1.5h-1.5zM117.75 278.5h2.75v1.5h-2.75zM121.5 278.5h1.5v1.5h-1.5zM127.75 278.5h1.5v1.5h-1.5zM75.25 279.75h1.5v1.5h-1.5zM79 279.75h2.75v1.5h-2.75zM97.75 279.75h4v1.5h-4zM111.5 279.75h1.5v1.5h-1.5zM117.75 279.75h1.5v1.5h-1.5zM127.75 279.75h1.5v1.5h-1.5zM132.75 279.75h2.75v1.5h-2.75zM105.25 281h1.5v1.5h-1.5zM111.5 281h1.5v1.5h-1.5zM127.75 281h1.5v1.5h-1.5zM132.75 281h2.75v1.5h-2.75zM110.25 282.25h1.5v1.5h-1.5zM126.5 282.25h1.5v1.5h-1.5zM132.75 282.25h1.5v1.5h-1.5zM110.25 283.5h1.5v1.5h-1.5zM126.5 283.5h1.5v1.5h-1.5zM109 284.75h1.5v1.5h-1.5zM125.25 284.75h1.5v1.5h-1.5z"/><path fill="#3ca0c8" d="M109 196h5.25v1.5h-5.25zM120.25 196h1.5v1.5h-1.5zM109 197.25h4v1.5h-4zM79 198.5h1.5v1.5h-1.5zM77.75 199.75h1.5v1.5h-1.5zM81.5 199.75h1.5v1.5h-1.5zM85.25 199.75h2.75v1.5h-2.75zM77.75 201h1.5v1.5h-1.5zM87.75 201h1.5v1.5h-1.5zM75.25 202.25h6.5v1.5h-6.5zM86.5 202.25h4v1.5h-4zM79 203.5h1.5v1.5h-1.5zM85.25 203.5h1.5v1.5h-1.5zM145.25 203.5h1.5v1.5h-1.5zM79 204.75h1.5v1.5h-1.5zM144 204.75h1.5v1.5h-1.5zM84 206h1.5v1.5h-1.5zM80.25 207.25h4v1.5h-4zM90.25 207.25h1.5v1.5h-1.5zM120.25 207.25h4v1.5h-4zM144 207.25h1.5v1.5h-1.5zM76.5 208.5h1.5v1.5h-1.5zM81.5 208.5h2.75v1.5h-2.75zM119 208.5h1.5v1.5h-1.5zM122.75 208.5h1.5v1.5h-1.5zM145.25 208.5h4v1.5h-4zM77.75 209.75h1.5v1.5h-1.5zM81.5 209.75h1.5v1.5h-1.5zM89 209.75h1.5v1.5h-1.5zM119 209.75h1.5v1.5h-1.5zM122.75 209.75h1.5v1.5h-1.5zM79 211h9v1.5h-9zM120.25 211h4v1.5h-4zM81.5 212.25h1.5v1.5h-1.5zM127.75 213.5h1.5v1.5h-1.5zM61.5 214.75h2.75v1.5h-2.75zM126.5 214.75h4v1.5h-4zM60.25 216h1.5v1.5h-1.5zM64 216h1.5v1.5h-1.5zM126.5 216h4v1.5h-4zM59 217.25h2.75v1.5h-2.75zM125.25 217.25h5.25v1.5h-5.25zM56.5 218.5h4v1.5h-4zM126.5 218.5h4v1.5h-4zM56.5 219.75h4v1.5h-4zM54 221h1.5v1.5h-1.5zM57.75 221h1.5v1.5h-1.5zM54 222.25h1.5v1.5h-1.5zM57.75 222.25h1.5v1.5h-1.5zM100.25 222.25h1.5v1.5h-1.5zM55.25 223.5h1.5v1.5h-1.5zM99 223.5h2.75v1.5h-2.75zM112.75 223.5h1.5v1.5h-1.5zM115.25 223.5h1.5v1.5h-1.5zM112.75 224.75h1.5v1.5h-1.5zM115.25 224.75h1.5v1.5h-1.5zM80.25 226h1.5v1.5h-1.5zM114 226h1.5v1.5h-1.5zM77.75 227.25h4v1.5h-4zM112.75 227.25h1.5v1.5h-1.5zM76.5 228.5h1.5v1.5h-1.5zM80.25 228.5h1.5v1.5h-1.5zM140.25 228.5h1.5v1.5h-1.5zM54 229.75h4v1.5h-4zM75.25 229.75h1.5v1.5h-1.5zM81.5 229.75h1.5v1.5h-1.5zM140.25 229.75h4v1.5h-4zM52.75 231h1.5v1.5h-1.5zM56.5 231h1.5v1.5h-1.5zM62.75 231h1.5v1.5h-1.5zM81.5 231h1.5v1.5h-1.5zM139 231h4v1.5h-4zM145.25 231h1.5v1.5h-1.5zM52.75 232.25h4v1.5h-4zM62.75 232.25h1.5v1.5h-1.5zM140.25 232.25h2.75v1.5h-2.75zM146.5 232.25h1.5v1.5h-1.5zM79 233.5h4v1.5h-4zM141.5 233.5h1.5v1.5h-1.5zM146.5 233.5h1.5v1.5h-1.5zM142.75 234.75h1.5v1.5h-1.5zM75.25 237.25h1.5v1.5h-1.5zM131.5 239.75h4v1.5h-4zM61.5 241h4v1.5h-4zM76.5 241h1.5v1.5h-1.5zM99 241h2.75v1.5h-2.75zM131.5 241h2.75v1.5h-2.75zM49 242.25h1.5v1.5h-1.5zM61.5 242.25h1.5v1.5h-1.5zM76.5 242.25h4v1.5h-4zM132.75 242.25h4v1.5h-4zM60.25 243.5h1.5v1.5h-1.5zM102.75 243.5h2.75v1.5h-2.75zM134 243.5h1.5v1.5h-1.5zM69 244.75h1.5v1.5h-1.5zM99 244.75h4v1.5h-4zM65.25 246h2.75v1.5h-2.75zM62.75 247.25h1.5v1.5h-1.5zM61.5 248.5h1.5v1.5h-1.5zM126.5 249.75h2.75v1.5h-2.75zM42.75 251h2.75v1.5h-2.75zM60.25 251h1.5v1.5h-1.5zM77.75 251h1.5v1.5h-1.5zM125.25 251h1.5v1.5h-1.5zM127.75 251h1.5v1.5h-1.5zM41.5 252.25h5.25v1.5h-5.25zM59 252.25h1.5v1.5h-1.5zM122.75 252.25h2.75v1.5h-2.75zM40.25 253.5h5.25v1.5h-5.25zM52.75 253.5h1.5v1.5h-1.5zM56.5 253.5h1.5v1.5h-1.5zM77.75 253.5h2.75v1.5h-2.75zM119 253.5h2.75v1.5h-2.75zM41.5 254.75h2.75v1.5h-2.75zM77.75 254.75h1.5v1.5h-1.5zM99 254.75h4v1.5h-4zM117.75 254.75h1.5v1.5h-1.5zM125.25 254.75h1.5v1.5h-1.5zM76.5 256h2.75v1.5h-2.75zM99 256h1.5v1.5h-1.5zM117.75 256h1.5v1.5h-1.5zM124 256h1.5v1.5h-1.5zM75.25 257.25h2.75v1.5h-2.75zM102.75 257.25h2.75v1.5h-2.75zM117.75 257.25h2.75v1.5h-2.75zM75.25 258.5h2.75v1.5h-2.75zM102.75 258.5h1.5v1.5h-1.5zM105.25 258.5h1.5v1.5h-1.5zM105.25 259.75h1.5v1.5h-1.5zM116.5 259.75h2.75v1.5h-2.75zM105.25 261h1.5v1.5h-1.5zM117.75 261h1.5v1.5h-1.5zM141.5 261h2.75v1.5h-2.75zM129 262.25h1.5v1.5h-1.5zM141.5 262.25h1.5v1.5h-1.5zM144 262.25h1.5v1.5h-1.5zM141.5 263.5h1.5v1.5h-1.5zM144 263.5h2.75v1.5h-2.75zM89 264.75h1.5v1.5h-1.5zM141.5 264.75h4v1.5h-4zM87.75 266h2.75v1.5h-2.75zM91.5 267.25h2.75v1.5h-2.75zM67.75 268.5h4v1.5h-4zM92.75 268.5h4v1.5h-4zM52.75 269.75h1.5v1.5h-1.5zM66.5 269.75h1.5v1.5h-1.5zM72.75 269.75h1.5v1.5h-1.5zM50.25 271h1.5v1.5h-1.5zM52.75 271h1.5v1.5h-1.5zM66.5 271h1.5v1.5h-1.5zM74 271h1.5v1.5h-1.5zM47.75 272.25h5.25v1.5h-5.25zM75.25 272.25h1.5v1.5h-1.5zM97.75 272.25h4v1.5h-4zM46.5 273.5h1.5v1.5h-1.5zM51.5 273.5h1.5v1.5h-1.5zM67.75 273.5h1.5v1.5h-1.5zM75.25 273.5h1.5v1.5h-1.5zM96.5 273.5h1.5v1.5h-1.5zM69 274.75h1.5v1.5h-1.5zM74 274.75h1.5v1.5h-1.5zM45.25 276h1.5v1.5h-1.5zM50.25 276h1.5v1.5h-1.5zM74 276h1.5v1.5h-1.5zM46.5 277.25h4v1.5h-4zM72.75 277.25h1.5v1.5h-1.5zM96.5 277.25h1.5v1.5h-1.5zM124 277.25h2.75v1.5h-2.75zM74 278.5h1.5v1.5h-1.5zM99 278.5h2.75v1.5h-2.75zM124 278.5h2.75v1.5h-2.75zM74 279.75h1.5v1.5h-1.5zM114 279.75h2.75v1.5h-2.75zM120.25 279.75h2.75v1.5h-2.75zM124 279.75h2.75v1.5h-2.75zM112.75 281h1.5v1.5h-1.5zM115.25 281h1.5v1.5h-1.5zM119 281h2.75v1.5h-2.75zM124 281h2.75v1.5h-2.75zM112.75 282.25h1.5v1.5h-1.5zM115.25 282.25h1.5v1.5h-1.5zM117.75 282.25h2.75v1.5h-2.75zM124 282.25h1.5v1.5h-1.5zM112.75 283.5h1.5v1.5h-1.5zM116.5 283.5h4v1.5h-4zM124 283.5h1.5v1.5h-1.5zM111.5 284.75h1.5v1.5h-1.5zM116.5 284.75h5.25v1.5h-5.25zM124 284.75h1.5v1.5h-1.5z"/><path fill="#5078c8" d="M114 196h1.5v1.5h-1.5zM122.75 199.75h4v1.5h-4zM121.5 201h2.75v1.5h-2.75zM74 203.5h1.5v1.5h-1.5zM76.5 206h1.5v1.5h-1.5zM149 206h1.5v1.5h-1.5zM75.25 207.25h1.5v1.5h-1.5zM92.75 209.75h1.5v1.5h-1.5zM91.5 211h2.75v1.5h-2.75zM105.25 222.25h1.5v1.5h-1.5zM106.5 223.5h1.5v1.5h-1.5zM107.75 228.5h4v1.5h-4zM106.5 229.75h1.5v1.5h-1.5zM76.5 234.75h4v1.5h-4zM145.25 234.75h1.5v1.5h-1.5zM79 236h2.75v1.5h-2.75zM80.25 237.25h1.5v1.5h-1.5zM49 243.5h1.5v1.5h-1.5zM52.75 243.5h1.5v1.5h-1.5zM49 244.75h5.25v1.5h-5.25zM45.25 246h5.25v1.5h-5.25zM52.75 246h2.75v1.5h-2.75zM50.25 249.75h1.5v1.5h-1.5zM46.5 251h1.5v1.5h-1.5zM92.75 252.25h1.5v1.5h-1.5zM92.75 253.5h2.75v1.5h-2.75zM92.75 254.75h1.5v1.5h-1.5zM121.5 257.25h1.5v1.5h-1.5zM99 262.25h1.5v1.5h-1.5zM87.75 263.5h1.5v1.5h-1.5zM99 263.5h1.5v1.5h-1.5zM99 264.75h1.5v1.5h-1.5zM99 266h1.5v1.5h-1.5zM96.5 267.25h1.5v1.5h-1.5zM131.5 271h4v1.5h-4zM102.75 276h1.5v1.5h-1.5zM104 277.25h2.75v1.5h-2.75zM102.75 278.5h2.75v1.5h-2.75zM114 284.75h1.5v1.5h-1.5z"/><path fill="#508cc8" d="M115.25 196h1.5v1.5h-1.5zM85.25 197.25h1.5v1.5h-1.5zM116.5 202.25h1.5v1.5h-1.5zM115.25 203.5h2.75v1.5h-2.75zM114 204.75h4v1.5h-4zM149 207.25h1.5v1.5h-1.5zM91.5 208.5h1.5v1.5h-1.5zM90.25 209.75h2.75v1.5h-2.75zM81.5 213.5h1.5v1.5h-1.5zM40.25 214.75h2.75v1.5h-2.75zM81.5 214.75h1.5v1.5h-1.5zM39 216h4v1.5h-4zM81.5 216h1.5v1.5h-1.5zM39 217.25h5.25v1.5h-5.25zM40.25 218.5h2.75v1.5h-2.75zM125.25 218.5h1.5v1.5h-1.5zM66.5 219.75h1.5v1.5h-1.5zM126.5 219.75h1.5v1.5h-1.5zM62.75 222.25h1.5v1.5h-1.5zM104 222.25h1.5v1.5h-1.5zM107.75 222.25h2.75v1.5h-2.75zM105.25 223.5h1.5v1.5h-1.5zM107.75 223.5h2.75v1.5h-2.75zM120.25 223.5h2.75v1.5h-2.75zM126.5 223.5h1.5v1.5h-1.5zM105.25 224.75h5.25v1.5h-5.25zM120.25 224.75h7.75v1.5h-7.75zM104 226h6.5v1.5h-6.5zM119 226h9v1.5h-9zM137.75 226h2.75v1.5h-2.75zM102.75 227.25h9v1.5h-9zM120.25 227.25h7.75v1.5h-7.75zM137.75 227.25h4v1.5h-4zM104 228.5h4v1.5h-4zM111.5 228.5h1.5v1.5h-1.5zM114 228.5h2.75v1.5h-2.75zM122.75 228.5h4v1.5h-4zM72.75 229.75h2.75v1.5h-2.75zM92.75 229.75h1.5v1.5h-1.5zM105.25 229.75h1.5v1.5h-1.5zM136.5 229.75h1.5v1.5h-1.5zM72.75 231h2.75v1.5h-2.75zM92.75 231h2.75v1.5h-2.75zM74 232.25h1.5v1.5h-1.5zM74 233.5h1.5v1.5h-1.5zM75.25 234.75h1.5v1.5h-1.5zM80.25 234.75h4v1.5h-4zM99 234.75h2.75v1.5h-2.75zM75.25 236h1.5v1.5h-1.5zM81.5 236h5.25v1.5h-5.25zM97.75 236h4v1.5h-4zM81.5 237.25h4v1.5h-4zM97.75 237.25h4v1.5h-4zM99 238.5h4v1.5h-4zM100.25 239.75h2.75v1.5h-2.75zM47.75 241h1.5v1.5h-1.5zM77.75 241h1.5v1.5h-1.5zM101.5 241h2.75v1.5h-2.75zM54 242.25h1.5v1.5h-1.5zM69 243.5h1.5v1.5h-1.5zM107.75 244.75h4v1.5h-4zM50.25 246h2.75v1.5h-2.75zM107.75 246h6.5v1.5h-6.5zM39 247.25h4v1.5h-4zM49 247.25h1.5v1.5h-1.5zM80.25 247.25h1.5v1.5h-1.5zM107.75 247.25h7.75v1.5h-7.75zM39 248.5h4v1.5h-4zM50.25 248.5h1.5v1.5h-1.5zM80.25 248.5h4v1.5h-4zM107.75 248.5h7.75v1.5h-7.75zM40.25 249.75h4v1.5h-4zM81.5 249.75h2.75v1.5h-2.75zM89 249.75h4v1.5h-4zM109 249.75h5.25v1.5h-5.25zM81.5 251h4v1.5h-4zM89 251h4v1.5h-4zM90.25 252.25h2.75v1.5h-2.75zM45.25 253.5h1.5v1.5h-1.5zM54 256h1.5v1.5h-1.5zM121.5 256h1.5v1.5h-1.5zM54 257.25h2.75v1.5h-2.75zM120.25 257.25h1.5v1.5h-1.5zM122.75 257.25h1.5v1.5h-1.5zM54 258.5h2.75v1.5h-2.75zM54 259.75h2.75v1.5h-2.75zM54 261h2.75v1.5h-2.75zM131.5 261h1.5v1.5h-1.5zM54 262.25h1.5v1.5h-1.5zM102.75 262.25h1.5v1.5h-1.5zM126.5 262.25h1.5v1.5h-1.5zM54 263.5h1.5v1.5h-1.5zM89 263.5h1.5v1.5h-1.5zM134 263.5h1.5v1.5h-1.5zM87.75 264.75h1.5v1.5h-1.5zM104 264.75h1.5v1.5h-1.5zM130.25 264.75h2.75v1.5h-2.75zM134 264.75h1.5v1.5h-1.5zM132.75 266h2.75v1.5h-2.75zM95.25 267.25h1.5v1.5h-1.5zM134 267.25h2.75v1.5h-2.75zM54 268.5h1.5v1.5h-1.5zM96.5 268.5h1.5v1.5h-1.5zM122.75 268.5h4v1.5h-4zM134 268.5h1.5v1.5h-1.5zM54 269.75h1.5v1.5h-1.5zM122.75 269.75h5.25v1.5h-5.25zM132.75 269.75h4v1.5h-4zM124 271h7.75v1.5h-7.75zM135.25 271h1.5v1.5h-1.5zM126.5 272.25h6.5v1.5h-6.5zM104 274.75h1.5v1.5h-1.5zM137.75 276h1.5v1.5h-1.5zM67.75 277.25h2.75v1.5h-2.75zM136.5 277.25h6.5v1.5h-6.5zM67.75 278.5h2.75v1.5h-2.75zM101.5 278.5h1.5v1.5h-1.5zM106.5 278.5h1.5v1.5h-1.5zM136.5 278.5h7.75v1.5h-7.75zM67.75 279.75h2.75v1.5h-2.75zM102.75 279.75h1.5v1.5h-1.5zM137.75 279.75h1.5v1.5h-1.5zM69 281h1.5v1.5h-1.5zM74 281h1.5v1.5h-1.5zM71.5 282.25h2.75v1.5h-2.75zM115.25 284.75h1.5v1.5h-1.5z"/><path fill="#50a0c8" d="M116.5 196h1.5v1.5h-1.5zM84 197.25h1.5v1.5h-1.5zM77.75 198.5h1.5v1.5h-1.5zM80.25 198.5h5.25v1.5h-5.25zM86.5 198.5h1.5v1.5h-1.5zM82.75 199.75h2.75v1.5h-2.75zM81.5 201h1.5v1.5h-1.5zM85.25 201h1.5v1.5h-1.5zM117.75 203.5h1.5v1.5h-1.5zM89 211h2.75v1.5h-2.75zM127.75 212.25h1.5v1.5h-1.5zM62.75 213.5h2.75v1.5h-2.75zM80.25 213.5h1.5v1.5h-1.5zM126.5 213.5h1.5v1.5h-1.5zM129 213.5h1.5v1.5h-1.5zM65.25 214.75h1.5v1.5h-1.5zM80.25 214.75h1.5v1.5h-1.5zM82.75 214.75h1.5v1.5h-1.5zM125.25 216h1.5v1.5h-1.5zM149 217.25h1.5v1.5h-1.5zM55.25 218.5h1.5v1.5h-1.5zM124 218.5h1.5v1.5h-1.5zM54 219.75h1.5v1.5h-1.5zM60.25 221h1.5v1.5h-1.5zM100.25 221h4v1.5h-4zM107.75 221h4v1.5h-4zM61.5 222.25h1.5v1.5h-1.5zM67.75 222.25h1.5v1.5h-1.5zM110.25 222.25h2.75v1.5h-2.75zM110.25 223.5h1.5v1.5h-1.5zM110.25 224.75h1.5v1.5h-1.5zM119 224.75h1.5v1.5h-1.5zM101.5 226h1.5v1.5h-1.5zM110.25 226h1.5v1.5h-1.5zM111.5 227.25h1.5v1.5h-1.5zM114 227.25h2.75v1.5h-2.75zM112.75 228.5h1.5v1.5h-1.5zM136.5 231h1.5v1.5h-1.5zM137.75 232.25h2.75v1.5h-2.75zM82.75 233.5h1.5v1.5h-1.5zM147.75 233.5h1.5v1.5h-1.5zM74 234.75h1.5v1.5h-1.5zM84 234.75h1.5v1.5h-1.5zM87.75 234.75h2.75v1.5h-2.75zM131.5 238.5h1.5v1.5h-1.5zM44 239.75h4v1.5h-4zM57.75 239.75h1.5v1.5h-1.5zM64 239.75h2.75v1.5h-2.75zM76.5 239.75h1.5v1.5h-1.5zM99 239.75h1.5v1.5h-1.5zM130.25 239.75h1.5v1.5h-1.5zM130.25 241h1.5v1.5h-1.5zM134 241h1.5v1.5h-1.5zM59 242.25h1.5v1.5h-1.5zM104 242.25h1.5v1.5h-1.5zM59 243.5h1.5v1.5h-1.5zM105.25 243.5h1.5v1.5h-1.5zM66.5 244.75h1.5v1.5h-1.5zM106.5 244.75h1.5v1.5h-1.5zM79 246h2.75v1.5h-2.75zM106.5 246h1.5v1.5h-1.5zM81.5 247.25h1.5v1.5h-1.5zM77.75 248.5h1.5v1.5h-1.5zM54 249.75h1.5v1.5h-1.5zM77.75 249.75h1.5v1.5h-1.5zM41.5 251h1.5v1.5h-1.5zM45.25 251h1.5v1.5h-1.5zM81.5 252.25h1.5v1.5h-1.5zM76.5 253.5h1.5v1.5h-1.5zM96.5 253.5h4v1.5h-4zM44 254.75h1.5v1.5h-1.5zM52.75 254.75h1.5v1.5h-1.5zM56.5 254.75h1.5v1.5h-1.5zM75.25 254.75h1.5v1.5h-1.5zM97.75 254.75h1.5v1.5h-1.5zM42.75 256h1.5v1.5h-1.5zM56.5 256h1.5v1.5h-1.5zM102.75 256h1.5v1.5h-1.5zM56.5 257.25h1.5v1.5h-1.5zM124 257.25h1.5v1.5h-1.5zM56.5 258.5h1.5v1.5h-1.5zM120.25 258.5h1.5v1.5h-1.5zM56.5 259.75h1.5v1.5h-1.5zM102.75 259.75h1.5v1.5h-1.5zM115.25 259.75h1.5v1.5h-1.5zM40.25 261h1.5v1.5h-1.5zM52.75 261h1.5v1.5h-1.5zM102.75 261h1.5v1.5h-1.5zM115.25 261h1.5v1.5h-1.5zM130.25 261h1.5v1.5h-1.5zM132.75 261h1.5v1.5h-1.5zM52.75 262.25h1.5v1.5h-1.5zM55.25 262.25h1.5v1.5h-1.5zM116.5 262.25h2.75v1.5h-2.75zM127.75 262.25h1.5v1.5h-1.5zM52.75 263.5h1.5v1.5h-1.5zM105.25 263.5h1.5v1.5h-1.5zM52.75 264.75h2.75v1.5h-2.75zM127.75 264.75h2.75v1.5h-2.75zM52.75 266h2.75v1.5h-2.75zM126.5 266h1.5v1.5h-1.5zM52.75 267.25h2.75v1.5h-2.75zM127.75 267.25h1.5v1.5h-1.5zM66.5 268.5h1.5v1.5h-1.5zM71.5 268.5h1.5v1.5h-1.5zM127.75 269.75h1.5v1.5h-1.5zM49 271h1.5v1.5h-1.5zM54 271h1.5v1.5h-1.5zM46.5 272.25h1.5v1.5h-1.5zM66.5 272.25h1.5v1.5h-1.5zM104 273.5h1.5v1.5h-1.5zM67.75 274.75h1.5v1.5h-1.5zM67.75 276h1.5v1.5h-1.5zM106.5 277.25h1.5v1.5h-1.5zM122.75 278.5h1.5v1.5h-1.5zM112.75 279.75h1.5v1.5h-1.5zM116.5 279.75h1.5v1.5h-1.5zM74 282.25h1.5v1.5h-1.5z"/><path fill="#50b4c8" d="M117.75 196h2.75v1.5h-2.75zM107.75 197.25h1.5v1.5h-1.5zM112.75 197.25h1.5v1.5h-1.5zM110.25 198.5h1.5v1.5h-1.5zM87.75 199.75h1.5v1.5h-1.5zM145.25 202.25h2.75v1.5h-2.75zM80.25 203.5h1.5v1.5h-1.5zM90.25 203.5h1.5v1.5h-1.5zM144 203.5h1.5v1.5h-1.5zM80.25 204.75h1.5v1.5h-1.5zM81.5 206h1.5v1.5h-1.5zM121.5 206h1.5v1.5h-1.5zM75.25 208.5h1.5v1.5h-1.5zM124 208.5h1.5v1.5h-1.5zM145.25 209.75h2.75v1.5h-2.75zM124 211h1.5v1.5h-1.5zM79 212.25h1.5v1.5h-1.5zM82.75 212.25h1.5v1.5h-1.5zM119 212.25h1.5v1.5h-1.5zM121.5 212.25h1.5v1.5h-1.5zM59 216h1.5v1.5h-1.5zM59 222.25h1.5v1.5h-1.5zM97.75 222.25h1.5v1.5h-1.5zM112.75 222.25h1.5v1.5h-1.5zM56.5 223.5h1.5v1.5h-1.5zM111.5 223.5h1.5v1.5h-1.5zM80.25 224.75h1.5v1.5h-1.5zM97.75 224.75h1.5v1.5h-1.5zM111.5 224.75h1.5v1.5h-1.5zM77.75 226h2.75v1.5h-2.75zM81.5 226h5.25v1.5h-5.25zM111.5 226h1.5v1.5h-1.5zM76.5 227.25h1.5v1.5h-1.5zM82.75 227.25h5.25v1.5h-5.25zM132.75 227.25h1.5v1.5h-1.5zM54 228.5h1.5v1.5h-1.5zM56.5 228.5h1.5v1.5h-1.5zM75.25 228.5h1.5v1.5h-1.5zM81.5 228.5h2.75v1.5h-2.75zM132.75 228.5h1.5v1.5h-1.5zM141.5 228.5h1.5v1.5h-1.5zM59 229.75h1.5v1.5h-1.5zM61.5 229.75h4v1.5h-4zM82.75 229.75h1.5v1.5h-1.5zM51.5 231h1.5v1.5h-1.5zM65.25 231h1.5v1.5h-1.5zM82.75 231h1.5v1.5h-1.5zM146.5 231h1.5v1.5h-1.5zM57.75 232.25h1.5v1.5h-1.5zM60.25 232.25h1.5v1.5h-1.5zM147.75 232.25h1.5v1.5h-1.5zM140.25 233.5h1.5v1.5h-1.5zM141.5 234.75h1.5v1.5h-1.5zM74 237.25h1.5v1.5h-1.5zM45.25 238.5h2.75v1.5h-2.75zM59 238.5h2.75v1.5h-2.75zM74 238.5h1.5v1.5h-1.5zM47.75 239.75h1.5v1.5h-1.5zM62.75 239.75h1.5v1.5h-1.5zM74 239.75h1.5v1.5h-1.5zM59 241h1.5v1.5h-1.5zM96.5 241h1.5v1.5h-1.5zM75.25 242.25h1.5v1.5h-1.5zM131.5 242.25h1.5v1.5h-1.5zM136.5 242.25h1.5v1.5h-1.5zM76.5 243.5h1.5v1.5h-1.5zM79 243.5h1.5v1.5h-1.5zM136.5 243.5h1.5v1.5h-1.5zM104 244.75h2.75v1.5h-2.75zM136.5 244.75h1.5v1.5h-1.5zM67.75 246h1.5v1.5h-1.5zM100.25 246h2.75v1.5h-2.75zM132.75 246h2.75v1.5h-2.75zM64 247.25h1.5v1.5h-1.5zM130.25 247.25h1.5v1.5h-1.5zM130.25 248.5h1.5v1.5h-1.5zM61.5 249.75h1.5v1.5h-1.5zM125.25 249.75h1.5v1.5h-1.5zM129 251h1.5v1.5h-1.5zM60.25 252.25h1.5v1.5h-1.5zM121.5 252.25h1.5v1.5h-1.5zM39 253.5h1.5v1.5h-1.5zM59 253.5h1.5v1.5h-1.5zM100.25 253.5h1.5v1.5h-1.5zM117.75 253.5h1.5v1.5h-1.5zM79 254.75h1.5v1.5h-1.5zM40.25 256h1.5v1.5h-1.5zM116.5 256h1.5v1.5h-1.5zM74 257.25h1.5v1.5h-1.5zM77.75 257.25h1.5v1.5h-1.5zM105.25 257.25h1.5v1.5h-1.5zM116.5 257.25h1.5v1.5h-1.5zM139 257.25h2.75v1.5h-2.75zM140.25 258.5h1.5v1.5h-1.5zM40.25 259.75h1.5v1.5h-1.5zM106.5 259.75h1.5v1.5h-1.5zM119 259.75h2.75v1.5h-2.75zM140.25 259.75h1.5v1.5h-1.5zM142.75 259.75h1.5v1.5h-1.5zM119 261h1.5v1.5h-1.5zM140.25 261h1.5v1.5h-1.5zM105.25 262.25h1.5v1.5h-1.5zM115.25 262.25h1.5v1.5h-1.5zM140.25 262.25h1.5v1.5h-1.5zM146.5 264.75h1.5v1.5h-1.5zM91.5 266h1.5v1.5h-1.5zM141.5 266h2.75v1.5h-2.75zM89 267.25h1.5v1.5h-1.5zM72.75 268.5h1.5v1.5h-1.5zM90.25 268.5h1.5v1.5h-1.5zM51.5 269.75h1.5v1.5h-1.5zM75.25 269.75h1.5v1.5h-1.5zM92.75 269.75h1.5v1.5h-1.5zM96.5 269.75h1.5v1.5h-1.5zM76.5 271h1.5v1.5h-1.5zM96.5 271h1.5v1.5h-1.5zM52.75 272.25h1.5v1.5h-1.5zM76.5 272.25h1.5v1.5h-1.5zM101.5 272.25h1.5v1.5h-1.5zM45.25 273.5h1.5v1.5h-1.5zM51.5 274.75h1.5v1.5h-1.5zM44 276h1.5v1.5h-1.5zM75.25 276h1.5v1.5h-1.5zM95.25 276h1.5v1.5h-1.5zM126.5 276h1.5v1.5h-1.5zM44 277.25h1.5v1.5h-1.5zM50.25 277.25h1.5v1.5h-1.5zM126.5 277.25h1.5v1.5h-1.5zM120.25 278.5h1.5v1.5h-1.5zM119 279.75h1.5v1.5h-1.5zM126.5 279.75h1.5v1.5h-1.5zM116.5 281h1.5v1.5h-1.5zM126.5 281h1.5v1.5h-1.5zM111.5 282.25h1.5v1.5h-1.5zM125.25 283.5h1.5v1.5h-1.5z"/><path fill="#3ca0dc" d="M121.5 196h2.75v1.5h-2.75zM76.5 203.5h2.75v1.5h-2.75zM86.5 203.5h1.5v1.5h-1.5zM146.5 203.5h1.5v1.5h-1.5zM77.75 204.75h1.5v1.5h-1.5zM85.25 204.75h2.75v1.5h-2.75zM145.25 204.75h2.75v1.5h-2.75zM77.75 206h2.75v1.5h-2.75zM85.25 206h1.5v1.5h-1.5zM89 206h1.5v1.5h-1.5zM144 206h5.25v1.5h-5.25zM77.75 207.25h2.75v1.5h-2.75zM84 207.25h4v1.5h-4zM145.25 207.25h4v1.5h-4zM77.75 208.5h4v1.5h-4zM84 208.5h4v1.5h-4zM120.25 208.5h2.75v1.5h-2.75zM79 209.75h2.75v1.5h-2.75zM82.75 209.75h6.5v1.5h-6.5zM120.25 209.75h2.75v1.5h-2.75zM114 223.5h1.5v1.5h-1.5zM114 224.75h1.5v1.5h-1.5zM77.75 228.5h2.75v1.5h-2.75zM76.5 229.75h5.25v1.5h-5.25zM54 231h2.75v1.5h-2.75zM76.5 231h5.25v1.5h-5.25zM142.75 231h2.75v1.5h-2.75zM76.5 232.25h5.25v1.5h-5.25zM142.75 232.25h4v1.5h-4zM142.75 233.5h4v1.5h-4zM50.25 242.25h4v1.5h-4zM62.75 242.25h2.75v1.5h-2.75zM97.75 242.25h4v1.5h-4zM61.5 243.5h4v1.5h-4zM97.75 243.5h5.25v1.5h-5.25zM60.25 244.75h6.5v1.5h-6.5zM67.75 244.75h1.5v1.5h-1.5zM60.25 246h5.25v1.5h-5.25zM60.25 247.25h2.75v1.5h-2.75zM60.25 248.5h1.5v1.5h-1.5zM52.75 249.75h1.5v1.5h-1.5zM59 249.75h2.75v1.5h-2.75zM52.75 251h1.5v1.5h-1.5zM55.25 251h5.25v1.5h-5.25zM126.5 251h1.5v1.5h-1.5zM51.5 252.25h1.5v1.5h-1.5zM56.5 252.25h2.75v1.5h-2.75zM125.25 252.25h2.75v1.5h-2.75zM121.5 253.5h5.25v1.5h-5.25zM119 254.75h6.5v1.5h-6.5zM100.25 256h2.75v1.5h-2.75zM119 256h1.5v1.5h-1.5zM104 258.5h1.5v1.5h-1.5zM104 259.75h1.5v1.5h-1.5zM104 261h1.5v1.5h-1.5zM142.75 262.25h1.5v1.5h-1.5zM142.75 263.5h1.5v1.5h-1.5zM71.5 269.75h1.5v1.5h-1.5zM70.25 271h4v1.5h-4zM70.25 272.25h5.25v1.5h-5.25zM47.75 273.5h1.5v1.5h-1.5zM50.25 273.5h1.5v1.5h-1.5zM70.25 273.5h5.25v1.5h-5.25zM97.75 273.5h6.5v1.5h-6.5zM46.5 274.75h5.25v1.5h-5.25zM70.25 274.75h4v1.5h-4zM96.5 274.75h7.75v1.5h-7.75zM46.5 276h4v1.5h-4zM71.5 276h2.75v1.5h-2.75zM96.5 276h6.5v1.5h-6.5zM97.75 277.25h4v1.5h-4zM122.75 279.75h1.5v1.5h-1.5zM121.5 281h2.75v1.5h-2.75zM120.25 282.25h4v1.5h-4zM120.25 283.5h4v1.5h-4zM121.5 284.75h2.75v1.5h-2.75z"/><path fill="#78b4a0" d="M124 196h1.5v1.5h-1.5zM137.75 196h1.5v1.5h-1.5zM47.75 203.5h1.5v1.5h-1.5zM112.75 203.5h1.5v1.5h-1.5zM44 216h1.5v1.5h-1.5zM127.75 221h1.5v1.5h-1.5zM134 228.5h1.5v1.5h-1.5zM70.25 239.75h1.5v1.5h-1.5zM65.25 243.5h1.5v1.5h-1.5zM122.75 244.75h1.5v1.5h-1.5zM41.5 246h1.5v1.5h-1.5zM87.75 248.5h1.5v1.5h-1.5zM55.25 249.75h2.75v1.5h-2.75zM92.75 249.75h1.5v1.5h-1.5zM96.5 251h1.5v1.5h-1.5zM84 252.25h1.5v1.5h-1.5zM86.5 252.25h1.5v1.5h-1.5zM41.5 257.25h1.5v1.5h-1.5zM41.5 258.5h1.5v1.5h-1.5zM46.5 261h1.5v1.5h-1.5zM49 261h1.5v1.5h-1.5zM129 266h1.5v1.5h-1.5zM121.5 268.5h1.5v1.5h-1.5zM136.5 272.25h1.5v1.5h-1.5zM40.25 273.5h1.5v1.5h-1.5zM64 279.75h1.5v1.5h-1.5zM139 281h1.5v1.5h-1.5zM141.5 282.25h1.5v1.5h-1.5zM137.75 284.75h1.5v1.5h-1.5z"/><path fill="#78788c" d="M130.25 196h1.5v1.5h-1.5zM126.5 197.25h1.5v1.5h-1.5zM130.25 198.5h1.5v1.5h-1.5zM99 202.25h1.5v1.5h-1.5zM97.75 203.5h1.5v1.5h-1.5zM139 203.5h1.5v1.5h-1.5zM140.25 204.75h1.5v1.5h-1.5zM99 206h1.5v1.5h-1.5zM101.5 206h1.5v1.5h-1.5zM100.25 207.25h2.75v1.5h-2.75zM101.5 208.5h1.5v1.5h-1.5zM95.25 211h1.5v1.5h-1.5zM57.75 212.25h1.5v1.5h-1.5zM87.75 217.25h1.5v1.5h-1.5zM44 224.75h1.5v1.5h-1.5zM80.25 238.5h1.5v1.5h-1.5zM149 241h1.5v1.5h-1.5zM149 242.25h1.5v1.5h-1.5zM46.5 257.25h1.5v1.5h-1.5zM62.75 276h1.5v1.5h-1.5z"/><path fill="#8cb48c" d="M140.25 196h1.5v1.5h-1.5zM139 199.75h1.5v1.5h-1.5zM106.5 203.5h1.5v1.5h-1.5zM106.5 204.75h1.5v1.5h-1.5zM44 214.75h1.5v1.5h-1.5zM149 218.5h1.5v1.5h-1.5zM142.75 222.25h1.5v1.5h-1.5zM144 223.5h1.5v1.5h-1.5zM134 226h1.5v1.5h-1.5zM71.5 242.25h1.5v1.5h-1.5zM92.75 248.5h1.5v1.5h-1.5zM99 257.25h1.5v1.5h-1.5zM101.5 258.5h1.5v1.5h-1.5zM47.75 259.75h1.5v1.5h-1.5zM101.5 259.75h1.5v1.5h-1.5zM124 261h1.5v1.5h-1.5zM77.75 263.5h1.5v1.5h-1.5zM77.75 264.75h1.5v1.5h-1.5zM129 267.25h1.5v1.5h-1.5zM137.75 269.75h1.5v1.5h-1.5zM137.75 271h1.5v1.5h-1.5zM56.5 277.25h1.5v1.5h-1.5zM59 277.25h1.5v1.5h-1.5zM56.5 278.5h1.5v1.5h-1.5zM62.75 281h1.5v1.5h-1.5z"/><path fill="#b4c850" d="M39 197.25h2.75v1.5h-2.75zM39 198.5h2.75v1.5h-2.75zM42.75 198.5h2.75v1.5h-2.75zM149 198.5h1.5v1.5h-1.5zM62.75 201h1.5v1.5h-1.5zM59 202.25h2.75v1.5h-2.75zM94 207.25h1.5v1.5h-1.5zM97.75 207.25h1.5v1.5h-1.5zM97.75 209.75h1.5v1.5h-1.5zM97.75 211h1.5v1.5h-1.5zM96.5 214.75h1.5v1.5h-1.5zM71.5 216h1.5v1.5h-1.5zM69 217.25h1.5v1.5h-1.5zM95.25 217.25h1.5v1.5h-1.5zM87.75 221h4v1.5h-4zM134 221h1.5v1.5h-1.5zM149 221h1.5v1.5h-1.5zM136.5 223.5h1.5v1.5h-1.5zM49 224.75h1.5v1.5h-1.5zM47.75 226h1.5v1.5h-1.5zM92.75 226h1.5v1.5h-1.5zM114 238.5h1.5v1.5h-1.5zM69 256h1.5v1.5h-1.5zM110.25 256h2.75v1.5h-2.75zM95.25 257.25h1.5v1.5h-1.5zM110.25 257.25h1.5v1.5h-1.5zM115.25 271h2.75v1.5h-2.75zM82.75 273.5h1.5v1.5h-1.5zM119 273.5h1.5v1.5h-1.5zM81.5 274.75h2.75v1.5h-2.75zM115.25 274.75h1.5v1.5h-1.5zM55.25 276h1.5v1.5h-1.5zM59 276h1.5v1.5h-1.5zM81.5 276h1.5v1.5h-1.5zM115.25 276h1.5v1.5h-1.5zM117.75 276h1.5v1.5h-1.5zM39 279.75h1.5v1.5h-1.5zM144 281h1.5v1.5h-1.5z"/><path fill="#b4c864" d="M45.25 197.25h1.5v1.5h-1.5zM45.25 199.75h1.5v1.5h-1.5zM101.5 201h1.5v1.5h-1.5zM105.25 202.25h1.5v1.5h-1.5zM96.5 204.75h1.5v1.5h-1.5zM104 204.75h1.5v1.5h-1.5zM99 211h1.5v1.5h-1.5zM97.75 212.25h1.5v1.5h-1.5zM69 216h1.5v1.5h-1.5zM109 216h2.75v1.5h-2.75zM147.75 221h1.5v1.5h-1.5zM146.5 223.5h1.5v1.5h-1.5zM59 224.75h1.5v1.5h-1.5zM87.75 224.75h1.5v1.5h-1.5zM134 224.75h1.5v1.5h-1.5zM44 227.25h1.5v1.5h-1.5zM66.5 257.25h2.75v1.5h-2.75zM139 271h1.5v1.5h-1.5zM60.25 274.75h1.5v1.5h-1.5zM60.25 276h1.5v1.5h-1.5zM115.25 277.25h1.5v1.5h-1.5zM149 279.75h1.5v1.5h-1.5z"/><path fill="#7878a0" d="M57.75 197.25h1.5v1.5h-1.5zM130.25 197.25h1.5v1.5h-1.5zM52.75 202.25h1.5v1.5h-1.5zM100.25 202.25h1.5v1.5h-1.5zM101.5 203.5h1.5v1.5h-1.5zM139 204.75h1.5v1.5h-1.5zM56.5 211h1.5v1.5h-1.5zM92.75 216h1.5v1.5h-1.5zM41.5 234.75h1.5v1.5h-1.5zM79 238.5h1.5v1.5h-1.5zM92.75 259.75h1.5v1.5h-1.5zM55.25 282.25h1.5v1.5h-1.5zM97.75 283.5h1.5v1.5h-1.5zM97.75 284.75h2.75v1.5h-2.75z"/><path fill="#c8c83c" d="M62.75 197.25h2.75v1.5h-2.75zM45.25 198.5h1.5v1.5h-1.5zM62.75 198.5h1.5v1.5h-1.5zM59 201h1.5v1.5h-1.5zM61.5 201h1.5v1.5h-1.5zM70.25 217.25h1.5v1.5h-1.5zM90.25 222.25h1.5v1.5h-1.5zM87.75 223.5h1.5v1.5h-1.5zM89 224.75h1.5v1.5h-1.5zM91.5 224.75h1.5v1.5h-1.5zM59 227.25h1.5v1.5h-1.5zM117.75 272.25h1.5v1.5h-1.5zM116.5 276h1.5v1.5h-1.5z"/><path fill="#508cb4" d="M77.75 197.25h4v1.5h-4zM71.5 203.5h1.5v1.5h-1.5zM114 203.5h1.5v1.5h-1.5zM40.25 204.75h1.5v1.5h-1.5zM65.25 211h1.5v1.5h-1.5zM67.75 212.25h1.5v1.5h-1.5zM66.5 213.5h1.5v1.5h-1.5zM42.75 216h1.5v1.5h-1.5zM104 221h1.5v1.5h-1.5zM65.25 223.5h1.5v1.5h-1.5zM71.5 231h1.5v1.5h-1.5zM72.75 232.25h1.5v1.5h-1.5zM149 233.5h1.5v1.5h-1.5zM147.75 234.75h1.5v1.5h-1.5zM147.75 236h2.75v1.5h-2.75zM101.5 237.25h1.5v1.5h-1.5zM76.5 238.5h1.5v1.5h-1.5zM44 241h1.5v1.5h-1.5zM56.5 241h1.5v1.5h-1.5zM79 241h2.75v1.5h-2.75zM44 242.25h1.5v1.5h-1.5zM57.75 242.25h1.5v1.5h-1.5zM126.5 242.25h1.5v1.5h-1.5zM126.5 243.5h1.5v1.5h-1.5zM124 244.75h2.75v1.5h-2.75zM44 246h1.5v1.5h-1.5zM55.25 247.25h1.5v1.5h-1.5zM84 249.75h1.5v1.5h-1.5zM87.75 251h1.5v1.5h-1.5zM50.25 253.5h1.5v1.5h-1.5zM44 256h1.5v1.5h-1.5zM42.75 257.25h1.5v1.5h-1.5zM90.25 258.5h1.5v1.5h-1.5zM121.5 258.5h2.75v1.5h-2.75zM101.5 266h1.5v1.5h-1.5zM55.25 267.25h1.5v1.5h-1.5zM56.5 268.5h1.5v1.5h-1.5zM135.25 268.5h1.5v1.5h-1.5zM56.5 269.75h1.5v1.5h-1.5zM97.75 269.75h1.5v1.5h-1.5zM55.25 271h1.5v1.5h-1.5zM132.75 272.25h1.5v1.5h-1.5zM105.25 276h1.5v1.5h-1.5z"/><path fill="#50b4a0" d="M87.75 197.25h2.75v1.5h-2.75zM92.75 197.25h1.5v1.5h-1.5zM116.5 197.25h2.75v1.5h-2.75zM76.5 198.5h1.5v1.5h-1.5zM112.75 198.5h1.5v1.5h-1.5zM75.25 199.75h1.5v1.5h-1.5zM109 199.75h1.5v1.5h-1.5zM72.75 201h1.5v1.5h-1.5zM71.5 202.25h1.5v1.5h-1.5zM135.25 202.25h1.5v1.5h-1.5zM134 204.75h1.5v1.5h-1.5zM117.75 206h1.5v1.5h-1.5zM126.5 211h1.5v1.5h-1.5zM145.25 211h1.5v1.5h-1.5zM147.75 211h1.5v1.5h-1.5zM121.5 213.5h1.5v1.5h-1.5zM57.75 214.75h1.5v1.5h-1.5zM99 219.75h1.5v1.5h-1.5zM130.25 219.75h1.5v1.5h-1.5zM52.75 222.25h1.5v1.5h-1.5zM80.25 222.25h1.5v1.5h-1.5zM117.75 222.25h1.5v1.5h-1.5zM67.75 223.5h1.5v1.5h-1.5zM75.25 223.5h1.5v1.5h-1.5zM54 226h1.5v1.5h-1.5zM75.25 227.25h1.5v1.5h-1.5zM97.75 227.25h1.5v1.5h-1.5zM100.25 227.25h1.5v1.5h-1.5zM131.5 227.25h1.5v1.5h-1.5zM64 228.5h2.75v1.5h-2.75zM144 228.5h1.5v1.5h-1.5zM146.5 229.75h1.5v1.5h-1.5zM86.5 231h1.5v1.5h-1.5zM132.75 231h2.75v1.5h-2.75zM149 231h1.5v1.5h-1.5zM85.25 232.25h2.75v1.5h-2.75zM97.75 232.25h1.5v1.5h-1.5zM126.5 232.25h1.5v1.5h-1.5zM129 232.25h1.5v1.5h-1.5zM49 233.5h2.75v1.5h-2.75zM85.25 233.5h2.75v1.5h-2.75zM90.25 233.5h1.5v1.5h-1.5zM127.75 233.5h2.75v1.5h-2.75zM109 234.75h1.5v1.5h-1.5zM47.75 236h1.5v1.5h-1.5zM59 236h1.5v1.5h-1.5zM72.75 236h1.5v1.5h-1.5zM131.5 236h4v1.5h-4zM107.75 237.25h1.5v1.5h-1.5zM49 238.5h1.5v1.5h-1.5zM95.25 241h1.5v1.5h-1.5zM137.75 241h1.5v1.5h-1.5zM80.25 244.75h1.5v1.5h-1.5zM100.25 247.25h1.5v1.5h-1.5zM104 247.25h1.5v1.5h-1.5zM135.25 247.25h1.5v1.5h-1.5zM64 248.5h1.5v1.5h-1.5zM125.25 248.5h1.5v1.5h-1.5zM132.75 248.5h1.5v1.5h-1.5zM39 251h1.5v1.5h-1.5zM121.5 251h1.5v1.5h-1.5zM117.75 252.25h1.5v1.5h-1.5zM149 252.25h1.5v1.5h-1.5zM104 253.5h1.5v1.5h-1.5zM149 253.5h1.5v1.5h-1.5zM50.25 254.75h1.5v1.5h-1.5zM136.5 256h1.5v1.5h-1.5zM125.25 257.25h1.5v1.5h-1.5zM142.75 257.25h1.5v1.5h-1.5zM79 258.5h1.5v1.5h-1.5zM77.75 259.75h1.5v1.5h-1.5zM107.75 261h1.5v1.5h-1.5zM139 261h1.5v1.5h-1.5zM146.5 261h1.5v1.5h-1.5zM114 262.25h1.5v1.5h-1.5zM147.75 262.25h2.75v1.5h-2.75zM115.25 263.5h1.5v1.5h-1.5zM140.25 266h1.5v1.5h-1.5zM50.25 268.5h1.5v1.5h-1.5zM77.75 269.75h1.5v1.5h-1.5zM57.75 271h1.5v1.5h-1.5zM65.25 271h1.5v1.5h-1.5zM94 272.25h1.5v1.5h-1.5zM52.75 273.5h1.5v1.5h-1.5zM77.75 273.5h1.5v1.5h-1.5zM77.75 274.75h1.5v1.5h-1.5zM90.25 274.75h1.5v1.5h-1.5zM94 274.75h1.5v1.5h-1.5zM122.75 274.75h1.5v1.5h-1.5zM127.75 274.75h1.5v1.5h-1.5zM121.5 276h1.5v1.5h-1.5zM92.75 277.25h2.75v1.5h-2.75zM120.25 277.25h1.5v1.5h-1.5zM90.25 278.5h2.75v1.5h-2.75zM95.25 278.5h1.5v1.5h-1.5zM112.75 278.5h1.5v1.5h-1.5zM96.5 279.75h1.5v1.5h-1.5zM129 279.75h1.5v1.5h-1.5zM129 281h1.5v1.5h-1.5zM127.75 282.25h1.5v1.5h-1.5zM109 283.5h1.5v1.5h-1.5zM107.75 284.75h1.5v1.5h-1.5z"/><path fill="#64b48c" d="M95.25 197.25h1.5v1.5h-1.5zM144 201h1.5v1.5h-1.5zM61.5 206h1.5v1.5h-1.5zM60.25 207.25h1.5v1.5h-1.5zM51.5 211h1.5v1.5h-1.5zM59 213.5h1.5v1.5h-1.5zM105.25 218.5h2.75v1.5h-2.75zM40.25 219.75h2.75v1.5h-2.75zM65.25 227.25h1.5v1.5h-1.5zM90.25 227.25h1.5v1.5h-1.5zM90.25 228.5h1.5v1.5h-1.5zM90.25 229.75h1.5v1.5h-1.5zM90.25 231h1.5v1.5h-1.5zM95.25 233.5h1.5v1.5h-1.5zM52.75 234.75h2.75v1.5h-2.75zM65.25 237.25h1.5v1.5h-1.5zM96.5 238.5h1.5v1.5h-1.5zM94 241h1.5v1.5h-1.5zM109 243.5h1.5v1.5h-1.5zM117.75 247.25h1.5v1.5h-1.5zM125.25 247.25h1.5v1.5h-1.5zM117.75 248.5h1.5v1.5h-1.5zM75.25 252.25h1.5v1.5h-1.5zM139 253.5h1.5v1.5h-1.5zM95.25 256h1.5v1.5h-1.5zM126.5 258.5h1.5v1.5h-1.5zM51.5 259.75h1.5v1.5h-1.5zM127.75 259.75h1.5v1.5h-1.5zM44 261h1.5v1.5h-1.5zM50.25 263.5h1.5v1.5h-1.5zM106.5 263.5h1.5v1.5h-1.5zM50.25 264.75h1.5v1.5h-1.5zM95.25 264.75h1.5v1.5h-1.5zM76.5 267.25h1.5v1.5h-1.5zM49 268.5h1.5v1.5h-1.5zM47.75 269.75h1.5v1.5h-1.5zM64 269.75h1.5v1.5h-1.5zM45.25 271h1.5v1.5h-1.5zM44 272.25h1.5v1.5h-1.5zM149 274.75h1.5v1.5h-1.5zM39 276h2.75v1.5h-2.75zM141.5 276h1.5v1.5h-1.5zM77.75 281h1.5v1.5h-1.5zM97.75 281h1.5v1.5h-1.5zM92.75 282.25h1.5v1.5h-1.5zM137.75 282.25h2.75v1.5h-2.75zM140.25 283.5h1.5v1.5h-1.5zM146.5 283.5h1.5v1.5h-1.5z"/><path fill="#c8b450" d="M125.25 197.25h1.5v1.5h-1.5zM56.5 283.5h1.5v1.5h-1.5z"/><path fill="#78a0a0" d="M139 197.25h1.5v1.5h-1.5zM114 202.25h1.5v1.5h-1.5zM46.5 204.75h2.75v1.5h-2.75zM46.5 206h2.75v1.5h-2.75zM46.5 207.25h1.5v1.5h-1.5zM149 208.5h1.5v1.5h-1.5zM39 218.5h1.5v1.5h-1.5zM145.25 221h1.5v1.5h-1.5zM144 222.25h2.75v1.5h-2.75zM134 227.25h1.5v1.5h-1.5zM136.5 227.25h1.5v1.5h-1.5zM92.75 228.5h1.5v1.5h-1.5zM94 229.75h1.5v1.5h-1.5zM135.25 229.75h1.5v1.5h-1.5zM124 241h1.5v1.5h-1.5zM67.75 243.5h1.5v1.5h-1.5zM122.75 243.5h1.5v1.5h-1.5zM46.5 247.25h1.5v1.5h-1.5zM42.75 248.5h1.5v1.5h-1.5zM46.5 249.75h1.5v1.5h-1.5zM101.5 261h1.5v1.5h-1.5zM125.25 262.25h1.5v1.5h-1.5zM126.5 264.75h1.5v1.5h-1.5zM124 266h1.5v1.5h-1.5zM136.5 267.25h1.5v1.5h-1.5zM132.75 268.5h1.5v1.5h-1.5zM40.25 272.25h1.5v1.5h-1.5zM62.75 277.25h1.5v1.5h-1.5zM59 278.5h1.5v1.5h-1.5zM61.5 281h1.5v1.5h-1.5z"/><path fill="#3c8cc8" d="M85.25 198.5h1.5v1.5h-1.5zM87.75 203.5h2.75v1.5h-2.75zM76.5 204.75h1.5v1.5h-1.5zM87.75 204.75h1.5v1.5h-1.5zM76.5 207.25h1.5v1.5h-1.5zM90.25 208.5h1.5v1.5h-1.5zM61.5 216h1.5v1.5h-1.5zM65.25 218.5h1.5v1.5h-1.5zM55.25 219.75h1.5v1.5h-1.5zM61.5 221h1.5v1.5h-1.5zM66.5 221h1.5v1.5h-1.5zM121.5 222.25h1.5v1.5h-1.5zM122.75 223.5h4v1.5h-4zM104 224.75h1.5v1.5h-1.5zM102.75 226h1.5v1.5h-1.5zM137.75 231h1.5v1.5h-1.5zM75.25 233.5h4v1.5h-4zM144 234.75h1.5v1.5h-1.5zM101.5 242.25h2.75v1.5h-2.75zM50.25 243.5h2.75v1.5h-2.75zM59 244.75h1.5v1.5h-1.5zM50.25 247.25h5.25v1.5h-5.25zM79 247.25h1.5v1.5h-1.5zM51.5 248.5h1.5v1.5h-1.5zM51.5 249.75h1.5v1.5h-1.5zM80.25 249.75h1.5v1.5h-1.5zM51.5 251h1.5v1.5h-1.5zM80.25 251h1.5v1.5h-1.5zM77.75 252.25h1.5v1.5h-1.5zM80.25 252.25h1.5v1.5h-1.5zM76.5 254.75h1.5v1.5h-1.5zM55.25 256h1.5v1.5h-1.5zM75.25 256h1.5v1.5h-1.5zM120.25 256h1.5v1.5h-1.5zM122.75 256h1.5v1.5h-1.5zM116.5 261h1.5v1.5h-1.5zM127.75 263.5h2.75v1.5h-2.75zM69 276h1.5v1.5h-1.5zM101.5 277.25h1.5v1.5h-1.5zM70.25 281h1.5v1.5h-1.5zM114 283.5h2.75v1.5h-2.75zM112.75 284.75h1.5v1.5h-1.5z"/><path fill="#3cb4c8" d="M109 198.5h1.5v1.5h-1.5zM76.5 201h1.5v1.5h-1.5zM86.5 201h1.5v1.5h-1.5zM89 201h1.5v1.5h-1.5zM74 202.25h1.5v1.5h-1.5zM85.25 202.25h1.5v1.5h-1.5zM84 204.75h1.5v1.5h-1.5zM90.25 204.75h1.5v1.5h-1.5zM80.25 206h1.5v1.5h-1.5zM82.75 206h1.5v1.5h-1.5zM90.25 206h1.5v1.5h-1.5zM120.25 206h1.5v1.5h-1.5zM119 207.25h1.5v1.5h-1.5zM144 208.5h1.5v1.5h-1.5zM76.5 209.75h1.5v1.5h-1.5zM124 209.75h1.5v1.5h-1.5zM77.75 211h1.5v1.5h-1.5zM87.75 211h1.5v1.5h-1.5zM119 211h1.5v1.5h-1.5zM80.25 212.25h1.5v1.5h-1.5zM120.25 212.25h1.5v1.5h-1.5zM64 214.75h1.5v1.5h-1.5zM57.75 217.25h1.5v1.5h-1.5zM60.25 218.5h1.5v1.5h-1.5zM60.25 219.75h1.5v1.5h-1.5zM59 221h1.5v1.5h-1.5zM99 222.25h1.5v1.5h-1.5zM114 222.25h2.75v1.5h-2.75zM97.75 223.5h1.5v1.5h-1.5zM116.5 223.5h1.5v1.5h-1.5zM99 224.75h2.75v1.5h-2.75zM116.5 224.75h1.5v1.5h-1.5zM112.75 226h1.5v1.5h-1.5zM115.25 226h1.5v1.5h-1.5zM55.25 228.5h1.5v1.5h-1.5zM52.75 229.75h1.5v1.5h-1.5zM57.75 229.75h1.5v1.5h-1.5zM144 229.75h1.5v1.5h-1.5zM57.75 231h5.25v1.5h-5.25zM64 231h1.5v1.5h-1.5zM56.5 232.25h1.5v1.5h-1.5zM61.5 232.25h1.5v1.5h-1.5zM64 232.25h1.5v1.5h-1.5zM81.5 232.25h1.5v1.5h-1.5zM74 236h1.5v1.5h-1.5zM75.25 238.5h1.5v1.5h-1.5zM132.75 238.5h2.75v1.5h-2.75zM59 239.75h4v1.5h-4zM75.25 239.75h1.5v1.5h-1.5zM49 241h6.5v1.5h-6.5zM60.25 241h1.5v1.5h-1.5zM75.25 241h1.5v1.5h-1.5zM97.75 241h1.5v1.5h-1.5zM60.25 242.25h1.5v1.5h-1.5zM96.5 242.25h1.5v1.5h-1.5zM77.75 243.5h1.5v1.5h-1.5zM96.5 243.5h1.5v1.5h-1.5zM132.75 243.5h1.5v1.5h-1.5zM135.25 243.5h1.5v1.5h-1.5zM97.75 244.75h1.5v1.5h-1.5zM102.75 244.75h1.5v1.5h-1.5zM132.75 244.75h4v1.5h-4zM127.75 248.5h2.75v1.5h-2.75zM129 249.75h1.5v1.5h-1.5zM124 251h1.5v1.5h-1.5zM40.25 252.25h1.5v1.5h-1.5zM127.75 252.25h1.5v1.5h-1.5zM51.5 253.5h1.5v1.5h-1.5zM57.75 253.5h1.5v1.5h-1.5zM126.5 253.5h1.5v1.5h-1.5zM40.25 254.75h1.5v1.5h-1.5zM102.75 254.75h1.5v1.5h-1.5zM41.5 256h1.5v1.5h-1.5zM104 256h1.5v1.5h-1.5zM116.5 258.5h4v1.5h-4zM141.5 259.75h1.5v1.5h-1.5zM144 261h1.5v1.5h-1.5zM145.25 262.25h1.5v1.5h-1.5zM145.25 264.75h1.5v1.5h-1.5zM90.25 266h1.5v1.5h-1.5zM90.25 267.25h1.5v1.5h-1.5zM94 267.25h1.5v1.5h-1.5zM52.75 268.5h1.5v1.5h-1.5zM91.5 268.5h1.5v1.5h-1.5zM74 269.75h1.5v1.5h-1.5zM94 269.75h2.75v1.5h-2.75zM51.5 271h1.5v1.5h-1.5zM75.25 271h1.5v1.5h-1.5zM96.5 272.25h1.5v1.5h-1.5zM45.25 274.75h1.5v1.5h-1.5zM75.25 274.75h1.5v1.5h-1.5zM124 276h2.75v1.5h-2.75zM45.25 277.25h1.5v1.5h-1.5zM74 277.25h1.5v1.5h-1.5zM122.75 277.25h1.5v1.5h-1.5zM97.75 278.5h1.5v1.5h-1.5zM126.5 278.5h1.5v1.5h-1.5zM117.75 281h1.5v1.5h-1.5zM116.5 282.25h1.5v1.5h-1.5zM125.25 282.25h1.5v1.5h-1.5zM111.5 283.5h1.5v1.5h-1.5zM110.25 284.75h1.5v1.5h-1.5z"/><path fill="#b4b464" d="M124 198.5h1.5v1.5h-1.5zM147.75 219.75h1.5v1.5h-1.5zM67.75 221h1.5v1.5h-1.5zM135.25 227.25h1.5v1.5h-1.5zM65.25 242.25h1.5v1.5h-1.5zM56.5 247.25h1.5v1.5h-1.5zM44 248.5h2.75v1.5h-2.75zM57.75 248.5h1.5v1.5h-1.5zM100.25 258.5h1.5v1.5h-1.5zM100.25 259.75h1.5v1.5h-1.5zM86.5 262.25h1.5v1.5h-1.5zM124 262.25h1.5v1.5h-1.5zM122.75 263.5h1.5v1.5h-1.5zM122.75 264.75h2.75v1.5h-2.75zM130.25 269.75h1.5v1.5h-1.5zM141.5 279.75h2.75v1.5h-2.75z"/><path fill="#8c8c8c" d="M125.25 198.5h1.5v1.5h-1.5zM97.75 202.25h1.5v1.5h-1.5zM104 233.5h1.5v1.5h-1.5zM147.75 242.25h1.5v1.5h-1.5zM149 243.5h1.5v1.5h-1.5zM99 261h1.5v1.5h-1.5z"/><path fill="#6464b4" d="M126.5 198.5h1.5v1.5h-1.5zM126.5 199.75h1.5v1.5h-1.5zM124 201h1.5v1.5h-1.5zM147.75 202.25h2.75v1.5h-2.75zM39 203.5h1.5v1.5h-1.5zM149 203.5h1.5v1.5h-1.5zM71.5 204.75h4v1.5h-4zM72.75 206h2.75v1.5h-2.75zM94 211h1.5v1.5h-1.5zM92.75 212.25h1.5v1.5h-1.5zM105.25 221h1.5v1.5h-1.5zM76.5 222.25h1.5v1.5h-1.5zM109 229.75h2.75v1.5h-2.75zM106.5 231h1.5v1.5h-1.5zM145.25 236h1.5v1.5h-1.5zM77.75 237.25h1.5v1.5h-1.5zM77.75 238.5h1.5v1.5h-1.5zM79 239.75h1.5v1.5h-1.5zM45.25 242.25h2.75v1.5h-2.75zM45.25 243.5h2.75v1.5h-2.75zM55.25 243.5h2.75v1.5h-2.75zM45.25 244.75h2.75v1.5h-2.75zM55.25 244.75h2.75v1.5h-2.75zM47.75 251h2.75v1.5h-2.75zM47.75 252.25h2.75v1.5h-2.75zM46.5 253.5h4v1.5h-4zM46.5 254.75h1.5v1.5h-1.5zM94 256h1.5v1.5h-1.5zM92.75 257.25h1.5v1.5h-1.5zM92.75 258.5h1.5v1.5h-1.5zM90.25 261h1.5v1.5h-1.5zM97.75 263.5h1.5v1.5h-1.5z"/><path fill="#a0c878" d="M140.25 198.5h1.5v1.5h-1.5zM100.25 199.75h1.5v1.5h-1.5zM66.5 203.5h1.5v1.5h-1.5zM107.75 203.5h1.5v1.5h-1.5zM107.75 204.75h1.5v1.5h-1.5zM106.5 206h2.75v1.5h-2.75zM107.75 214.75h2.75v1.5h-2.75zM139 223.5h1.5v1.5h-1.5zM142.75 223.5h1.5v1.5h-1.5zM144 224.75h1.5v1.5h-1.5zM57.75 227.25h1.5v1.5h-1.5zM124 239.75h1.5v1.5h-1.5zM85.25 247.25h1.5v1.5h-1.5zM94 248.5h2.75v1.5h-2.75zM66.5 258.5h1.5v1.5h-1.5zM110.25 269.75h1.5v1.5h-1.5zM54 278.5h1.5v1.5h-1.5zM57.75 279.75h1.5v1.5h-1.5zM146.5 279.75h1.5v1.5h-1.5zM149 281h1.5v1.5h-1.5zM40.25 282.25h1.5v1.5h-1.5z"/><path fill="#3c8cdc" d="M79 199.75h2.75v1.5h-2.75zM79 201h2.75v1.5h-2.75zM75.25 203.5h1.5v1.5h-1.5zM89 204.75h1.5v1.5h-1.5zM147.75 204.75h1.5v1.5h-1.5zM86.5 206h2.75v1.5h-2.75zM87.75 207.25h2.75v1.5h-2.75zM87.75 208.5h2.75v1.5h-2.75zM62.75 216h1.5v1.5h-1.5zM61.5 217.25h4v1.5h-4zM61.5 218.5h4v1.5h-4zM61.5 219.75h5.25v1.5h-5.25zM124 219.75h2.75v1.5h-2.75zM55.25 221h2.75v1.5h-2.75zM62.75 221h4v1.5h-4zM122.75 221h5.25v1.5h-5.25zM55.25 222.25h2.75v1.5h-2.75zM64 222.25h4v1.5h-4zM101.5 222.25h2.75v1.5h-2.75zM122.75 222.25h5.25v1.5h-5.25zM101.5 223.5h4v1.5h-4zM101.5 224.75h2.75v1.5h-2.75zM137.75 228.5h2.75v1.5h-2.75zM137.75 229.75h2.75v1.5h-2.75zM75.25 231h1.5v1.5h-1.5zM75.25 232.25h1.5v1.5h-1.5zM70.25 243.5h1.5v1.5h-1.5zM59 246h1.5v1.5h-1.5zM52.75 248.5h2.75v1.5h-2.75zM79 248.5h1.5v1.5h-1.5zM79 249.75h1.5v1.5h-1.5zM54 251h1.5v1.5h-1.5zM79 251h1.5v1.5h-1.5zM52.75 252.25h4v1.5h-4zM79 252.25h1.5v1.5h-1.5zM54 253.5h2.75v1.5h-2.75zM54 254.75h2.75v1.5h-2.75zM100.25 262.25h2.75v1.5h-2.75zM104 262.25h1.5v1.5h-1.5zM130.25 262.25h4v1.5h-4zM100.25 263.5h5.25v1.5h-5.25zM130.25 263.5h4v1.5h-4zM100.25 264.75h4v1.5h-4zM132.75 264.75h1.5v1.5h-1.5zM67.75 269.75h4v1.5h-4zM67.75 271h2.75v1.5h-2.75zM67.75 272.25h2.75v1.5h-2.75zM49 273.5h1.5v1.5h-1.5zM69 273.5h1.5v1.5h-1.5zM70.25 276h1.5v1.5h-1.5zM70.25 277.25h2.75v1.5h-2.75zM70.25 278.5h4v1.5h-4zM70.25 279.75h4v1.5h-4zM104 279.75h2.75v1.5h-2.75zM71.5 281h2.75v1.5h-2.75zM114 281h1.5v1.5h-1.5zM114 282.25h1.5v1.5h-1.5z"/><path fill="#a0a078" d="M121.5 199.75h1.5v1.5h-1.5zM96.5 211h1.5v1.5h-1.5zM46.5 223.5h1.5v1.5h-1.5zM47.75 224.75h1.5v1.5h-1.5zM46.5 226h1.5v1.5h-1.5zM46.5 248.5h1.5v1.5h-1.5zM56.5 284.75h1.5v1.5h-1.5z"/><path fill="#a0b478" d="M99 201h1.5v1.5h-1.5zM44 209.75h1.5v1.5h-1.5zM147.75 218.5h1.5v1.5h-1.5zM44 226h1.5v1.5h-1.5zM136.5 226h1.5v1.5h-1.5zM94 227.25h1.5v1.5h-1.5zM94 228.5h1.5v1.5h-1.5zM135.25 228.5h1.5v1.5h-1.5zM65.25 241h1.5v1.5h-1.5zM71.5 241h1.5v1.5h-1.5zM55.25 248.5h1.5v1.5h-1.5zM45.25 249.75h1.5v1.5h-1.5zM125.25 263.5h1.5v1.5h-1.5zM125.25 264.75h1.5v1.5h-1.5zM130.25 266h2.75v1.5h-2.75zM140.25 281h1.5v1.5h-1.5z"/><path fill="#648ca0" d="M149 201h1.5v1.5h-1.5zM56.5 202.25h1.5v1.5h-1.5zM55.25 203.5h2.75v1.5h-2.75zM121.5 203.5h1.5v1.5h-1.5zM136.5 203.5h1.5v1.5h-1.5zM54 204.75h1.5v1.5h-1.5zM56.5 204.75h2.75v1.5h-2.75zM57.75 206h1.5v1.5h-1.5zM141.5 206h1.5v1.5h-1.5zM40.25 207.25h1.5v1.5h-1.5zM57.75 207.25h1.5v1.5h-1.5zM40.25 208.5h1.5v1.5h-1.5zM54 208.5h1.5v1.5h-1.5zM56.5 208.5h2.75v1.5h-2.75zM72.75 208.5h1.5v1.5h-1.5zM54 209.75h1.5v1.5h-1.5zM56.5 209.75h1.5v1.5h-1.5zM66.5 209.75h2.75v1.5h-2.75zM71.5 209.75h1.5v1.5h-1.5zM94 209.75h1.5v1.5h-1.5zM52.75 211h1.5v1.5h-1.5zM69 211h2.75v1.5h-2.75zM56.5 213.5h2.75v1.5h-2.75zM90.25 214.75h1.5v1.5h-1.5zM131.5 214.75h1.5v1.5h-1.5zM79 217.25h1.5v1.5h-1.5zM79 218.5h1.5v1.5h-1.5zM79 219.75h1.5v1.5h-1.5zM105.25 219.75h1.5v1.5h-1.5zM79 221h1.5v1.5h-1.5zM40.25 223.5h1.5v1.5h-1.5zM41.5 224.75h1.5v1.5h-1.5zM65.25 224.75h1.5v1.5h-1.5zM39 232.25h1.5v1.5h-1.5zM66.5 232.25h5.25v1.5h-5.25zM111.5 232.25h1.5v1.5h-1.5zM65.25 233.5h1.5v1.5h-1.5zM40.25 237.25h2.75v1.5h-2.75zM144 237.25h1.5v1.5h-1.5zM145.25 238.5h2.75v1.5h-2.75zM80.25 239.75h1.5v1.5h-1.5zM147.75 247.25h1.5v1.5h-1.5zM49 254.75h1.5v1.5h-1.5zM44 258.5h1.5v1.5h-1.5zM100.25 261h1.5v1.5h-1.5zM86.5 263.5h1.5v1.5h-1.5zM101.5 271h1.5v1.5h-1.5zM104 272.25h1.5v1.5h-1.5zM65.25 276h1.5v1.5h-1.5zM64 277.25h1.5v1.5h-1.5zM55.25 284.75h1.5v1.5h-1.5z"/><path fill="#8ca078" d="M51.5 202.25h1.5v1.5h-1.5zM102.75 203.5h1.5v1.5h-1.5zM102.75 204.75h1.5v1.5h-1.5zM102.75 206h1.5v1.5h-1.5zM102.75 207.25h1.5v1.5h-1.5zM99 208.5h1.5v1.5h-1.5zM42.75 209.75h1.5v1.5h-1.5zM100.25 209.75h1.5v1.5h-1.5zM41.5 211h5.25v1.5h-5.25zM42.75 212.25h4v1.5h-4zM44 213.5h1.5v1.5h-1.5zM96.5 213.5h1.5v1.5h-1.5zM95.25 214.75h1.5v1.5h-1.5zM86.5 216h1.5v1.5h-1.5zM94 216h1.5v1.5h-1.5zM86.5 217.25h1.5v1.5h-1.5zM87.75 218.5h1.5v1.5h-1.5zM141.5 222.25h1.5v1.5h-1.5zM44 223.5h2.75v1.5h-2.75zM45.25 226h1.5v1.5h-1.5zM102.75 232.25h1.5v1.5h-1.5zM102.75 233.5h1.5v1.5h-1.5zM105.25 233.5h1.5v1.5h-1.5zM102.75 234.75h2.75v1.5h-2.75zM39 241h1.5v1.5h-1.5zM146.5 241h1.5v1.5h-1.5zM39 242.25h1.5v1.5h-1.5zM39 243.5h1.5v1.5h-1.5zM39 244.75h1.5v1.5h-1.5zM146.5 244.75h1.5v1.5h-1.5zM46.5 258.5h1.5v1.5h-1.5zM61.5 274.75h1.5v1.5h-1.5zM56.5 281h2.75v1.5h-2.75z"/><path fill="#b4dc64" d="M64 202.25h1.5v1.5h-1.5zM84 218.5h1.5v1.5h-1.5zM49 222.25h1.5v1.5h-1.5zM119 239.75h1.5v1.5h-1.5zM111.5 241h1.5v1.5h-1.5zM117.75 241h1.5v1.5h-1.5zM69 258.5h1.5v1.5h-1.5zM79 264.75h1.5v1.5h-1.5zM110.25 273.5h1.5v1.5h-1.5z"/><path fill="#a0b464" d="M96.5 202.25h1.5v1.5h-1.5zM102.75 202.25h1.5v1.5h-1.5zM96.5 203.5h1.5v1.5h-1.5zM97.75 206h1.5v1.5h-1.5zM95.25 209.75h1.5v1.5h-1.5zM99 209.75h1.5v1.5h-1.5zM86.5 218.5h1.5v1.5h-1.5zM39 219.75h1.5v1.5h-1.5zM140.25 222.25h1.5v1.5h-1.5zM92.75 227.25h1.5v1.5h-1.5zM66.5 243.5h1.5v1.5h-1.5zM146.5 243.5h1.5v1.5h-1.5zM92.75 261h1.5v1.5h-1.5zM122.75 262.25h1.5v1.5h-1.5zM131.5 269.75h1.5v1.5h-1.5z"/><path fill="#64a0b4" d="M115.25 202.25h1.5v1.5h-1.5zM119 202.25h1.5v1.5h-1.5zM112.75 204.75h1.5v1.5h-1.5zM112.75 206h2.75v1.5h-2.75zM65.25 207.25h1.5v1.5h-1.5zM62.75 208.5h1.5v1.5h-1.5zM65.25 208.5h1.5v1.5h-1.5zM92.75 208.5h1.5v1.5h-1.5zM72.75 211h2.75v1.5h-2.75zM90.25 212.25h1.5v1.5h-1.5zM75.25 213.5h1.5v1.5h-1.5zM42.75 214.75h1.5v1.5h-1.5zM110.25 219.75h1.5v1.5h-1.5zM127.75 222.25h1.5v1.5h-1.5zM137.75 224.75h1.5v1.5h-1.5zM91.5 228.5h1.5v1.5h-1.5zM102.75 228.5h1.5v1.5h-1.5zM136.5 228.5h1.5v1.5h-1.5zM104 229.75h1.5v1.5h-1.5zM69 231h1.5v1.5h-1.5zM91.5 231h1.5v1.5h-1.5zM92.75 232.25h2.75v1.5h-2.75zM92.75 236h2.75v1.5h-2.75zM101.5 236h1.5v1.5h-1.5zM92.75 237.25h2.75v1.5h-2.75zM96.5 237.25h1.5v1.5h-1.5zM126.5 241h2.75v1.5h-2.75zM127.75 242.25h1.5v1.5h-1.5zM127.75 243.5h2.75v1.5h-2.75zM114 246h1.5v1.5h-1.5zM42.75 247.25h1.5v1.5h-1.5zM59 247.25h1.5v1.5h-1.5zM116.5 247.25h1.5v1.5h-1.5zM116.5 248.5h1.5v1.5h-1.5zM149 248.5h1.5v1.5h-1.5zM85.25 249.75h4v1.5h-4zM115.25 249.75h1.5v1.5h-1.5zM85.25 251h2.75v1.5h-2.75zM92.75 251h1.5v1.5h-1.5zM110.25 251h2.75v1.5h-2.75zM132.75 251h1.5v1.5h-1.5zM95.25 252.25h1.5v1.5h-1.5zM131.5 252.25h1.5v1.5h-1.5zM100.25 257.25h2.75v1.5h-2.75zM149 257.25h1.5v1.5h-1.5zM127.75 261h1.5v1.5h-1.5zM75.25 262.25h1.5v1.5h-1.5zM75.25 263.5h2.75v1.5h-2.75zM126.5 263.5h1.5v1.5h-1.5zM75.25 264.75h2.75v1.5h-2.75zM125.25 266h1.5v1.5h-1.5zM132.75 267.25h1.5v1.5h-1.5zM136.5 269.75h1.5v1.5h-1.5zM39 271h1.5v1.5h-1.5zM149 271h1.5v1.5h-1.5zM149 272.25h1.5v1.5h-1.5zM39 273.5h1.5v1.5h-1.5zM130.25 273.5h1.5v1.5h-1.5zM136.5 276h1.5v1.5h-1.5zM66.5 277.25h1.5v1.5h-1.5zM60.25 278.5h4v1.5h-4zM66.5 278.5h1.5v1.5h-1.5zM60.25 279.75h4v1.5h-4zM139 279.75h1.5v1.5h-1.5z"/><path fill="#5078b4" d="M72.75 203.5h1.5v1.5h-1.5zM147.75 203.5h1.5v1.5h-1.5zM75.25 204.75h1.5v1.5h-1.5zM39 207.25h1.5v1.5h-1.5zM74 207.25h1.5v1.5h-1.5zM66.5 212.25h1.5v1.5h-1.5zM106.5 221h1.5v1.5h-1.5zM106.5 222.25h1.5v1.5h-1.5zM107.75 229.75h1.5v1.5h-1.5zM111.5 229.75h1.5v1.5h-1.5zM146.5 234.75h1.5v1.5h-1.5zM149 234.75h1.5v1.5h-1.5zM76.5 236h1.5v1.5h-1.5zM144 236h1.5v1.5h-1.5zM146.5 236h1.5v1.5h-1.5zM76.5 237.25h1.5v1.5h-1.5zM77.75 239.75h1.5v1.5h-1.5zM45.25 241h2.75v1.5h-2.75zM47.75 242.25h1.5v1.5h-1.5zM55.25 242.25h2.75v1.5h-2.75zM57.75 243.5h1.5v1.5h-1.5zM57.75 244.75h1.5v1.5h-1.5zM55.25 246h1.5v1.5h-1.5zM50.25 251h1.5v1.5h-1.5zM46.5 252.25h1.5v1.5h-1.5zM50.25 252.25h1.5v1.5h-1.5zM91.5 253.5h1.5v1.5h-1.5zM45.25 254.75h1.5v1.5h-1.5zM91.5 254.75h1.5v1.5h-1.5zM94 254.75h1.5v1.5h-1.5zM91.5 257.25h1.5v1.5h-1.5zM91.5 258.5h1.5v1.5h-1.5zM96.5 266h1.5v1.5h-1.5zM55.25 268.5h1.5v1.5h-1.5zM55.25 269.75h1.5v1.5h-1.5z"/><path fill="#5064b4" d="M39 204.75h1.5v1.5h-1.5zM39 206h1.5v1.5h-1.5zM75.25 206h1.5v1.5h-1.5zM77.75 236h1.5v1.5h-1.5zM47.75 243.5h1.5v1.5h-1.5zM54 243.5h1.5v1.5h-1.5zM47.75 244.75h1.5v1.5h-1.5zM54 244.75h1.5v1.5h-1.5zM56.5 246h1.5v1.5h-1.5zM92.75 256h1.5v1.5h-1.5zM89 262.25h1.5v1.5h-1.5zM97.75 264.75h1.5v1.5h-1.5zM100.25 266h1.5v1.5h-1.5zM99 267.25h1.5v1.5h-1.5zM97.75 268.5h1.5v1.5h-1.5zM104 276h1.5v1.5h-1.5zM102.75 277.25h1.5v1.5h-1.5z"/><path fill="#8c8c78" d="M97.75 204.75h1.5v1.5h-1.5zM99 207.25h1.5v1.5h-1.5zM96.5 212.25h1.5v1.5h-1.5zM46.5 224.75h1.5v1.5h-1.5zM147.75 243.5h1.5v1.5h-1.5zM147.75 244.75h2.75v1.5h-2.75zM94 258.5h1.5v1.5h-1.5zM61.5 276h1.5v1.5h-1.5z"/><path fill="#7864a0" d="M99 204.75h1.5v1.5h-1.5zM100.25 206h1.5v1.5h-1.5zM94 212.25h2.75v1.5h-2.75zM94 213.5h2.75v1.5h-2.75zM94 214.75h1.5v1.5h-1.5zM105.25 268.5h1.5v1.5h-1.5z"/><path fill="#78648c" d="M101.5 204.75h1.5v1.5h-1.5z"/><path fill="#5064c8" d="M149 204.75h1.5v1.5h-1.5zM97.75 266h1.5v1.5h-1.5zM97.75 267.25h1.5v1.5h-1.5z"/><path fill="#648cb4" d="M40.25 206h1.5v1.5h-1.5zM65.25 209.75h1.5v1.5h-1.5zM64 211h1.5v1.5h-1.5zM65.25 212.25h1.5v1.5h-1.5zM106.5 219.75h1.5v1.5h-1.5zM71.5 229.75h1.5v1.5h-1.5zM70.25 231h1.5v1.5h-1.5zM71.5 232.25h1.5v1.5h-1.5zM125.25 241h1.5v1.5h-1.5zM124 242.25h2.75v1.5h-2.75zM124 243.5h2.75v1.5h-2.75zM57.75 246h1.5v1.5h-1.5zM47.75 247.25h1.5v1.5h-1.5zM149 247.25h1.5v1.5h-1.5zM49 248.5h1.5v1.5h-1.5zM134 272.25h2.75v1.5h-2.75zM72.75 283.5h1.5v1.5h-1.5z"/><path fill="#648c8c" d="M54 206h1.5v1.5h-1.5zM69 207.25h1.5v1.5h-1.5zM52.75 212.25h1.5v1.5h-1.5zM140.25 219.75h1.5v1.5h-1.5zM40.25 222.25h1.5v1.5h-1.5zM96.5 263.5h1.5v1.5h-1.5z"/><path fill="#64a08c" d="M54 207.25h1.5v1.5h-1.5zM67.75 208.5h1.5v1.5h-1.5zM52.75 209.75h1.5v1.5h-1.5zM51.5 212.25h1.5v1.5h-1.5zM131.5 213.5h1.5v1.5h-1.5zM137.75 216h1.5v1.5h-1.5zM137.75 217.25h1.5v1.5h-1.5zM40.25 224.75h1.5v1.5h-1.5zM39 238.5h2.75v1.5h-2.75zM144 238.5h1.5v1.5h-1.5zM149 238.5h1.5v1.5h-1.5zM42.75 243.5h1.5v1.5h-1.5zM44 259.75h1.5v1.5h-1.5zM135.25 261h1.5v1.5h-1.5zM89 282.25h1.5v1.5h-1.5zM91.5 282.25h1.5v1.5h-1.5z"/><path fill="#8ca08c" d="M45.25 208.5h1.5v1.5h-1.5zM44 247.25h2.75v1.5h-2.75zM47.75 248.5h1.5v1.5h-1.5zM140.25 279.75h1.5v1.5h-1.5z"/><path fill="#8cb464" d="M100.25 211h1.5v1.5h-1.5zM41.5 212.25h1.5v1.5h-1.5z"/><path fill="#50a0a0" d="M69 212.25h1.5v1.5h-1.5z"/><path fill="#64b4b4" d="M75.25 212.25h1.5v1.5h-1.5zM137.75 233.5h1.5v1.5h-1.5zM135.25 239.75h1.5v1.5h-1.5zM39 249.75h1.5v1.5h-1.5zM90.25 253.5h1.5v1.5h-1.5zM74 254.75h1.5v1.5h-1.5zM40.25 258.5h1.5v1.5h-1.5zM149 282.25h1.5v1.5h-1.5zM142.75 283.5h1.5v1.5h-1.5z"/><path fill="#a0a064" d="M47.75 223.5h1.5v1.5h-1.5zM94 259.75h1.5v1.5h-1.5z"/><path fill="#a08c78" d="M45.25 224.75h1.5v1.5h-1.5z"/><path fill="#78c8a0" d="M57.75 224.75h1.5v1.5h-1.5z"/><path fill="#8cc88c" d="M59 228.5h1.5v1.5h-1.5zM149 278.5h1.5v1.5h-1.5zM130.25 281h1.5v1.5h-1.5z"/><path fill="#788ca0" d="M106.5 232.25h1.5v1.5h-1.5zM47.75 249.75h1.5v1.5h-1.5z"/><path fill="#78a078" d="M91.5 242.25h1.5v1.5h-1.5zM87.75 243.5h1.5v1.5h-1.5zM54 282.25h1.5v1.5h-1.5z"/><path fill="#b4b450" d="M57.75 247.25h1.5v1.5h-1.5z"/><path fill="#b4a064" d="M97.75 261h1.5v1.5h-1.5z"/><path fill="#dcc828" d="M117.75 273.5h1.5v1.5h-1.5z"/><path fill="#3c78dc" d="M105.25 278.5h1.5v1.5h-1.5z"/></g>
<g clip-path="url(#filmtop)"><path d="M140.7,196 V205 H49.9 V219 H140.7 V232.5 H49.9 V247.3 H140.7 V261.5 H49.9 V275.5 H140.7 V290" fill="none" stroke="#3a80e6" stroke-opacity="0.5" stroke-width="4.8"/>
<path d="M140.7,196 V205 H49.9 V219 H140.7 V232.5 H49.9 V247.3 H140.7 V261.5 H49.9 V275.5 H140.7 V290" fill="none" stroke="#62dcf6" stroke-opacity="0.6" stroke-width="2.4"/></g>
<text x="30.1" y="244.6" font-size="11.6" fill="#111">A</text>
<text x="152.7" y="244.6" font-size="11.6" fill="#111">B</text>
<path d="M27.9,239 Q18.4,241 18.4,252 V316.3 Q18.4,326.3 28.4,326.3 H80.8 M108.3,326.3 H162.8 Q172.8,326.3 172.8,316.3 V252 Q172.8,241 163.5,239" fill="none" stroke="#333" stroke-width="1.1"/>
<text x="85.6" y="328.7" font-size="12.3" font-style="italic" fill="#222">V</text>
<text x="92.6" y="331.6" font-size="7.7" fill="#222">IDE</text>
<text x="231.2" y="14.3" font-size="15.8" font-weight="bold" fill="#111">b</text>
<path d="M259.8,136.4 H262.4 M260.8,124.18 H262.4 M259.8,111.95 H262.4 M260.8,99.73 H262.4 M259.8,87.5 H262.4 M260.8,75.28 H262.4 M259.8,63.05 H262.4 M260.8,50.83 H262.4 M259.8,38.6 H262.4 M277,139.3 V141.9 M306.9,139.3 V140.9 M336.8,139.3 V141.9 M366.7,139.3 V140.9 M396.6,139.3 V141.9 M426.5,139.3 V140.9 M456.4,139.3 V141.9" stroke="#666" stroke-width="0.8" fill="none"/>
<text x="258.6" y="140.1" font-size="10.3" text-anchor="end" fill="#222">0</text>
<text x="258.6" y="115.65" font-size="10.3" text-anchor="end" fill="#222">1</text>
<text x="258.6" y="91.2" font-size="10.3" text-anchor="end" fill="#222">2</text>
<text x="258.6" y="66.75" font-size="10.3" text-anchor="end" fill="#222">3</text>
<text x="258.6" y="42.3" font-size="10.3" text-anchor="end" fill="#222">4</text>
<text x="277" y="152.1" font-size="10.3" text-anchor="middle" fill="#222">0</text>
<text x="336.8" y="152.1" font-size="10.3" text-anchor="middle" fill="#222">1</text>
<text x="396.6" y="152.1" font-size="10.3" text-anchor="middle" fill="#222">2</text>
<text x="456.4" y="152.1" font-size="10.3" text-anchor="middle" fill="#222">3</text>
<text transform="translate(234.4,76.9) rotate(-90)" font-size="13" text-anchor="middle" fill="#222"><tspan font-style="italic">I</tspan><tspan font-size="8.5" dy="2.6">IDE</tspan><tspan dy="-2.6"> (µA)</tspan></text>
<text x="368" y="171.2" font-size="13.4" text-anchor="middle" fill="#222">Time (min)</text>
<g clip-path="none" fill="none" stroke-linejoin="round">
<path d="M277.2,136.2 C278.5,136.08 281.2,135.65 285,135.5 C288.8,135.35 290.83,135.35 300,135.3 C309.17,135.25 323.33,135.22 340,135.2 C356.67,135.18 383.33,135.17 400,135.2 C416.67,135.23 428,135.3 440,135.4 C452,135.5 466.67,135.73 472,135.8" stroke="#858585" stroke-width="1.4"/>
<path d="M277.2,136.2 C278.67,135.37 283.23,132.58 286,131.2 C288.77,129.82 290.63,129.33 293.8,127.9 C296.97,126.47 301.03,124.2 305,122.6 C308.97,121 313.43,119.57 317.6,118.3 C321.77,117.03 326.03,115.98 330,115 C333.97,114.02 336.4,113.18 341.4,112.4 C346.4,111.62 353.45,111 360,110.3 C366.55,109.6 373.2,108.77 380.7,108.2 C388.2,107.63 397.23,107.27 405,106.9 C412.77,106.53 423.58,106.15 427.3,106 M427.3,106 C427.58,106.5 428.3,108.13 429,109 C429.7,109.87 430.33,110.45 431.5,111.2 C432.67,111.95 433.75,112.6 436,113.5 C438.25,114.4 441.33,115.35 445,116.6 C448.67,117.85 453.5,119.63 458,121 C462.5,122.37 469.67,124.17 472,124.8" stroke="#e67070" stroke-width="1.45"/>
<path d="M277.2,136.2 C277.92,134.92 279.98,131.2 281.5,128.5 C283.02,125.8 284.32,124.42 286.3,120 C288.28,115.58 291.02,107.95 293.4,102 C295.78,96.05 298.22,90.23 300.6,84.3 C302.98,78.37 305.22,71.87 307.7,66.4 C310.18,60.93 312.87,55.8 315.5,51.5 C318.13,47.2 320.92,43.58 323.5,40.6 C326.08,37.62 328,35.77 331,33.6 C334,31.43 338.83,28.88 341.5,27.6 C344.17,26.32 345.15,26.27 347,25.9 C348.85,25.53 351.67,25.48 352.6,25.4" stroke="#7088f4" stroke-width="1.45"/>
<path d="M352.6,25.4 C352.77,26.67 353.23,30.23 353.6,33 C353.97,35.77 354.36,39.17 354.8,42 C355.24,44.83 355.72,47.17 356.25,50 C356.78,52.83 357.41,56.02 358,59 C358.59,61.98 359.05,64.4 359.8,67.9 C360.55,71.4 361.3,76.13 362.5,80 C363.7,83.87 365.58,87.93 367,91.1 C368.42,94.27 369.67,96.73 371,99 C372.33,101.27 373.47,102.8 375,104.7 C376.53,106.6 378.47,108.58 380.2,110.4 C381.93,112.22 383.67,114.12 385.4,115.6 C387.13,117.08 388.87,118.33 390.6,119.3 C392.33,120.27 393.19,120.62 395.8,121.4 C398.41,122.18 402.77,123.32 406.25,124 C409.73,124.68 411.91,124.82 416.7,125.5 C421.49,126.18 429.45,127.42 435,128.1 C440.55,128.78 443.83,129.12 450,129.6 C456.17,130.08 468.33,130.77 472,131" stroke="#7088f4" stroke-width="1.45"/>
<path d="M277.2,136.2 C279.33,135.57 285.37,133.38 290,132.4 C294.63,131.42 300.4,130.87 305,130.3 C309.6,129.73 313.43,129.45 317.6,129 C321.77,128.55 325.43,128.03 330,127.6 C334.57,127.17 339.67,126.83 345,126.4 C350.33,125.97 356.05,125.47 362,125 C367.95,124.53 374.7,123.93 380.7,123.6 C386.7,123.27 392.32,123.2 398,123 C403.68,122.8 412,122.5 414.8,122.4" stroke="#a8649a" stroke-width="1.45"/>
<path d="M414.8,122.4 C415.67,122.67 417.47,123.35 420,124 C422.53,124.65 425.83,125.6 430,126.3 C434.17,127 440,127.65 445,128.2 C450,128.75 455.5,129.25 460,129.6 C464.5,129.95 470,130.18 472,130.3" stroke="#a8649a" stroke-width="1.45"/>
<path d="M262.4,136.2 H277.4" stroke="#7448a8" stroke-width="1.9"/>
</g>
<path d="M293.4,37.9 L317.2,50.3 M333.1,81.4 L343.8,111.2 M396.9,93.4 L381,123.2 M449.4,105.3 L395.7,135.8" stroke="#777" stroke-width="0.6" fill="none"/>
<text x="270.6" y="32.7" font-size="8.6" fill="#8796f4">Royal blue</text>
<text x="312" y="76.1" font-size="10.4" fill="#e67a7a">Deep red</text>
<text x="379.5" y="87.9" font-size="10.4" fill="#b574a0">Far red</text>
<text x="431" y="100.5" font-size="10.4" fill="#8a8a8a">Infra red</text>
<path d="M262.4,16.4 V139.3 H472" fill="none" stroke="#666" stroke-width="1"/>
<path d="M262.4,16.4 H472 V139.3" fill="none" stroke="#999" stroke-width="1"/>
<text x="231.6" y="176.7" font-size="15.8" font-weight="bold" fill="#111">c</text>
<path d="M262.3,295.3 V297.9 M277.39,295.3 V296.9 M292.49,295.3 V297.9 M307.59,295.3 V296.9 M322.68,295.3 V297.9 M337.77,295.3 V296.9 M352.87,295.3 V297.9 M367.97,295.3 V296.9 M383.06,295.3 V297.9 M398.15,295.3 V296.9 M413.25,295.3 V297.9 M428.35,295.3 V296.9 M443.44,295.3 V297.9 M259.7,293 H262.3 M260.7,276.94 H262.3 M259.7,260.87 H262.3 M260.7,244.81 H262.3 M259.7,228.74 H262.3 M260.7,212.68 H262.3 M259.7,196.61 H262.3" stroke="#666" stroke-width="0.8" fill="none"/>
<text x="258.4" y="296.7" font-size="10.3" text-anchor="end" fill="#222">0</text>
<text x="258.4" y="264.57" font-size="10.3" text-anchor="end" fill="#222">15</text>
<text x="258.4" y="232.44" font-size="10.3" text-anchor="end" fill="#222">30</text>
<text x="258.4" y="200.31" font-size="10.3" text-anchor="end" fill="#222">45</text>
<text x="262.3" y="307.7" font-size="10.3" text-anchor="middle" fill="#222">0.0</text>
<text x="292.49" y="307.7" font-size="10.3" text-anchor="middle" fill="#222">0.1</text>
<text x="322.68" y="307.7" font-size="10.3" text-anchor="middle" fill="#222">0.2</text>
<text x="352.87" y="307.7" font-size="10.3" text-anchor="middle" fill="#222">0.3</text>
<text x="383.06" y="307.7" font-size="10.3" text-anchor="middle" fill="#222">0.4</text>
<text x="413.25" y="307.7" font-size="10.3" text-anchor="middle" fill="#222">0.5</text>
<text x="443.44" y="307.7" font-size="10.3" text-anchor="middle" fill="#222">0.6</text>
<text transform="translate(233.8,240.2) rotate(-90)" font-size="13.6" text-anchor="middle" fill="#222"><tspan font-style="italic">I</tspan><tspan font-size="8.5" dy="2.6">IDE</tspan><tspan dy="-2.6"> (µA)</tspan></text>
<text x="345" y="328.9" font-size="12.7" fill="#222"><tspan font-style="italic">V</tspan><tspan font-size="8.8" dy="3.2">IDE</tspan><tspan dy="-3.2"> (V)</tspan></text>
<g fill="none" stroke-linejoin="round">
<path d="M262.3,293 L277.39,292.95 L292.49,292.85 L307.59,292.72 L322.68,292.56 L337.77,292.37 L352.87,292.15 L367.97,291.91 L383.06,291.66 L398.15,291.38 L413.25,291.08 L428.34,290.76 L443.44,290.43" stroke="#f7d6d6" stroke-width="1.5"/>
<path d="M262.3,293 L277.39,292.95 L292.49,292.83 L307.59,292.66 L322.68,292.44 L337.77,292.18 L352.87,291.88 L367.97,291.54 L383.06,291.17 L398.15,290.77 L413.25,290.33 L428.34,289.86 L443.44,289.36" stroke="#f5c6c6" stroke-width="1.5"/>
<path d="M262.3,293 L277.39,292.93 L292.49,292.77 L307.59,292.53 L322.68,292.24 L337.77,291.89 L352.87,291.48 L367.97,291.03 L383.06,290.53 L398.15,289.98 L413.25,289.39 L428.34,288.75 L443.44,288.07" stroke="#f2b2b2" stroke-width="1.5"/>
<path d="M262.3,293 L277.39,292.91 L292.49,292.69 L307.59,292.39 L322.68,292.01 L337.77,291.55 L352.87,291.02 L367.97,290.43 L383.06,289.77 L398.15,289.06 L413.25,288.29 L428.34,287.46 L443.44,286.57" stroke="#efa0a0" stroke-width="1.5"/>
<path d="M262.3,293 L277.39,292.9 L292.49,292.66 L307.59,292.29 L322.68,291.81 L337.77,291.23 L352.87,290.54 L367.97,289.75 L383.06,288.87 L398.15,287.9 L413.25,286.83 L428.34,285.67 L443.44,284.43" stroke="#ec8e8e" stroke-width="1.5"/>
<path d="M262.3,293 L277.39,292.86 L292.49,292.46 L307.59,291.83 L322.68,290.98 L337.77,289.92 L352.87,288.64 L367.97,287.15 L383.06,285.47 L398.15,283.58 L413.25,281.49 L428.34,279.2 L443.44,276.72" stroke="#e87474" stroke-width="1.5"/>
<path d="M262.3,293 L277.39,292.7 L292.49,291.95 L307.59,290.83 L322.68,289.35 L337.77,287.55 L352.87,285.43 L367.97,283.01 L383.06,280.3 L398.15,277.3 L413.25,274.02 L428.34,270.47 L443.44,266.65" stroke="#e46262" stroke-width="1.5"/>
<path d="M262.3,293 L277.39,290.22 L292.49,285.72 L307.59,278.01 L322.68,269.44 L337.77,263.23 L352.87,257.01 L367.97,250.8 L383.06,244.59 L398.15,238.59 L413.25,232.38 L428.35,226.38 L443.44,220.17" stroke="#e04444" stroke-width="1.5"/>
<path d="M262.3,293 L277.39,289.14 L292.49,282.29 L307.59,272.44 L322.68,260.44 L337.77,248.87 L352.87,238.16 L367.97,229.6 L383.06,221.67 L398.15,214.17 L413.25,206.89 L428.35,200.04 L443.44,193.83" stroke="#cc1c1c" stroke-width="1.5"/>
</g>
<path d="M459.4,190.9 L467,199.9 L464.4,199.9 L464.4,290.6 L454.5,290.6 L454.5,199.9 L451.8,199.9 Z" fill="url(#arrowg)"/>
<text transform="translate(462.4,243.4) rotate(-90)" font-size="7.1" font-weight="bold" text-anchor="middle" fill="#111" stroke="#111" stroke-width="0.25">Light intensity</text>
<path d="M262.3,185.9 V295.3 H470.6" fill="none" stroke="#666" stroke-width="1"/>
<path d="M262.3,185.9 H470.6 V295.3" fill="none" stroke="#999" stroke-width="1"/>
<text x="513.7" y="14.3" font-size="15.8" font-weight="bold" fill="#111">d</text>
<path d="M683.5,110 V296 M709.8,110 V296 M724,110 V296 M738.7,110 V296 M759.6,110 V296" stroke="#f1f1f1" stroke-width="0.6" fill="none"/>
<rect x="683.5" y="85.2" width="26.3" height="24.2" fill="#fcefef" stroke="#b8b8b8" stroke-width="0.5"/>
<rect x="709.8" y="62.7" width="14.2" height="46.7" fill="#fcc8c8" stroke="#b8b8b8" stroke-width="0.5"/>
<rect x="724" y="41.6" width="14.7" height="67.8" fill="#e07e7e" stroke="#b8b8b8" stroke-width="0.5"/>
<rect x="738.7" y="22.8" width="20.9" height="86.6" fill="#cc0000" stroke="#b8b8b8" stroke-width="0.5"/>
<rect x="564.6" y="104.8" width="118.9" height="4.8" fill="url(#hatch)"/>
<rect x="759.6" y="104.8" width="35.4" height="4.8" fill="url(#hatch)"/>
<path d="M568.4,102.8 H680.3" stroke="#555" stroke-width="1.3"/><path d="M565.4,102.8 l4.6,-2.3 v4.6 Z M683.3,102.8 l-4.6,-2.3 v4.6 Z" fill="#111"/>
<path d="M763.2,102.8 H791.6" stroke="#555" stroke-width="1.3"/><path d="M760.2,102.8 l4.6,-2.3 v4.6 Z M794.6,102.8 l-4.6,-2.3 v4.6 Z" fill="#111"/>
<text x="624.8" y="101.2" font-size="7.2" text-anchor="middle" fill="#333">dark</text>
<text x="779.2" y="101.2" font-size="7.2" text-anchor="middle" fill="#333">dark</text>
<rect x="564.6" y="200.1" width="119.4" height="10.9" fill="url(#hatch)"/>
<rect x="759.6" y="200.1" width="35.4" height="10.9" fill="url(#hatch)"/>
<rect x="684" y="200.1" width="26" height="10.9" fill="#fce9e9"/>
<rect x="710" y="200.1" width="15" height="10.9" fill="#f5c2c2"/>
<rect x="725" y="200.1" width="14.6" height="10.9" fill="#e38080"/>
<rect x="739.6" y="200.1" width="20" height="10.9" fill="#d33030"/>
<path d="M684,202.3 H759.6" stroke="#333" stroke-width="0.7"/>
<path d="M562,94.85 H564.6 M563.1,88.87 H564.6 M563.1,85.38 H564.6 M563.1,82.9 H564.6 M563.1,80.98 H564.6 M563.1,79.4 H564.6 M563.1,78.07 H564.6 M563.1,76.92 H564.6 M563.1,75.91 H564.6 M562,75 H564.6 M563.1,69.02 H564.6 M563.1,65.53 H564.6 M563.1,63.05 H564.6 M563.1,61.13 H564.6 M563.1,59.55 H564.6 M563.1,58.22 H564.6 M563.1,57.07 H564.6 M563.1,56.06 H564.6 M562,55.15 H564.6 M563.1,49.17 H564.6 M563.1,45.68 H564.6 M563.1,43.2 H564.6 M563.1,41.28 H564.6 M563.1,39.7 H564.6 M563.1,38.37 H564.6 M563.1,37.22 H564.6 M563.1,36.21 H564.6 M562,35.3 H564.6 M563.1,29.32 H564.6 M563.1,25.83 H564.6 M563.1,23.35 H564.6 M563.1,21.43 H564.6 M563.1,19.85 H564.6 M563.1,18.52 H564.6 M563.1,17.37 H564.6 M563.1,100.83 H564.6 M563.1,99.25 H564.6 M563.1,97.92 H564.6 M563.1,96.77 H564.6 M563.1,95.76 H564.6 M562,192.15 H564.6 M562,154.3 H564.6 M562,116.45 H564.6 M563.1,198.01 H564.6 M563.1,195.82 H564.6 M563.1,193.88 H564.6 M563.1,180.76 H564.6 M563.1,174.09 H564.6 M563.1,169.36 H564.6 M563.1,165.69 H564.6 M563.1,162.7 H564.6 M563.1,160.16 H564.6 M563.1,157.97 H564.6 M563.1,156.03 H564.6 M563.1,142.91 H564.6 M563.1,136.24 H564.6 M563.1,131.51 H564.6 M563.1,127.84 H564.6 M563.1,124.85 H564.6 M563.1,122.31 H564.6 M563.1,120.12 H564.6 M563.1,118.18 H564.6 M562,230.2 H564.6 M562,212.1 H564.6 M563.1,239.25 H564.6 M563.1,221.15 H564.6 M563.1,203.05 H564.6 M562,296.5 H564.6 M562,277.9 H564.6 M562,259.3 H564.6 M563.1,287.2 H564.6 M563.1,268.6 H564.6 M563.1,250 H564.6 M586.3,296.7 V299.3 M586.3,109.6 V112.2 M608.1,296.7 V298.3 M608.1,109.6 V111.2 M629.9,296.7 V299.3 M629.9,109.6 V112.2 M651.7,296.7 V298.3 M651.7,109.6 V111.2 M673.5,296.7 V299.3 M673.5,109.6 V112.2 M695.3,296.7 V298.3 M695.3,109.6 V111.2 M717.1,296.7 V299.3 M717.1,109.6 V112.2 M738.9,296.7 V298.3 M738.9,109.6 V111.2 M760.7,296.7 V299.3 M760.7,109.6 V112.2 M782.5,296.7 V298.3 M782.5,109.6 V111.2" stroke="#777" stroke-width="0.8" fill="none"/>
<path d="M564.6,16.4 V296.7 H795" fill="none" stroke="#777" stroke-width="1"/>
<path d="M564.6,16.4 H795.5 V296.7" fill="none" stroke="#999" stroke-width="0.9"/>
<path d="M564.6,109.6 H795" fill="none" stroke="#999" stroke-width="0.8"/>
<path d="M562.1,246.4 L566.9,241.9 M562.1,244.2 L566.9,239.7 M792.9,246.4 L797.7,241.9 M792.9,244.2 L797.7,239.7" stroke="#8a8a8a" stroke-width="0.8"/>
<text x="559.4" y="37.9" font-size="9.8" text-anchor="end" fill="#222">0.1</text>
<text x="559.4" y="57.75" font-size="9.8" text-anchor="end" fill="#222">0.01</text>
<text x="559.4" y="77.6" font-size="9.8" text-anchor="end" fill="#222">0.001</text>
<text x="559.4" y="97.45" font-size="9.8" text-anchor="end" fill="#222">1E-4</text>
<text x="559.4" y="119.45" font-size="9.8" text-anchor="end" fill="#222">10</text>
<text x="559.4" y="157.3" font-size="9.8" text-anchor="end" fill="#222">1</text>
<text x="559.4" y="195.15" font-size="9.8" text-anchor="end" fill="#222">0.1</text>
<text x="559.4" y="215.6" font-size="9.8" text-anchor="end" fill="#222">0.5</text>
<text x="559.4" y="233.7" font-size="9.8" text-anchor="end" fill="#222">0.4</text>
<text x="559.4" y="262.8" font-size="9.8" text-anchor="end" fill="#222">0.1</text>
<text x="559.4" y="281.4" font-size="9.8" text-anchor="end" fill="#222">0.0</text>
<text x="559.4" y="300" font-size="9.8" text-anchor="end" fill="#222">-0.1</text>
<text x="586.3" y="308.2" font-size="9.8" text-anchor="middle" fill="#222">0</text>
<text x="629.9" y="308.2" font-size="9.8" text-anchor="middle" fill="#222">10</text>
<text x="673.5" y="308.2" font-size="9.8" text-anchor="middle" fill="#222">20</text>
<text x="717.1" y="308.2" font-size="9.8" text-anchor="middle" fill="#222">30</text>
<text x="760.7" y="308.2" font-size="9.8" text-anchor="middle" fill="#222">40</text>
<text x="680.3" y="330.4" font-size="13.6" text-anchor="middle" fill="#222">Time (min)</text>
<text transform="translate(512,64.3) rotate(-90)" font-size="11.4" text-anchor="middle" fill="#222">Light intensity</text>
<text transform="translate(525.4,61.8) rotate(-90)" font-size="12" text-anchor="middle" fill="#222">(W/cm<tspan font-size="8.6" dy="-4.2">2</tspan><tspan dy="4.2">)</tspan></text>
<text transform="translate(521.3,155.8) rotate(-90)" font-size="11.6" text-anchor="middle" fill="#222"><tspan font-style="italic">I</tspan><tspan font-size="8.3" dy="2.6">IDE</tspan><tspan dy="-2.6"> (µA)</tspan></text>
<text transform="translate(525.6,248) rotate(-90)" font-size="12" text-anchor="middle" fill="#222">E vs. Ag/AgCl (V)</text>
<g fill="none" stroke="#111" stroke-width="1.55" stroke-linejoin="round">
<path d="M585.9,122 C586.03,124.47 586.35,132.1 586.7,136.8 C587.05,141.5 587.55,146.4 588,150.2 C588.45,154 588.73,156.25 589.4,159.6 C590.07,162.95 590.9,167.18 592,170.3 C593.1,173.42 594.43,176.07 596,178.3 C597.57,180.53 599.15,182.13 601.4,183.7 C603.65,185.27 606.37,186.58 609.5,187.7 C612.63,188.82 616.63,189.68 620.2,190.4 C623.77,191.12 627.6,191.57 630.9,192 C634.2,192.43 635.15,192.62 640,193 C644.85,193.38 652.87,193.93 660,194.3 C667.13,194.67 679,195.05 682.8,195.2 L683.2,195.2 C683.4,195.02 683.27,194.32 684.4,194.1 C685.53,193.88 685.85,194.05 690,193.9 C694.15,193.75 706.08,193.32 709.3,193.2 L709.3,193.2 C709.42,192.33 709.5,189.43 710,188 C710.5,186.57 711.43,185.42 712.3,184.6 C713.17,183.78 713.22,183.53 715.2,183.1 C717.18,182.67 722.7,182.18 724.2,182 L724.2,182 C724.25,181.38 724.37,179.9 724.5,178.3 C724.63,176.7 724.55,174.02 725,172.4 C725.45,170.78 726.1,169.55 727.2,168.6 C728.3,167.65 729.62,167.12 731.6,166.7 C733.58,166.28 737.85,166.2 739.1,166.1 L739.1,166.1 C739.22,165.08 739.57,162.85 739.8,160 C740.03,157.15 740.25,152.67 740.5,149 C740.75,145.33 741,141.25 741.3,138 C741.6,134.75 741.82,132.27 742.3,129.5 C742.78,126.73 743.32,123.43 744.2,121.4 C745.08,119.37 746.3,118.13 747.6,117.3 C748.9,116.47 750.03,116.58 752,116.4 C753.97,116.22 758.17,116.23 759.4,116.2 L759.4,116.2 C759.72,119.63 760.63,130.25 761.3,136.8 C761.97,143.35 762.45,150.88 763.4,155.5 C764.35,160.12 765.57,161.67 767,164.5 C768.43,167.33 770,170.02 772,172.5 C774,174.98 776.5,177.68 779,179.4 C781.5,181.12 784.33,181.9 787,182.8 C789.67,183.7 793.67,184.47 795,184.8"/>
<path d="M564.6,247.2 L575,246.7 L586.4,246.1"/>
<path d="M586.6,242.9 C586.72,241.63 587,237.4 587.3,235.3 C587.6,233.2 587.88,231.77 588.4,230.3 C588.92,228.83 589.23,227.77 590.4,226.5 C591.57,225.23 592.87,223.77 595.4,222.7 C597.93,221.63 601.5,220.82 605.6,220.1 C609.7,219.38 612.6,218.88 620,218.4 C627.4,217.92 639.68,217.53 650,217.2 C660.32,216.87 672.02,216.45 681.9,216.4 C691.78,216.35 704.73,216.82 709.3,216.9 L709.3,216.9 C709.7,217.38 710.58,219.22 711.7,219.8 C712.82,220.38 714.02,220.25 716,220.4 C717.98,220.55 722.33,220.65 723.6,220.7 L723.6,220.7 C723.87,221.18 724.13,223.02 725.2,223.6 C726.27,224.18 727.88,224.05 730,224.2 C732.12,224.35 736.58,224.45 737.9,224.5 L737.9,224.5 C738.08,225.48 738.55,228.47 739,230.4 C739.45,232.33 739.85,234.58 740.6,236.1 C741.35,237.62 742.08,238.7 743.5,239.5 C744.92,240.3 746.37,240.62 749.1,240.9 C751.83,241.18 758.1,241.15 759.9,241.2 L759.9,241.2 C760.08,240.35 760.45,238.13 761,236.1 C761.55,234.07 762.12,230.98 763.2,229 C764.28,227.02 765.62,225.47 767.5,224.2 C769.38,222.93 771.45,222.15 774.5,221.4 C777.55,220.65 782.38,220.08 785.8,219.7 C789.22,219.32 793.47,219.2 795,219.1"/>
<path d="M586.4,246.1 L586.5,286 L586.8,287.2"/>
<path d="M586.8,287.2 C586.97,286.15 587.2,282.8 587.8,280.9 C588.4,279 589.13,277.28 590.4,275.8 C591.67,274.32 592.87,273.18 595.4,272 C597.93,270.82 601.5,269.75 605.6,268.7 C609.7,267.65 612.6,266.38 620,265.7 C627.4,265.02 639.68,264.83 650,264.6 C660.32,264.37 672.02,264.32 681.9,264.3 C691.78,264.28 704.73,264.47 709.3,264.5 L709.3,264.5 C709.7,264.98 710.58,266.82 711.7,267.4 C712.82,267.98 714.02,267.85 716,268 C717.98,268.15 722.33,268.25 723.6,268.3 L723.6,268.3 C723.87,268.78 724.13,270.62 725.2,271.2 C726.27,271.78 727.88,271.65 730,271.8 C732.12,271.95 736.58,272.05 737.9,272.1 L737.9,272.1 C738.08,273.25 738.55,277 739,279 C739.45,281 739.85,282.78 740.6,284.1 C741.35,285.42 742.08,286.2 743.5,286.9 C744.92,287.6 746.37,288.07 749.1,288.3 C751.83,288.53 758.1,288.3 759.9,288.3 L759.9,288.3 C760.08,287.37 760.45,284.58 761,282.7 C761.55,280.82 762.12,278.65 763.2,277 C764.28,275.35 765.62,274.07 767.5,272.8 C769.38,271.53 771.45,270.25 774.5,269.4 C777.55,268.55 782.38,268.17 785.8,267.7 C789.22,267.23 793.47,266.78 795,266.6"/>
</g>
<text x="627.6" y="229.3" font-size="10.6" text-anchor="middle" fill="#111">B</text>
<text x="627.6" y="277" font-size="10.6" text-anchor="middle" fill="#111">A</text>
</svg></body></html>
